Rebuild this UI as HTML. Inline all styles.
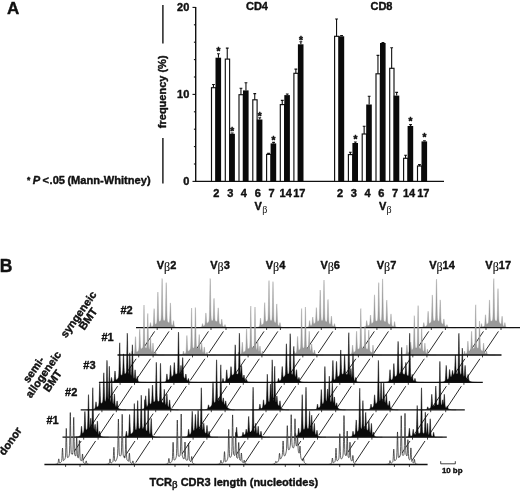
<!DOCTYPE html>
<html lang="en"><head><meta charset="utf-8"><title>Figure</title>
<style>html,body{margin:0;padding:0;background:#fff}body{width:520px;height:492px;overflow:hidden}svg{display:block}text{stroke:#111;stroke-width:0.4px;stroke-linejoin:round}</style>
</head><body>
<svg width="520" height="492" viewBox="0 0 520 492" font-family='"Liberation Sans", sans-serif' fill="#111"><text x="7" y="14.2" font-size="17" font-weight="bold" text-anchor="start" >A</text>
<line x1="162.9" y1="5" x2="162.9" y2="43.5" stroke="#111" stroke-width="1.4"/>
<line x1="162.9" y1="138" x2="162.9" y2="183.5" stroke="#111" stroke-width="1.4"/>
<text transform="translate(166.2,91.8) rotate(-90)" font-size="11" font-weight="bold" text-anchor="middle">frequency (%)</text>
<text y="184.2" font-size="11.1" font-weight="bold" text-anchor="start"><tspan x="27" font-size="8.5" dy="-1.2">*</tspan><tspan font-style="italic" x="32.8" dy="1.2">P</tspan><tspan x="42.6">&lt;</tspan><tspan x="49.6">.05 </tspan><tspan x="67.4">(Mann-Whitney)</tspan></text>
<line x1="195.7" y1="6.9" x2="195.7" y2="182.0" stroke="#111" stroke-width="1.4"/>
<line x1="192.5" y1="181.40" x2="195.7" y2="181.40" stroke="#111" stroke-width="1.1"/>
<line x1="193.89999999999998" y1="164.00" x2="195.7" y2="164.00" stroke="#111" stroke-width="1.1"/>
<line x1="193.89999999999998" y1="146.60" x2="195.7" y2="146.60" stroke="#111" stroke-width="1.1"/>
<line x1="193.89999999999998" y1="129.20" x2="195.7" y2="129.20" stroke="#111" stroke-width="1.1"/>
<line x1="193.89999999999998" y1="111.80" x2="195.7" y2="111.80" stroke="#111" stroke-width="1.1"/>
<line x1="192.5" y1="94.40" x2="195.7" y2="94.40" stroke="#111" stroke-width="1.1"/>
<line x1="193.89999999999998" y1="77.00" x2="195.7" y2="77.00" stroke="#111" stroke-width="1.1"/>
<line x1="193.89999999999998" y1="59.60" x2="195.7" y2="59.60" stroke="#111" stroke-width="1.1"/>
<line x1="193.89999999999998" y1="42.20" x2="195.7" y2="42.20" stroke="#111" stroke-width="1.1"/>
<line x1="193.89999999999998" y1="24.80" x2="195.7" y2="24.80" stroke="#111" stroke-width="1.1"/>
<line x1="192.5" y1="7.40" x2="195.7" y2="7.40" stroke="#111" stroke-width="1.1"/>
<text x="189.3" y="11.3" font-size="11" font-weight="bold" text-anchor="end" >20</text>
<text x="189.3" y="98.3" font-size="11" font-weight="bold" text-anchor="end" >10</text>
<text x="189.3" y="185.2" font-size="11" font-weight="bold" text-anchor="end" >0</text>
<line x1="195.1" y1="181.4" x2="444" y2="181.4" stroke="#111" stroke-width="1.3"/>
<text x="257" y="9.5" font-size="11" font-weight="bold" text-anchor="middle" >CD4</text>
<text x="381.5" y="9.5" font-size="11" font-weight="bold" text-anchor="middle" >CD8</text>
<rect x="211.50" y="87.70" width="4.30" height="93.70" fill="#fff" stroke="#111" stroke-width="1.15"/>
<path d="M213.45 87.70V84.50M212.05 84.50H214.85" stroke="#111" stroke-width="1.1" fill="none"/>
<rect x="215.50" y="57.70" width="5.60" height="123.70" fill="#0a0a0a"/>
<path d="M218.45 57.70V53.80M217.05 53.80H219.85" stroke="#111" stroke-width="1.1" fill="none"/>
<text x="218.45" y="55.30" font-size="10" font-weight="bold" text-anchor="middle" style="stroke-width:0.5px">*</text>
<rect x="225.30" y="59.10" width="4.30" height="122.30" fill="#fff" stroke="#111" stroke-width="1.15"/>
<path d="M227.25 59.10V48.10M225.85 48.10H228.65" stroke="#111" stroke-width="1.1" fill="none"/>
<rect x="229.30" y="133.80" width="5.60" height="47.60" fill="#0a0a0a"/>
<path d="M232.25 133.80V133.00M230.85 133.00H233.65" stroke="#111" stroke-width="1.1" fill="none"/>
<text x="232.25" y="134.70" font-size="10" font-weight="bold" text-anchor="middle" style="stroke-width:0.5px">*</text>
<rect x="239.00" y="94.70" width="4.30" height="86.70" fill="#fff" stroke="#111" stroke-width="1.15"/>
<path d="M240.95 94.70V88.30M239.55 88.30H242.35" stroke="#111" stroke-width="1.1" fill="none"/>
<rect x="243.00" y="90.40" width="5.60" height="91.00" fill="#0a0a0a"/>
<path d="M245.95 90.40V82.80M244.55 82.80H247.35" stroke="#111" stroke-width="1.1" fill="none"/>
<rect x="252.80" y="99.80" width="4.30" height="81.60" fill="#fff" stroke="#111" stroke-width="1.15"/>
<path d="M254.75 99.80V93.60M253.35 93.60H256.15" stroke="#111" stroke-width="1.1" fill="none"/>
<rect x="256.80" y="119.50" width="5.60" height="61.90" fill="#0a0a0a"/>
<path d="M259.75 119.50V117.80M258.35 117.80H261.15" stroke="#111" stroke-width="1.1" fill="none"/>
<text x="259.75" y="119.50" font-size="10" font-weight="bold" text-anchor="middle" style="stroke-width:0.5px">*</text>
<rect x="266.60" y="154.40" width="4.30" height="27.00" fill="#fff" stroke="#111" stroke-width="1.15"/>
<path d="M268.55 154.40V153.40M267.15 153.40H269.95" stroke="#111" stroke-width="1.1" fill="none"/>
<rect x="270.60" y="143.40" width="5.60" height="38.00" fill="#0a0a0a"/>
<path d="M273.55 143.40V142.40M272.15 142.40H274.95" stroke="#111" stroke-width="1.1" fill="none"/>
<text x="273.55" y="144.30" font-size="10" font-weight="bold" text-anchor="middle" style="stroke-width:0.5px">*</text>
<rect x="280.30" y="104.60" width="4.30" height="76.80" fill="#fff" stroke="#111" stroke-width="1.15"/>
<path d="M282.25 104.60V100.40M280.85 100.40H283.65" stroke="#111" stroke-width="1.1" fill="none"/>
<rect x="284.30" y="95.10" width="5.60" height="86.30" fill="#0a0a0a"/>
<path d="M287.25 95.10V94.00M285.85 94.00H288.65" stroke="#111" stroke-width="1.1" fill="none"/>
<rect x="293.90" y="73.30" width="4.30" height="108.10" fill="#fff" stroke="#111" stroke-width="1.15"/>
<path d="M295.85 73.30V69.10M294.45 69.10H297.25" stroke="#111" stroke-width="1.1" fill="none"/>
<rect x="297.90" y="44.30" width="5.60" height="137.10" fill="#0a0a0a"/>
<path d="M300.85 44.30V41.80M299.45 41.80H302.25" stroke="#111" stroke-width="1.1" fill="none"/>
<text x="300.85" y="43.70" font-size="10" font-weight="bold" text-anchor="middle" style="stroke-width:0.5px">*</text>
<rect x="334.60" y="36.30" width="4.30" height="145.10" fill="#fff" stroke="#111" stroke-width="1.15"/>
<path d="M336.55 36.30V19.00M335.15 19.00H337.95" stroke="#111" stroke-width="1.1" fill="none"/>
<rect x="338.60" y="36.30" width="5.60" height="145.10" fill="#0a0a0a"/>
<path d="M341.55 36.30V35.60M340.15 35.60H342.95" stroke="#111" stroke-width="1.1" fill="none"/>
<rect x="348.40" y="154.60" width="4.30" height="26.80" fill="#fff" stroke="#111" stroke-width="1.15"/>
<path d="M350.35 154.60V152.20M348.95 152.20H351.75" stroke="#111" stroke-width="1.1" fill="none"/>
<rect x="352.40" y="143.00" width="5.60" height="38.40" fill="#0a0a0a"/>
<path d="M355.35 143.00V142.00M353.95 142.00H356.75" stroke="#111" stroke-width="1.1" fill="none"/>
<text x="355.35" y="142.90" font-size="10" font-weight="bold" text-anchor="middle" style="stroke-width:0.5px">*</text>
<rect x="362.20" y="134.00" width="4.30" height="47.40" fill="#fff" stroke="#111" stroke-width="1.15"/>
<path d="M364.15 134.00V126.30M362.75 126.30H365.55" stroke="#111" stroke-width="1.1" fill="none"/>
<rect x="366.20" y="104.50" width="5.60" height="76.90" fill="#0a0a0a"/>
<path d="M369.15 104.50V96.20M367.75 96.20H370.55" stroke="#111" stroke-width="1.1" fill="none"/>
<rect x="376.00" y="73.80" width="4.30" height="107.60" fill="#fff" stroke="#111" stroke-width="1.15"/>
<path d="M377.95 73.80V55.40M376.55 55.40H379.35" stroke="#111" stroke-width="1.1" fill="none"/>
<rect x="380.00" y="43.00" width="5.60" height="138.40" fill="#0a0a0a"/>
<path d="M382.95 43.00V42.60M381.55 42.60H384.35" stroke="#111" stroke-width="1.1" fill="none"/>
<rect x="389.70" y="68.30" width="4.30" height="113.10" fill="#fff" stroke="#111" stroke-width="1.15"/>
<path d="M391.65 68.30V47.70M390.25 47.70H393.05" stroke="#111" stroke-width="1.1" fill="none"/>
<rect x="393.70" y="95.60" width="5.60" height="85.80" fill="#0a0a0a"/>
<path d="M396.65 95.60V92.40M395.25 92.40H398.05" stroke="#111" stroke-width="1.1" fill="none"/>
<rect x="403.60" y="158.30" width="4.30" height="23.10" fill="#fff" stroke="#111" stroke-width="1.15"/>
<path d="M405.55 158.30V155.20M404.15 155.20H406.95" stroke="#111" stroke-width="1.1" fill="none"/>
<rect x="407.60" y="126.00" width="5.60" height="55.40" fill="#0a0a0a"/>
<path d="M410.55 126.00V124.60M409.15 124.60H411.95" stroke="#111" stroke-width="1.1" fill="none"/>
<text x="410.55" y="124.90" font-size="10" font-weight="bold" text-anchor="middle" style="stroke-width:0.5px">*</text>
<rect x="417.50" y="166.00" width="4.30" height="15.40" fill="#fff" stroke="#111" stroke-width="1.15"/>
<path d="M419.45 166.00V164.60M418.05 164.60H420.85" stroke="#111" stroke-width="1.1" fill="none"/>
<rect x="421.50" y="141.40" width="5.60" height="40.00" fill="#0a0a0a"/>
<path d="M424.45 141.40V140.80M423.05 140.80H425.85" stroke="#111" stroke-width="1.1" fill="none"/>
<text x="424.45" y="141.30" font-size="10" font-weight="bold" text-anchor="middle" style="stroke-width:0.5px">*</text>
<text x="216.4" y="197.0" font-size="11" font-weight="bold" text-anchor="middle" >2</text>
<text x="230.2" y="197.0" font-size="11" font-weight="bold" text-anchor="middle" >3</text>
<text x="243.9" y="197.0" font-size="11" font-weight="bold" text-anchor="middle" >4</text>
<text x="257.7" y="197.0" font-size="11" font-weight="bold" text-anchor="middle" >6</text>
<text x="271.5" y="197.0" font-size="11" font-weight="bold" text-anchor="middle" >7</text>
<text x="285.7" y="197.0" font-size="11" font-weight="bold" text-anchor="middle" >14</text>
<text x="299.3" y="197.0" font-size="11" font-weight="bold" text-anchor="middle" >17</text>
<text x="340.0" y="197.0" font-size="11" font-weight="bold" text-anchor="middle" >2</text>
<text x="353.8" y="197.0" font-size="11" font-weight="bold" text-anchor="middle" >3</text>
<text x="367.6" y="197.0" font-size="11" font-weight="bold" text-anchor="middle" >4</text>
<text x="381.4" y="197.0" font-size="11" font-weight="bold" text-anchor="middle" >6</text>
<text x="395.1" y="197.0" font-size="11" font-weight="bold" text-anchor="middle" >7</text>
<text x="409.0" y="197.0" font-size="11" font-weight="bold" text-anchor="middle" >14</text>
<text x="423.3" y="197.0" font-size="11" font-weight="bold" text-anchor="middle" >17</text>
<text x="254.6" y="210.2" font-size="11" font-weight="bold" text-anchor="start">V<tspan font-family="'Liberation Serif', 'DejaVu Serif', serif" font-weight="normal" font-size="10" dy="3" dx="0.3" style="stroke-width:0">β</tspan><tspan dy="-3"></tspan></text>
<text x="378.9" y="210.2" font-size="11" font-weight="bold" text-anchor="start">V<tspan font-family="'Liberation Serif', 'DejaVu Serif', serif" font-weight="normal" font-size="10" dy="3" dx="0.3" style="stroke-width:0">β</tspan><tspan dy="-3"></tspan></text>
<text x="-0.3" y="272.3" font-size="17.5" font-weight="bold" text-anchor="start" >B</text>
<path d="M141.50 327.60L141.50 327.60L141.65 327.60L141.80 327.60L141.95 327.60L142.10 327.60L142.25 327.60L142.40 327.60L142.55 327.60L142.70 327.60L142.85 327.60L143.00 327.60L143.15 327.60L143.30 327.60L143.45 327.60L143.60 327.60L143.75 327.60L143.90 327.60L144.05 327.60L144.20 327.60L144.35 327.60L144.50 327.60L144.65 327.60L144.80 327.60L144.95 327.60L145.10 327.60L145.25 327.59L145.40 327.59L145.55 327.59L145.70 327.59L145.85 327.59L146.00 327.59L146.15 327.59L146.30 327.58L146.45 327.58L146.60 327.58L146.75 327.57L146.90 327.57L147.05 327.57L147.20 327.56L147.35 327.55L147.50 327.55L147.65 327.54L147.80 327.53L147.95 327.52L148.10 327.51L148.25 327.50L148.40 327.48L148.55 327.46L148.70 327.44L148.85 327.42L149.00 327.39L149.15 327.35L149.30 327.29L149.45 327.16L149.60 326.91L149.75 326.47L149.90 325.78L150.05 324.85L150.20 323.83L150.35 322.99L150.50 322.60L150.65 322.93L150.80 323.70L150.95 324.65L151.10 325.52L151.25 326.15L151.40 326.52L151.55 326.70L151.70 326.76L151.85 326.75L152.00 326.67L152.15 326.59L152.30 326.49L152.45 326.39L152.60 326.26L152.75 326.10L152.90 325.84L153.05 325.36L153.20 324.45L153.35 322.82L153.50 320.26L153.65 316.83L153.80 313.10L153.95 310.03L154.10 308.60L154.25 309.83L154.40 312.69L154.55 316.22L154.70 319.45L154.85 321.82L155.00 323.25L155.15 323.96L155.30 324.24L155.45 324.31L155.60 324.28L155.75 324.21L155.90 324.06L156.05 323.88L156.20 323.70L156.35 323.49L156.50 323.23L156.65 322.84L156.80 322.16L156.95 320.85L157.10 318.41L157.25 314.37L157.40 308.62L157.55 301.88L157.70 295.73L157.85 292.04L158.00 292.76L158.15 297.24L158.30 303.59L158.45 309.92L158.60 314.93L158.75 318.19L158.90 319.99L159.05 320.84L159.20 321.19L159.35 321.33L159.50 321.37L159.65 321.38L159.80 321.38L159.95 321.31L160.10 321.19L160.25 321.07L160.40 320.92L160.55 320.76L160.70 320.52L160.85 320.12L161.00 319.30L161.15 317.62L161.30 314.37L161.45 308.89L161.60 301.05L161.75 291.84L161.90 283.44L162.05 278.47L162.20 279.60L162.35 285.95L162.50 294.89L162.65 303.81L162.80 310.89L162.95 315.54L163.10 318.15L163.25 319.45L163.40 320.05L163.55 320.34L163.70 320.51L163.85 320.62L164.00 320.71L164.15 320.79L164.30 320.77L164.45 320.71L164.60 320.62L164.75 320.49L164.90 320.25L165.05 319.73L165.20 318.58L165.35 316.22L165.50 312.01L165.65 305.59L165.80 297.49L165.95 289.37L166.10 283.62L166.25 282.63L166.40 287.22L166.55 294.93L166.70 303.39L166.85 310.60L167.00 315.65L167.15 318.67L167.30 320.26L167.45 321.06L167.60 321.48L167.75 321.75L167.90 321.95L168.05 322.14L168.20 322.31L168.35 322.47L168.50 322.62L168.65 322.71L168.80 322.76L168.95 322.79L169.10 322.76L169.25 322.58L169.40 322.04L169.55 320.85L169.70 318.63L169.85 315.19L170.00 310.83L170.15 306.45L170.30 303.38L170.45 302.92L170.60 305.54L170.75 309.87L170.90 314.61L171.05 318.66L171.20 321.51L171.35 323.25L171.50 324.19L171.65 324.69L171.80 324.98L171.95 325.19L172.10 325.35L172.25 325.50L172.40 325.55L172.55 325.42L172.70 325.08L172.85 324.43L173.00 323.46L173.15 322.30L173.30 321.24L173.45 320.65L173.60 320.88L173.75 321.81L173.90 323.09L174.05 324.36L174.20 325.38L174.35 326.07L174.50 326.48L174.65 326.71L174.80 326.84L174.95 326.93L175.10 326.99L175.25 327.05L175.40 327.10L175.55 327.15L175.70 327.19L175.85 327.23L176.00 327.26L176.15 327.29L176.30 327.32L176.45 327.35L176.60 327.37L176.75 327.40L176.90 327.42L177.05 327.44L177.20 327.45L177.35 327.47L177.50 327.48L177.65 327.49L177.80 327.51L177.95 327.52L178.10 327.53L178.25 327.53L178.40 327.54L178.55 327.55L178.70 327.55L178.85 327.56L179.00 327.56L179.15 327.57L179.30 327.57L179.45 327.58L179.60 327.58L179.75 327.58L179.90 327.58L180.05 327.59L180.20 327.59L180.35 327.59L180.50 327.59L180.65 327.59L180.80 327.59L180.95 327.59L181.10 327.60L181.25 327.60L181.40 327.60L181.55 327.60L181.70 327.60L181.85 327.60L182.00 327.60L182.15 327.60L182.30 327.60L182.45 327.60L182.45 327.60" fill="#999" stroke="#999" stroke-width="0.4"/>
<path d="M193.50 327.60L193.50 327.60L193.65 327.60L193.80 327.60L193.95 327.60L194.10 327.60L194.25 327.60L194.40 327.60L194.55 327.60L194.70 327.60L194.85 327.60L195.00 327.60L195.15 327.60L195.30 327.60L195.45 327.60L195.60 327.60L195.75 327.60L195.90 327.60L196.05 327.60L196.20 327.59L196.35 327.59L196.50 327.59L196.65 327.59L196.80 327.59L196.95 327.59L197.10 327.59L197.25 327.58L197.40 327.58L197.55 327.58L197.70 327.57L197.85 327.57L198.00 327.56L198.15 327.56L198.30 327.55L198.45 327.55L198.60 327.54L198.75 327.53L198.90 327.52L199.05 327.51L199.20 327.50L199.35 327.49L199.50 327.47L199.65 327.46L199.80 327.44L199.95 327.42L200.10 327.40L200.25 327.38L200.40 327.35L200.55 327.32L200.70 327.29L200.85 327.25L201.00 327.21L201.15 327.16L201.30 327.09L201.45 326.98L201.60 326.78L201.75 326.45L201.90 325.94L202.05 325.26L202.20 324.52L202.35 323.91L202.50 323.60L202.65 323.79L202.80 324.28L202.95 324.89L203.10 325.45L203.25 325.83L203.40 326.04L203.55 326.12L203.70 326.10L203.85 326.03L204.00 325.91L204.15 325.79L204.30 325.66L204.45 325.52L204.60 325.33L204.75 325.06L204.90 324.59L205.05 323.76L205.20 322.38L205.35 320.33L205.50 317.77L205.65 315.21L205.80 313.35L205.95 312.91L206.10 314.14L206.25 316.30L206.40 318.69L206.55 320.69L206.70 322.05L206.85 322.81L207.00 323.13L207.15 323.22L207.30 323.20L207.45 323.13L207.60 323.01L207.75 322.86L207.90 322.70L208.05 322.53L208.20 322.36L208.35 322.18L208.50 321.98L208.65 321.75L208.80 321.46L208.95 320.99L209.10 320.12L209.25 318.35L209.40 315.02L209.55 309.43L209.70 301.46L209.85 292.10L210.00 283.57L210.15 278.49L210.30 279.58L210.45 285.95L210.60 294.94L210.75 303.91L210.90 311.02L211.05 315.68L211.20 318.28L211.35 319.56L211.50 320.15L211.65 320.41L211.80 320.56L211.95 320.65L212.10 320.73L212.25 320.79L212.40 320.79L212.55 320.70L212.70 320.54L212.85 320.22L213.00 319.52L213.15 318.13L213.30 315.64L213.45 311.85L213.60 307.08L213.75 302.30L213.90 298.91L214.05 298.31L214.20 300.97L214.35 305.46L214.50 310.40L214.65 314.60L214.80 317.54L214.95 319.29L215.10 320.21L215.25 320.66L215.40 320.89L215.55 321.03L215.70 321.15L215.85 321.25L216.00 321.34L216.15 321.43L216.30 321.51L216.45 321.55L216.60 321.58L216.75 321.60L216.90 321.58L217.05 321.45L217.20 321.08L217.35 320.26L217.50 318.72L217.65 316.33L217.80 313.29L217.95 310.25L218.10 308.13L218.25 307.84L218.40 309.70L218.55 312.76L218.70 316.11L218.85 318.98L219.00 321.02L219.15 322.28L219.30 322.98L219.45 323.38L219.60 323.64L219.75 323.83L219.90 324.00L220.05 324.16L220.20 324.31L220.35 324.45L220.50 324.53L220.65 324.56L220.80 324.48L220.95 324.21L221.10 323.61L221.25 322.65L221.40 321.40L221.55 320.15L221.70 319.29L221.85 319.22L222.00 320.08L222.15 321.46L222.30 322.96L222.45 324.24L222.60 325.17L222.75 325.74L222.90 326.08L223.05 326.28L223.20 326.41L223.35 326.51L223.50 326.60L223.65 326.68L223.80 326.72L223.95 326.72L224.10 326.65L224.25 326.47L224.40 326.15L224.55 325.68L224.70 325.17L224.85 324.76L225.00 324.60L225.15 324.84L225.30 325.32L225.45 325.91L225.60 326.44L225.75 326.85L225.90 327.10L226.05 327.25L226.20 327.33L226.35 327.38L226.50 327.41L226.65 327.44L226.80 327.46L226.95 327.47L227.10 327.49L227.25 327.50L227.40 327.51L227.55 327.52L227.70 327.53L227.85 327.54L228.00 327.55L228.15 327.56L228.30 327.56L228.45 327.57L228.60 327.57L228.75 327.58L228.90 327.58L229.05 327.58L229.20 327.58L229.35 327.59L229.50 327.59L229.65 327.59L229.80 327.59L229.95 327.59L230.10 327.59L230.25 327.59L230.40 327.60L230.55 327.60L230.70 327.60L230.85 327.60L231.00 327.60L231.15 327.60L231.30 327.60L231.45 327.60L231.60 327.60L231.75 327.60L231.90 327.60L232.05 327.60L232.20 327.60L232.35 327.60L232.50 327.60L232.65 327.60L232.80 327.60L232.95 327.60L233.10 327.60L233.25 327.60L233.40 327.60L233.55 327.60L233.70 327.60L233.85 327.60L234.00 327.60L234.00 327.60" fill="#999" stroke="#999" stroke-width="0.4"/>
<path d="M251.50 327.60L251.50 327.60L251.65 327.60L251.80 327.60L251.95 327.60L252.10 327.60L252.25 327.60L252.40 327.60L252.55 327.60L252.70 327.59L252.85 327.59L253.00 327.59L253.15 327.59L253.30 327.59L253.45 327.59L253.60 327.59L253.75 327.59L253.90 327.58L254.05 327.58L254.20 327.58L254.35 327.57L254.50 327.57L254.65 327.56L254.80 327.56L254.95 327.55L255.10 327.55L255.25 327.54L255.40 327.53L255.55 327.52L255.70 327.51L255.85 327.50L256.00 327.49L256.15 327.48L256.30 327.46L256.45 327.44L256.60 327.43L256.75 327.41L256.90 327.38L257.05 327.36L257.20 327.33L257.35 327.30L257.50 327.27L257.65 327.24L257.80 327.20L257.95 327.16L258.10 327.11L258.25 327.06L258.40 327.01L258.55 326.95L258.70 326.88L258.85 326.81L259.00 326.73L259.15 326.62L259.30 326.47L259.45 326.22L259.60 325.76L259.75 324.97L259.90 323.73L260.05 322.08L260.20 320.29L260.35 318.82L260.50 318.10L260.65 318.63L260.80 319.92L260.95 321.53L261.10 322.99L261.25 324.05L261.40 324.66L261.55 324.93L261.70 325.01L261.85 324.98L262.00 324.90L262.15 324.81L262.30 324.69L262.45 324.54L262.60 324.39L262.75 324.24L262.90 324.07L263.05 323.90L263.20 323.71L263.35 323.47L263.50 323.13L263.65 322.53L263.80 321.43L263.95 319.48L264.10 316.42L264.25 312.35L264.40 307.92L264.55 304.29L264.70 302.60L264.85 304.07L265.00 307.47L265.15 311.68L265.30 315.53L265.45 318.36L265.60 320.09L265.75 320.98L265.90 321.36L266.05 321.50L266.20 321.53L266.35 321.52L266.50 321.49L266.65 321.42L266.80 321.31L266.95 321.20L267.10 321.08L267.25 320.95L267.40 320.80L267.55 320.61L267.70 320.29L267.85 319.69L268.00 318.42L268.15 315.91L268.30 311.46L268.45 304.71L268.60 296.21L268.75 287.68L268.90 281.63L269.05 280.53L269.20 285.25L269.35 293.21L269.50 301.96L269.65 309.39L269.80 314.58L269.95 317.64L270.10 319.22L270.25 319.96L270.40 320.31L270.55 320.50L270.70 320.63L270.85 320.73L271.00 320.81L271.15 320.76L271.30 320.70L271.45 320.61L271.60 320.45L271.75 320.14L271.90 319.45L272.05 317.93L272.20 314.95L272.35 309.88L272.50 302.59L272.65 294.01L272.80 286.20L272.95 281.61L273.10 282.75L273.25 288.79L273.40 297.26L273.55 305.73L273.70 312.45L273.85 316.91L274.00 319.46L274.15 320.77L274.30 321.44L274.45 321.81L274.60 322.07L274.75 322.28L274.90 322.48L275.05 322.66L275.20 322.80L275.35 322.84L275.50 322.82L275.65 322.65L275.80 322.15L275.95 321.02L276.10 318.91L276.25 315.62L276.40 311.45L276.55 307.27L276.70 304.34L276.85 303.91L277.00 306.43L277.15 310.59L277.30 315.14L277.45 319.03L277.60 321.77L277.75 323.44L277.90 324.35L278.05 324.84L278.20 325.13L278.35 325.33L278.50 325.49L278.65 325.64L278.80 325.78L278.95 325.82L279.10 325.72L279.25 325.44L279.40 324.95L279.55 324.24L279.70 323.46L279.85 322.84L280.00 322.60L280.15 322.98L280.30 323.75L280.45 324.67L280.60 325.51L280.75 326.15L280.90 326.57L281.05 326.81L281.20 326.95L281.35 327.04L281.50 327.10L281.65 327.15L281.80 327.19L281.95 327.23L282.10 327.27L282.25 327.30L282.40 327.33L282.55 327.36L282.70 327.39L282.85 327.41L283.00 327.43L283.15 327.45L283.30 327.46L283.45 327.48L283.60 327.49L283.75 327.51L283.90 327.52L284.05 327.53L284.20 327.53L284.35 327.54L284.50 327.55L284.65 327.56L284.80 327.56L284.95 327.57L285.10 327.57L285.25 327.57L285.40 327.58L285.55 327.58L285.70 327.58L285.85 327.59L286.00 327.59L286.15 327.59L286.30 327.59L286.45 327.59L286.60 327.59L286.75 327.59L286.90 327.60L287.05 327.60L287.20 327.60L287.35 327.60L287.50 327.60L287.65 327.60L287.80 327.60L287.95 327.60L288.10 327.60L288.25 327.60L288.40 327.60L288.55 327.60L288.70 327.60L288.85 327.60L289.00 327.60L289.00 327.60" fill="#999" stroke="#999" stroke-width="0.4"/>
<path d="M300.60 327.60L300.60 327.60L300.75 327.60L300.90 327.60L301.05 327.60L301.20 327.60L301.35 327.60L301.50 327.59L301.65 327.59L301.80 327.59L301.95 327.59L302.10 327.59L302.25 327.59L302.40 327.59L302.55 327.59L302.70 327.59L302.85 327.58L303.00 327.58L303.15 327.58L303.30 327.58L303.45 327.57L303.60 327.57L303.75 327.57L303.90 327.56L304.05 327.56L304.20 327.55L304.35 327.55L304.50 327.54L304.65 327.53L304.80 327.53L304.95 327.52L305.10 327.51L305.25 327.50L305.40 327.49L305.55 327.48L305.70 327.46L305.85 327.45L306.00 327.43L306.15 327.42L306.30 327.40L306.45 327.38L306.60 327.36L306.75 327.33L306.90 327.31L307.05 327.28L307.20 327.25L307.35 327.22L307.50 327.18L307.65 327.14L307.80 327.10L307.95 327.05L308.10 327.00L308.25 326.92L308.40 326.82L308.55 326.64L308.70 326.30L308.85 325.71L309.00 324.79L309.15 323.56L309.30 322.23L309.45 321.13L309.60 320.60L309.75 321.01L309.90 321.99L310.05 323.20L310.20 324.30L310.35 325.10L310.50 325.57L310.65 325.79L310.80 325.85L310.95 325.83L311.10 325.78L311.25 325.66L311.40 325.53L311.55 325.36L311.70 325.08L311.85 324.61L312.00 323.81L312.15 322.58L312.30 320.95L312.45 319.18L312.60 317.72L312.75 317.00L312.90 317.51L313.05 318.76L313.20 320.32L313.35 321.75L313.50 322.77L313.65 323.37L313.80 323.64L313.95 323.72L314.10 323.70L314.25 323.63L314.40 323.52L314.55 323.39L314.70 323.25L314.85 323.10L315.00 322.91L315.15 322.65L315.30 322.21L315.45 321.39L315.60 319.96L315.75 317.72L315.90 314.74L316.05 311.50L316.20 308.84L316.35 307.60L316.50 308.67L316.65 311.16L316.80 314.23L316.95 317.05L317.10 319.12L317.25 320.38L317.40 321.03L317.55 321.31L317.70 321.41L317.85 321.43L318.00 321.41L318.15 321.32L318.30 321.22L318.45 321.11L318.60 320.99L318.75 320.83L318.90 320.58L319.05 320.11L319.20 319.13L319.35 317.20L319.50 313.78L319.65 308.59L319.80 302.05L319.95 295.51L320.10 290.85L320.25 290.01L320.40 293.62L320.55 299.72L320.70 306.43L320.85 312.13L321.00 316.10L321.15 318.45L321.30 319.66L321.45 320.22L321.60 320.49L321.75 320.63L321.90 320.72L322.05 320.74L322.20 320.67L322.35 320.58L322.50 320.45L322.65 320.23L322.80 319.80L322.95 318.84L323.10 316.86L323.25 313.15L323.40 307.17L323.55 299.12L323.70 290.35L323.85 283.20L324.00 280.00L324.15 283.26L324.30 290.46L324.45 299.30L324.60 307.41L324.75 313.44L324.90 317.21L325.05 319.26L325.20 320.27L325.35 320.77L325.50 321.05L325.65 321.25L325.80 321.41L325.95 321.55L326.10 321.68L326.25 321.78L326.40 321.79L326.55 321.78L326.70 321.70L326.85 321.45L327.00 320.82L327.15 319.46L327.30 316.97L327.45 313.13L327.60 308.27L327.75 303.41L327.90 299.98L328.05 299.45L328.20 302.30L328.35 307.05L328.50 312.26L328.65 316.70L328.80 319.83L328.95 321.72L329.10 322.75L329.25 323.29L329.40 323.60L329.55 323.81L329.70 323.99L329.85 324.15L330.00 324.30L330.15 324.34L330.30 324.27L330.45 324.02L330.60 323.42L330.75 322.33L330.90 320.72L331.05 318.81L331.20 317.08L331.35 316.09L331.50 316.44L331.65 317.92L331.80 319.96L331.95 322.00L332.10 323.63L332.25 324.73L332.40 325.39L332.55 325.75L332.70 325.96L332.85 326.09L333.00 326.20L333.15 326.30L333.30 326.36L333.45 326.35L333.60 326.25L333.75 326.01L333.90 325.59L334.05 324.99L334.20 324.34L334.35 323.81L334.50 323.60L334.65 323.90L334.80 324.52L334.95 325.27L335.10 325.96L335.25 326.48L335.40 326.81L335.55 327.01L335.70 327.11L335.85 327.18L336.00 327.22L336.15 327.26L336.30 327.29L336.45 327.32L336.60 327.35L336.75 327.37L336.90 327.39L337.05 327.41L337.20 327.43L337.35 327.44L337.50 327.46L337.65 327.47L337.80 327.48L337.95 327.50L338.10 327.51L338.25 327.52L338.40 327.52L338.55 327.53L338.70 327.54L338.85 327.55L339.00 327.55L339.15 327.56L339.30 327.56L339.45 327.57L339.60 327.57L339.75 327.57L339.90 327.58L340.05 327.58L340.20 327.58L340.35 327.58L340.50 327.59L340.65 327.59L340.80 327.59L340.95 327.59L341.10 327.59L341.25 327.59L341.40 327.59L341.55 327.59L341.70 327.59L341.85 327.60L342.00 327.60L342.15 327.60L342.30 327.60L342.45 327.60L342.60 327.60L342.75 327.60L342.90 327.60L343.05 327.60L343.20 327.60L343.35 327.60L343.35 327.60" fill="#999" stroke="#999" stroke-width="0.4"/>
<path d="M357.70 327.60L357.70 327.59L357.85 327.59L358.00 327.59L358.15 327.59L358.30 327.59L358.45 327.59L358.60 327.59L358.75 327.59L358.90 327.58L359.05 327.58L359.20 327.58L359.35 327.58L359.50 327.58L359.65 327.57L359.80 327.57L359.95 327.57L360.10 327.56L360.25 327.56L360.40 327.55L360.55 327.55L360.70 327.54L360.85 327.54L361.00 327.53L361.15 327.53L361.30 327.52L361.45 327.51L361.60 327.50L361.75 327.49L361.90 327.48L362.05 327.47L362.20 327.46L362.35 327.45L362.50 327.43L362.65 327.42L362.80 327.40L362.95 327.39L363.10 327.37L363.25 327.35L363.40 327.33L363.55 327.30L363.70 327.28L363.85 327.25L364.00 327.23L364.15 327.20L364.30 327.16L364.45 327.13L364.60 327.09L364.75 327.05L364.90 327.00L365.05 326.96L365.20 326.90L365.35 326.83L365.50 326.72L365.65 326.54L365.80 326.21L365.95 325.63L366.10 324.72L366.25 323.52L366.40 322.20L366.55 321.12L366.70 320.60L366.85 321.00L367.00 321.97L367.15 323.17L367.30 324.26L367.45 325.05L367.60 325.52L367.75 325.74L367.90 325.80L368.05 325.79L368.20 325.75L368.35 325.69L368.50 325.61L368.65 325.51L368.80 325.41L368.95 325.29L369.10 325.17L369.25 325.00L369.40 324.74L369.55 324.28L369.70 323.47L369.85 322.17L370.00 320.34L370.15 318.21L370.30 316.25L370.45 315.06L370.60 315.21L370.75 316.53L370.90 318.42L371.05 320.30L371.20 321.78L371.35 322.71L371.50 323.20L371.65 323.39L371.80 323.43L371.95 323.40L372.10 323.33L372.25 323.21L372.40 323.08L372.55 322.95L372.70 322.81L372.85 322.66L373.00 322.48L373.15 322.25L373.30 321.87L373.45 321.15L373.60 319.74L373.75 317.19L373.90 313.15L374.05 307.73L374.20 301.83L374.35 297.01L374.50 294.80L374.65 296.87L374.80 301.55L374.95 307.31L375.10 312.60L375.25 316.51L375.40 318.92L375.55 320.19L375.70 320.77L375.85 321.02L376.00 321.12L376.15 321.16L376.30 321.19L376.45 321.20L376.60 321.14L376.75 321.05L376.90 320.95L377.05 320.84L377.20 320.70L377.35 320.50L377.50 320.15L377.65 319.42L377.80 317.91L377.95 314.99L378.10 310.05L378.25 302.98L378.40 294.67L378.55 287.10L378.70 282.61L378.85 283.63L379.00 289.37L379.15 297.44L379.30 305.50L379.45 311.88L379.60 316.08L379.75 318.44L379.90 319.61L380.05 320.15L380.20 320.41L380.35 320.56L380.50 320.66L380.65 320.74L380.80 320.66L380.95 320.57L381.10 320.44L381.25 320.22L381.40 319.77L381.55 318.80L381.70 316.76L381.85 312.95L382.00 306.81L382.15 298.54L382.30 289.53L382.45 282.19L382.60 278.90L382.75 282.24L382.90 289.64L383.05 298.71L383.20 307.03L383.35 313.22L383.50 317.09L383.65 319.19L383.80 320.22L383.95 320.73L384.10 321.00L384.25 321.19L384.40 321.35L384.55 321.48L384.70 321.61L384.85 321.72L385.00 321.80L385.15 321.81L385.30 321.81L385.45 321.76L385.60 321.58L385.75 321.13L385.90 320.09L386.05 318.11L386.20 314.87L386.35 310.48L386.50 305.69L386.65 301.80L386.80 300.10L386.95 301.98L387.10 306.04L387.25 311.01L387.40 315.58L387.55 318.99L387.70 321.15L387.85 322.35L388.00 322.98L388.15 323.32L388.30 323.54L388.45 323.71L388.60 323.86L388.75 324.00L388.90 324.13L389.05 324.26L389.20 324.37L389.35 324.44L389.50 324.49L389.65 324.52L389.80 324.49L389.95 324.31L390.10 323.84L390.25 322.87L390.40 321.27L390.55 319.07L390.70 316.67L390.85 314.73L391.00 313.90L391.15 314.89L391.30 317.00L391.45 319.57L391.60 321.93L391.75 323.70L391.90 324.82L392.05 325.46L392.20 325.80L392.35 326.00L392.50 326.12L392.65 326.23L392.80 326.31L392.95 326.39L393.10 326.47L393.25 326.49L393.40 326.49L393.55 326.41L393.70 326.20L393.85 325.76L394.00 325.02L394.15 324.00L394.30 322.89L394.45 321.99L394.60 321.60L394.75 322.06L394.90 323.04L395.05 324.22L395.20 325.31L395.35 326.13L395.50 326.65L395.65 326.94L395.80 327.09L395.95 327.17L396.10 327.22L396.25 327.26L396.40 327.29L396.55 327.32L396.70 327.35L396.85 327.37L397.00 327.39L397.15 327.41L397.30 327.43L397.45 327.44L397.60 327.46L397.75 327.47L397.90 327.48L398.05 327.49L398.20 327.50L398.35 327.51L398.50 327.52L398.65 327.53L398.80 327.53L398.95 327.54L399.10 327.55L399.25 327.55L399.40 327.56L399.55 327.56L399.70 327.56L399.85 327.57L400.00 327.57L400.15 327.57L400.30 327.58L400.45 327.58L400.60 327.58L400.75 327.58L400.90 327.59L401.05 327.59L401.20 327.59L401.35 327.59L401.50 327.59L401.65 327.59L401.80 327.59L401.95 327.59L402.10 327.59L402.25 327.59L402.40 327.60L402.55 327.60L402.70 327.60L402.85 327.60L403.00 327.60L403.15 327.60L403.30 327.60L403.45 327.60L403.60 327.60L403.60 327.60" fill="#999" stroke="#999" stroke-width="0.4"/>
<path d="M414.80 327.60L414.80 327.60L414.95 327.60L415.10 327.60L415.25 327.60L415.40 327.60L415.55 327.60L415.70 327.60L415.85 327.60L416.00 327.60L416.15 327.60L416.30 327.60L416.45 327.60L416.60 327.60L416.75 327.60L416.90 327.60L417.05 327.60L417.20 327.60L417.35 327.60L417.50 327.60L417.65 327.60L417.80 327.60L417.95 327.60L418.10 327.60L418.25 327.60L418.40 327.60L418.55 327.59L418.70 327.59L418.85 327.59L419.00 327.59L419.15 327.59L419.30 327.59L419.45 327.59L419.60 327.58L419.75 327.58L419.90 327.58L420.05 327.57L420.20 327.57L420.35 327.57L420.50 327.56L420.65 327.55L420.80 327.55L420.95 327.54L421.10 327.53L421.25 327.52L421.40 327.51L421.55 327.49L421.70 327.48L421.85 327.46L422.00 327.44L422.15 327.41L422.30 327.38L422.45 327.34L422.60 327.28L422.75 327.15L422.90 326.90L423.05 326.46L423.20 325.77L423.35 324.84L423.50 323.83L423.65 323.00L423.80 322.60L423.95 322.92L424.10 323.68L424.25 324.62L424.40 325.48L424.55 326.10L424.70 326.46L424.85 326.63L425.00 326.68L425.15 326.67L425.30 326.63L425.45 326.58L425.60 326.50L425.75 326.42L425.90 326.32L426.05 326.22L426.20 326.11L426.35 326.00L426.50 325.87L426.65 325.72L426.80 325.53L426.95 325.24L427.10 324.72L427.25 323.78L427.40 322.18L427.55 319.81L427.70 316.85L427.85 313.87L428.00 311.72L428.15 311.24L428.30 312.70L428.45 315.25L428.60 318.06L428.75 320.43L428.90 322.04L429.05 322.94L429.20 323.35L429.35 323.47L429.50 323.46L429.65 323.39L429.80 323.31L429.95 323.21L430.10 323.06L430.25 322.90L430.40 322.74L430.55 322.57L430.70 322.39L430.85 322.18L431.00 321.89L431.15 321.41L431.30 320.49L431.45 318.75L431.60 315.73L431.75 311.20L431.90 305.50L432.05 299.79L432.20 295.72L432.35 294.93L432.50 297.98L432.65 303.18L432.80 308.90L432.95 313.76L433.10 317.13L433.25 319.11L433.40 320.11L433.55 320.56L433.70 320.75L433.85 320.84L434.00 320.89L434.15 320.92L434.30 320.90L434.45 320.82L434.60 320.74L434.75 320.65L434.90 320.53L435.05 320.36L435.20 320.07L435.35 319.48L435.50 318.20L435.65 315.63L435.80 311.05L435.95 304.09L436.10 295.32L436.25 286.52L436.40 280.27L436.55 279.16L436.70 284.05L436.85 292.30L437.00 301.36L437.15 309.07L437.30 314.45L437.45 317.65L437.60 319.30L437.75 320.10L437.90 320.50L438.05 320.73L438.20 320.89L438.35 321.03L438.50 321.16L438.65 321.23L438.80 321.19L438.95 321.06L439.10 320.72L439.25 319.92L439.40 318.30L439.55 315.51L439.70 311.47L439.85 306.71L440.00 302.38L440.15 299.86L440.30 300.57L440.45 304.02L440.60 308.85L440.75 313.67L440.90 317.52L441.05 320.09L441.20 321.58L441.35 322.39L441.50 322.83L441.65 323.10L441.80 323.31L441.95 323.50L442.10 323.67L442.25 323.83L442.40 323.99L442.55 324.12L442.70 324.18L442.85 324.15L443.00 323.97L443.15 323.51L443.30 322.69L443.45 321.55L443.60 320.29L443.75 319.29L443.90 318.90L444.05 319.52L444.20 320.75L444.35 322.23L444.50 323.60L444.65 324.64L444.80 325.32L444.95 325.72L445.10 325.97L445.25 326.12L445.40 326.24L445.55 326.35L445.70 326.44L445.85 326.49L446.00 326.49L446.15 326.41L446.30 326.21L446.45 325.87L446.60 325.42L446.75 324.97L446.90 324.66L447.05 324.65L447.20 324.97L447.35 325.49L447.50 326.05L447.65 326.52L447.80 326.87L447.95 327.08L448.10 327.20L448.25 327.27L448.40 327.32L448.55 327.35L448.70 327.38L448.85 327.40L449.00 327.43L449.15 327.45L449.30 327.46L449.45 327.48L449.60 327.49L449.75 327.51L449.90 327.52L450.05 327.53L450.20 327.54L450.35 327.54L450.50 327.55L450.65 327.56L450.80 327.56L450.95 327.57L451.10 327.57L451.25 327.58L451.40 327.58L451.55 327.58L451.70 327.58L451.85 327.59L452.00 327.59L452.15 327.59L452.30 327.59L452.45 327.59L452.60 327.59L452.75 327.59L452.90 327.60L453.05 327.60L453.20 327.60L453.35 327.60L453.50 327.60L453.65 327.60L453.80 327.60L453.95 327.60L454.10 327.60L454.25 327.60L454.40 327.60L454.55 327.60L454.70 327.60L454.85 327.60L455.00 327.60L455.15 327.60L455.30 327.60L455.45 327.60L455.60 327.60L455.75 327.60L455.90 327.60L455.90 327.60" fill="#999" stroke="#999" stroke-width="0.4"/>
<path d="M472.50 327.60L472.50 327.60L472.65 327.60L472.80 327.60L472.95 327.60L473.10 327.60L473.25 327.60L473.40 327.60L473.55 327.60L473.70 327.60L473.85 327.60L474.00 327.60L474.15 327.60L474.30 327.60L474.45 327.60L474.60 327.60L474.75 327.60L474.90 327.60L475.05 327.60L475.20 327.60L475.35 327.60L475.50 327.60L475.65 327.60L475.80 327.60L475.95 327.60L476.10 327.60L476.25 327.60L476.40 327.60L476.55 327.60L476.70 327.59L476.85 327.59L477.00 327.59L477.15 327.59L477.30 327.59L477.45 327.59L477.60 327.59L477.75 327.58L477.90 327.58L478.05 327.58L478.20 327.57L478.35 327.57L478.50 327.57L478.65 327.56L478.80 327.55L478.95 327.55L479.10 327.54L479.25 327.53L479.40 327.52L479.55 327.50L479.70 327.49L479.85 327.47L480.00 327.45L480.15 327.41L480.30 327.36L480.45 327.26L480.60 327.07L480.75 326.71L480.90 326.15L481.05 325.40L481.20 324.59L481.35 323.92L481.50 323.60L481.65 323.86L481.80 324.48L481.95 325.24L482.10 325.93L482.25 326.43L482.40 326.73L482.55 326.87L482.70 326.91L482.85 326.90L483.00 326.86L483.15 326.81L483.30 326.74L483.45 326.66L483.60 326.58L483.75 326.49L483.90 326.38L484.05 326.27L484.20 326.11L484.35 325.88L484.50 325.46L484.65 324.71L484.80 323.44L484.95 321.55L485.10 319.19L485.25 316.82L485.40 315.10L485.55 314.71L485.70 315.85L485.85 317.86L486.00 320.07L486.15 321.93L486.30 323.19L486.45 323.89L486.60 324.18L486.75 324.26L486.90 324.22L487.05 324.15L487.20 324.05L487.35 323.90L487.50 323.74L487.65 323.58L487.80 323.40L487.95 323.21L488.10 322.99L488.25 322.67L488.40 322.14L488.55 321.15L488.70 319.34L488.85 316.35L489.00 312.12L489.15 307.17L489.30 302.65L489.45 299.93L489.60 300.43L489.75 303.69L489.90 308.31L490.05 312.92L490.20 316.56L490.35 318.94L490.50 320.24L490.65 320.85L490.80 321.10L490.95 321.19L491.10 321.21L491.25 321.22L491.40 321.21L491.55 321.12L491.70 321.03L491.85 320.93L492.00 320.81L492.15 320.68L492.30 320.52L492.45 320.27L492.60 319.79L492.75 318.78L492.90 316.71L493.05 312.86L493.20 306.69L493.35 298.37L493.50 289.31L493.65 281.92L493.80 278.60L493.95 281.92L494.10 289.31L494.25 298.37L494.40 306.68L494.55 312.85L494.70 316.69L494.85 318.76L495.00 319.76L495.15 320.23L495.30 320.48L495.45 320.64L495.60 320.76L495.75 320.86L495.90 320.96L496.05 321.00L496.20 320.98L496.35 320.95L496.50 320.88L496.65 320.75L496.80 320.45L496.95 319.72L497.10 318.16L497.25 315.20L497.40 310.41L497.55 303.94L497.70 296.87L497.85 291.13L498.00 288.60L498.15 291.31L498.30 297.23L498.45 304.47L498.60 311.13L498.75 316.10L498.90 319.23L499.05 320.97L499.20 321.87L499.35 322.34L499.50 322.64L499.65 322.87L499.80 323.07L499.95 323.26L500.10 323.43L500.25 323.60L500.40 323.76L500.55 323.92L500.70 324.00L500.85 324.05L501.00 324.01L501.15 323.79L501.30 323.22L501.45 322.18L501.60 320.64L501.75 318.79L501.90 317.13L502.05 316.18L502.20 316.54L502.35 318.01L502.50 320.03L502.65 322.04L502.80 323.65L502.95 324.74L503.10 325.40L503.25 325.77L503.40 325.99L503.55 326.13L503.70 326.24L503.85 326.22L504.00 326.09L504.15 325.77L504.30 325.21L504.45 324.43L504.60 323.57L504.75 322.88L504.90 322.60L505.05 322.99L505.20 323.79L505.35 324.76L505.50 325.65L505.65 326.32L505.80 326.75L505.95 326.99L506.10 327.12L506.25 327.20L506.40 327.25L506.55 327.29L506.70 327.33L506.85 327.36L507.00 327.39L507.15 327.41L507.30 327.43L507.45 327.45L507.60 327.47L507.75 327.48L507.90 327.50L508.05 327.51L508.20 327.52L508.35 327.53L508.50 327.54L508.65 327.55L508.80 327.55L508.95 327.56L509.10 327.56L509.25 327.57L509.40 327.57L509.55 327.58L509.70 327.58L509.85 327.58L510.00 327.58L510.15 327.59L510.30 327.59L510.45 327.59L510.60 327.59L510.75 327.59L510.90 327.59L511.05 327.59L511.20 327.60L511.35 327.60L511.50 327.60L511.65 327.60L511.80 327.60L511.95 327.60L512.10 327.60L512.25 327.60L512.40 327.60L512.55 327.60L512.70 327.60L512.85 327.60L513.00 327.60L513.15 327.60L513.30 327.60L513.45 327.60L513.60 327.60L513.75 327.60L513.75 327.60" fill="#999" stroke="#999" stroke-width="0.4"/>
<line x1="136.0" y1="327.6" x2="520.0" y2="327.6" stroke="#111" stroke-width="1.3"/>
<path d="M157.20 327.60v2.4M171.60 327.60v2.4M211.00 327.60v2.4M226.00 327.60v2.4M266.60 327.60v2.4M280.40 327.60v2.4M321.30 327.60v2.4M335.40 327.60v2.4M376.90 327.60v2.4M391.00 327.60v2.4M431.30 327.60v2.4M445.40 327.60v2.4M486.00 327.60v2.4M501.00 327.60v2.4" stroke="#111" stroke-width="0.8" fill="none"/>
<path d="M140.05 353.00L154.63 331.40M154.45 353.00L169.03 331.40M193.85 353.00L208.43 331.40M208.85 353.00L223.43 331.40M249.45 353.00L264.03 331.40M263.25 353.00L277.83 331.40M304.15 353.00L318.73 331.40M318.25 353.00L332.83 331.40M359.75 353.00L374.33 331.40M373.85 353.00L388.43 331.40M414.15 353.00L428.73 331.40M428.25 353.00L442.83 331.40M468.85 353.00L483.43 331.40M483.85 353.00L498.43 331.40" stroke="#111" stroke-width="0.9" fill="none"/>
<path d="M123.00 355.00L123.00 355.00L123.15 355.00L123.30 355.00L123.45 355.00L123.60 355.00L123.75 355.00L123.90 355.00L124.05 355.00L124.20 355.00L124.35 355.00L124.50 355.00L124.65 355.00L124.80 355.00L124.95 355.00L125.10 355.00L125.25 355.00L125.40 355.00L125.55 355.00L125.70 355.00L125.85 355.00L126.00 355.00L126.15 355.00L126.30 355.00L126.45 355.00L126.60 355.00L126.75 355.00L126.90 355.00L127.05 355.00L127.20 355.00L127.35 354.99L127.50 354.99L127.65 354.99L127.80 354.99L127.95 354.99L128.10 354.99L128.25 354.98L128.40 354.98L128.55 354.98L128.70 354.98L128.85 354.97L129.00 354.97L129.15 354.96L129.30 354.95L129.45 354.95L129.60 354.94L129.75 354.93L129.90 354.92L130.05 354.90L130.20 354.89L130.35 354.87L130.50 354.85L130.65 354.82L130.80 354.77L130.95 354.66L131.10 354.47L131.25 354.12L131.40 353.56L131.55 352.81L131.70 351.99L131.85 351.32L132.00 351.00L132.15 351.26L132.30 351.88L132.45 352.64L132.60 353.34L132.75 353.84L132.90 354.14L133.05 354.28L133.20 354.32L133.35 354.27L133.50 354.20L133.65 354.11L133.80 354.02L133.95 353.91L134.10 353.77L134.25 353.56L134.40 353.18L134.55 352.46L134.70 351.12L134.85 348.90L135.00 345.75L135.15 342.07L135.30 338.69L135.45 336.65L135.60 337.00L135.75 339.39L135.90 342.79L136.05 346.17L136.20 348.83L136.35 350.54L136.50 351.45L136.65 351.84L136.80 351.95L136.95 351.95L137.10 351.89L137.25 351.81L137.40 351.71L137.55 351.61L137.70 351.46L137.85 351.30L138.00 351.13L138.15 350.95L138.30 350.74L138.45 350.48L138.60 350.06L138.75 349.31L138.90 347.92L139.05 345.54L139.20 341.99L139.35 337.55L139.50 333.09L139.65 329.90L139.80 329.24L139.95 331.54L140.10 335.51L140.25 339.87L140.40 343.57L140.55 346.13L140.70 347.60L140.85 348.33L141.00 348.63L141.15 348.73L141.30 348.76L141.45 348.75L141.60 348.73L141.75 348.63L141.90 348.52L142.05 348.41L142.20 348.29L142.35 348.15L142.50 347.97L142.65 347.70L142.80 347.21L142.95 346.17L143.10 344.04L143.25 340.10L143.40 333.77L143.55 325.25L143.70 315.97L143.85 308.41L144.00 305.00L144.15 308.40L144.30 315.96L144.45 325.23L144.60 333.73L144.75 340.05L144.90 343.98L145.05 346.09L145.20 347.11L145.35 347.58L145.50 347.83L145.65 347.98L145.80 348.10L145.95 348.20L146.10 348.16L146.25 348.09L146.40 347.96L146.55 347.68L146.70 347.07L146.85 345.73L147.00 343.08L147.15 338.58L147.30 332.10L147.45 324.47L147.60 317.53L147.75 313.45L147.90 314.47L148.05 319.86L148.20 327.41L148.35 334.96L148.50 340.96L148.65 344.94L148.80 347.22L148.95 348.40L149.10 349.00L149.25 349.35L149.40 349.45L149.55 349.03L149.70 348.10L149.85 346.46L150.00 344.05L150.15 341.20L150.30 338.62L150.45 337.14L150.60 337.63L150.75 339.81L150.90 342.83L151.05 345.84L151.20 348.25L151.35 349.88L151.50 350.85L151.65 351.39L151.80 351.71L151.95 351.62L152.10 351.26L152.25 350.48L152.40 349.15L152.55 347.31L152.70 345.30L152.85 343.67L153.00 343.00L153.15 343.89L153.30 345.73L153.45 347.96L153.60 350.01L153.75 351.55L153.90 352.54L154.05 353.12L154.20 353.43L154.35 353.62L154.50 353.69L154.65 353.56L154.80 353.27L154.95 352.79L155.10 352.16L155.25 351.53L155.40 351.10L155.55 351.06L155.70 351.50L155.85 352.19L156.00 352.95L156.15 353.59L156.30 354.05L156.45 354.34L156.60 354.50L156.75 354.59L156.90 354.65L157.05 354.69L157.20 354.73L157.35 354.76L157.50 354.78L157.65 354.81L157.80 354.83L157.95 354.85L158.10 354.87L158.25 354.88L158.40 354.89L158.55 354.91L158.70 354.92L158.85 354.93L159.00 354.94L159.15 354.94L159.30 354.95L159.45 354.96L159.60 354.96L159.75 354.97L159.90 354.97L160.05 354.98L160.20 354.98L160.35 354.98L160.50 354.98L160.65 354.99L160.80 354.99L160.95 354.99L161.10 354.99L161.25 354.99L161.40 354.99L161.55 354.99L161.70 355.00L161.85 355.00L162.00 355.00L162.15 355.00L162.30 355.00L162.45 355.00L162.60 355.00L162.75 355.00L162.90 355.00L163.05 355.00L163.20 355.00L163.35 355.00L163.50 355.00L163.65 355.00L163.80 355.00L163.95 355.00L164.10 355.00L164.25 355.00L164.40 355.00L164.40 355.00" fill="#999" stroke="#999" stroke-width="0.4"/>
<path d="M174.50 355.00L174.50 355.00L174.65 355.00L174.80 355.00L174.95 355.00L175.10 355.00L175.25 355.00L175.40 355.00L175.55 355.00L175.70 355.00L175.85 355.00L176.00 355.00L176.15 355.00L176.30 355.00L176.45 355.00L176.60 355.00L176.75 355.00L176.90 355.00L177.05 355.00L177.20 355.00L177.35 355.00L177.50 355.00L177.65 355.00L177.80 355.00L177.95 354.99L178.10 354.99L178.25 354.99L178.40 354.99L178.55 354.99L178.70 354.99L178.85 354.99L179.00 354.98L179.15 354.98L179.30 354.98L179.45 354.97L179.60 354.97L179.75 354.97L179.90 354.96L180.05 354.95L180.20 354.95L180.35 354.94L180.50 354.93L180.65 354.92L180.80 354.91L180.95 354.90L181.10 354.88L181.25 354.87L181.40 354.85L181.55 354.83L181.70 354.81L181.85 354.78L182.00 354.75L182.15 354.71L182.30 354.65L182.45 354.54L182.60 354.35L182.75 354.00L182.90 353.46L183.05 352.75L183.20 351.96L183.35 351.32L183.50 351.00L183.65 351.23L183.80 351.79L183.95 352.48L184.10 353.11L184.25 353.56L184.40 353.82L184.55 353.92L184.70 353.94L184.85 353.84L185.00 353.74L185.15 353.63L185.30 353.50L185.45 353.35L185.60 353.15L185.75 352.82L185.90 352.20L186.05 351.05L186.20 349.08L186.35 346.13L186.50 342.44L186.65 338.73L186.80 336.06L186.95 335.49L187.10 337.37L187.25 340.61L187.40 344.19L187.55 347.21L187.70 349.28L187.85 350.45L188.00 350.99L188.15 351.17L188.30 351.19L188.45 351.14L188.60 351.07L188.75 350.98L188.90 350.88L189.05 350.73L189.20 350.57L189.35 350.41L189.50 350.24L189.65 350.06L189.80 349.86L189.95 349.66L190.10 349.41L190.25 349.08L190.40 348.53L190.55 347.47L190.70 345.38L190.85 341.57L191.00 335.51L191.15 327.38L191.30 318.52L191.45 311.29L191.60 308.00L191.75 311.15L191.90 318.23L192.05 326.94L192.20 334.94L192.35 340.85L192.50 344.52L192.65 346.47L192.80 347.39L192.95 347.80L193.10 347.99L193.25 348.09L193.40 348.16L193.55 348.16L193.70 348.06L193.85 347.92L194.00 347.73L194.15 347.37L194.30 346.61L194.45 345.01L194.60 341.92L194.75 336.68L194.90 329.18L195.05 320.35L195.20 312.30L195.35 307.54L195.50 308.64L195.65 314.75L195.80 323.34L195.95 331.93L196.10 338.73L196.25 343.21L196.40 345.74L196.55 347.01L196.70 347.61L196.85 347.92L197.00 348.10L197.15 348.24L197.30 348.37L197.45 348.48L197.60 348.58L197.75 348.63L197.90 348.58L198.05 348.43L198.20 348.03L198.35 347.18L198.50 345.60L198.65 343.17L198.80 340.09L198.95 337.01L199.10 334.84L199.25 334.53L199.40 336.39L199.55 339.46L199.70 342.82L199.85 345.70L200.00 347.74L200.15 348.99L200.30 349.69L200.45 350.09L200.60 350.24L200.75 350.04L200.90 349.52L201.05 348.57L201.20 347.15L201.35 345.45L201.50 343.92L201.65 343.07L201.80 343.42L201.95 344.81L202.10 346.70L202.25 348.59L202.40 350.12L202.55 351.16L202.70 351.80L202.85 352.17L203.00 352.41L203.15 352.48L203.30 352.40L203.45 352.12L203.60 351.52L203.75 350.56L203.90 349.31L204.05 348.06L204.20 347.20L204.35 347.12L204.50 347.95L204.65 349.30L204.80 350.77L204.95 352.03L205.10 352.93L205.25 353.49L205.40 353.81L205.55 353.99L205.70 354.11L205.85 354.19L206.00 354.17L206.15 354.06L206.30 353.82L206.45 353.44L206.60 352.94L206.75 352.43L206.90 352.08L207.05 352.05L207.20 352.38L207.35 352.92L207.50 353.51L207.65 354.01L207.80 354.37L207.95 354.58L208.10 354.70L208.25 354.77L208.40 354.81L208.55 354.83L208.70 354.86L208.85 354.87L209.00 354.89L209.15 354.90L209.30 354.92L209.45 354.93L209.60 354.94L209.75 354.94L209.90 354.95L210.05 354.96L210.20 354.96L210.35 354.97L210.50 354.97L210.65 354.98L210.80 354.98L210.95 354.98L211.10 354.98L211.25 354.99L211.40 354.99L211.55 354.99L211.70 354.99L211.85 354.99L212.00 354.99L212.15 355.00L212.30 355.00L212.45 355.00L212.60 355.00L212.75 355.00L212.90 355.00L213.05 355.00L213.20 355.00L213.35 355.00L213.50 355.00L213.65 355.00L213.80 355.00L213.95 355.00L214.10 355.00L214.25 355.00L214.40 355.00L214.55 355.00L214.70 355.00L214.85 355.00L215.00 355.00L215.15 355.00L215.30 355.00L215.45 355.00L215.60 355.00L215.75 355.00L215.90 355.00L215.90 355.00" fill="#999" stroke="#999" stroke-width="0.4"/>
<path d="M229.50 355.00L229.50 355.00L229.65 355.00L229.80 355.00L229.95 355.00L230.10 355.00L230.25 355.00L230.40 355.00L230.55 355.00L230.70 355.00L230.85 355.00L231.00 355.00L231.15 355.00L231.30 355.00L231.45 355.00L231.60 355.00L231.75 355.00L231.90 355.00L232.05 355.00L232.20 355.00L232.35 355.00L232.50 355.00L232.65 355.00L232.80 355.00L232.95 355.00L233.10 355.00L233.25 355.00L233.40 355.00L233.55 355.00L233.70 355.00L233.85 355.00L234.00 355.00L234.15 355.00L234.30 354.99L234.45 354.99L234.60 354.99L234.75 354.99L234.90 354.99L235.05 354.99L235.20 354.98L235.35 354.98L235.50 354.98L235.65 354.98L235.80 354.97L235.95 354.97L236.10 354.96L236.25 354.95L236.40 354.95L236.55 354.94L236.70 354.93L236.85 354.91L237.00 354.90L237.15 354.88L237.30 354.84L237.45 354.76L237.60 354.61L237.75 354.35L237.90 353.93L238.05 353.36L238.20 352.75L238.35 352.24L238.50 352.00L238.65 352.20L238.80 352.67L238.95 353.24L239.10 353.77L239.25 354.15L239.40 354.37L239.55 354.48L239.70 354.51L239.85 354.50L240.00 354.46L240.15 354.40L240.30 354.34L240.45 354.27L240.60 354.19L240.75 354.10L240.90 353.99L241.05 353.83L241.20 353.56L241.35 353.05L241.50 352.12L241.65 350.59L241.80 348.43L241.95 345.91L242.10 343.59L242.25 342.18L242.40 342.39L242.55 343.99L242.70 346.27L242.85 348.54L243.00 350.31L243.15 351.44L243.30 352.03L243.45 352.26L243.60 352.30L243.75 352.26L243.90 352.18L244.05 352.09L244.20 351.99L244.35 351.85L244.50 351.69L244.65 351.54L244.80 351.37L244.95 351.19L245.10 351.00L245.25 350.76L245.40 350.40L245.55 349.79L245.70 348.64L245.85 346.61L246.00 343.42L246.15 339.17L246.30 334.55L246.45 330.76L246.60 329.00L246.75 330.54L246.90 334.11L247.05 338.51L247.20 342.54L247.35 345.51L247.50 347.33L247.65 348.26L247.80 348.67L247.95 348.82L248.10 348.86L248.25 348.85L248.40 348.83L248.55 348.74L248.70 348.63L248.85 348.51L249.00 348.38L249.15 348.23L249.30 348.05L249.45 347.79L249.60 347.29L249.75 346.27L249.90 344.18L250.05 340.32L250.20 334.13L250.35 325.80L250.50 316.73L250.65 309.33L250.80 306.00L250.95 309.32L251.10 316.70L251.25 325.76L251.40 334.07L251.55 340.24L251.70 344.08L251.85 346.14L252.00 347.13L252.15 347.59L252.30 347.83L252.45 347.97L252.60 348.08L252.75 348.17L252.90 348.25L253.05 348.21L253.20 348.16L253.35 348.09L253.50 347.98L253.65 347.79L253.80 347.37L253.95 346.43L254.10 344.43L254.25 340.67L254.40 334.61L254.55 326.42L254.70 317.49L254.85 310.23L255.00 307.00L255.15 310.37L255.30 317.78L255.45 326.86L255.60 335.19L255.75 341.40L255.90 345.31L256.05 347.45L256.20 348.53L256.35 349.10L256.50 349.43L256.65 349.68L256.80 349.65L256.95 349.15L257.10 348.17L257.25 346.63L257.40 344.66L257.55 342.68L257.70 341.32L257.85 341.17L258.00 342.47L258.15 344.56L258.30 346.85L258.45 348.81L258.60 350.21L258.75 351.10L258.90 351.61L259.05 351.61L259.20 351.22L259.35 350.47L259.50 349.33L259.65 347.97L259.80 346.74L259.95 346.05L260.10 346.35L260.25 347.47L260.40 349.01L260.55 350.54L260.70 351.78L260.85 352.62L261.00 353.13L261.15 353.42L261.30 353.60L261.45 353.67L261.60 353.58L261.75 353.36L261.90 352.95L262.05 352.36L262.20 351.72L262.35 351.20L262.50 351.00L262.65 351.31L262.80 351.94L262.95 352.69L263.10 353.39L263.25 353.91L263.40 354.25L263.55 354.44L263.70 354.55L263.85 354.62L264.00 354.67L264.15 354.70L264.30 354.74L264.45 354.77L264.60 354.79L264.75 354.81L264.90 354.83L265.05 354.85L265.20 354.87L265.35 354.88L265.50 354.90L265.65 354.91L265.80 354.92L265.95 354.93L266.10 354.94L266.25 354.95L266.40 354.95L266.55 354.96L266.70 354.96L266.85 354.97L267.00 354.97L267.15 354.98L267.30 354.98L267.45 354.98L267.60 354.98L267.75 354.99L267.90 354.99L268.05 354.99L268.20 354.99L268.35 354.99L268.50 354.99L268.65 354.99L268.80 355.00L268.95 355.00L269.10 355.00L269.25 355.00L269.40 355.00L269.55 355.00L269.70 355.00L269.85 355.00L270.00 355.00L270.15 355.00L270.30 355.00L270.45 355.00L270.60 355.00L270.75 355.00L270.90 355.00L271.05 355.00L271.20 355.00L271.35 355.00L271.50 355.00L271.50 355.00" fill="#999" stroke="#999" stroke-width="0.4"/>
<path d="M285.00 355.00L285.00 355.00L285.15 355.00L285.30 355.00L285.45 355.00L285.60 355.00L285.75 355.00L285.90 355.00L286.05 355.00L286.20 355.00L286.35 355.00L286.50 355.00L286.65 355.00L286.80 355.00L286.95 355.00L287.10 355.00L287.25 355.00L287.40 354.99L287.55 354.99L287.70 354.99L287.85 354.99L288.00 354.99L288.15 354.99L288.30 354.99L288.45 354.98L288.60 354.98L288.75 354.98L288.90 354.98L289.05 354.97L289.20 354.97L289.35 354.96L289.50 354.96L289.65 354.95L289.80 354.95L289.95 354.94L290.10 354.93L290.25 354.92L290.40 354.91L290.55 354.90L290.70 354.89L290.85 354.87L291.00 354.86L291.15 354.84L291.30 354.82L291.45 354.80L291.60 354.78L291.75 354.75L291.90 354.72L292.05 354.69L292.20 354.66L292.35 354.62L292.50 354.58L292.65 354.52L292.80 354.45L292.95 354.34L293.10 354.14L293.25 353.81L293.40 353.30L293.55 352.64L293.70 351.91L293.85 351.31L294.00 351.00L294.15 351.18L294.30 351.65L294.45 352.25L294.60 352.78L294.75 353.16L294.90 353.36L295.05 353.42L295.20 353.40L295.35 353.32L295.50 353.20L295.65 353.08L295.80 352.95L295.95 352.81L296.10 352.65L296.25 352.45L296.40 352.18L296.55 351.70L296.70 350.84L296.85 349.34L297.00 347.00L297.15 343.89L297.30 340.50L297.45 337.72L297.60 336.40L297.75 337.47L297.90 340.00L298.05 343.13L298.20 345.99L298.35 348.09L298.50 349.34L298.65 349.96L298.80 350.19L298.95 350.24L299.10 350.20L299.25 350.11L299.40 349.96L299.55 349.79L299.70 349.62L299.85 349.43L300.00 349.22L300.15 348.97L300.30 348.60L300.45 347.94L300.60 346.63L300.75 344.07L300.90 339.58L301.05 332.80L301.20 324.28L301.35 315.74L301.50 309.65L301.65 308.52L301.80 313.16L301.95 321.05L302.10 329.71L302.25 337.07L302.40 342.20L302.55 345.21L302.70 346.75L302.85 347.47L303.00 347.79L303.15 347.95L303.30 348.05L303.45 348.13L303.60 348.08L303.75 347.98L303.90 347.84L304.05 347.61L304.20 347.16L304.35 346.19L304.50 344.18L304.65 340.43L304.80 334.41L304.95 326.29L305.10 317.45L305.25 310.24L305.40 307.00L305.55 310.26L305.70 317.49L305.85 326.35L306.00 334.49L306.15 340.54L306.30 344.32L306.45 346.36L306.60 347.36L306.75 347.85L306.90 348.11L307.05 348.30L307.20 348.44L307.35 348.57L307.50 348.70L307.65 348.78L307.80 348.76L307.95 348.67L308.10 348.41L308.25 347.76L308.40 346.44L308.55 344.13L308.70 340.80L308.85 336.86L309.00 333.29L309.15 331.21L309.30 331.82L309.45 334.72L309.60 338.75L309.75 342.78L309.90 346.00L310.05 348.16L310.20 349.43L310.35 350.12L310.50 350.51L310.65 350.65L310.80 350.39L310.95 349.80L311.10 348.77L311.25 347.33L311.40 345.76L311.55 344.50L311.70 344.00L311.85 344.75L312.00 346.26L312.15 348.08L312.30 349.76L312.45 351.04L312.60 351.87L312.75 352.37L312.90 352.67L313.05 352.86L313.20 353.01L313.35 353.09L313.50 353.08L313.65 352.93L313.80 352.61L313.95 352.05L314.10 351.33L314.25 350.60L314.40 350.10L314.55 350.08L314.70 350.60L314.85 351.43L315.00 352.33L315.15 353.10L315.30 353.65L315.45 354.00L315.60 354.20L315.75 354.32L315.90 354.40L316.05 354.46L316.20 354.52L316.35 354.56L316.50 354.60L316.65 354.64L316.80 354.68L316.95 354.71L317.10 354.74L317.25 354.76L317.40 354.79L317.55 354.81L317.70 354.83L317.85 354.85L318.00 354.87L318.15 354.88L318.30 354.89L318.45 354.91L318.60 354.92L318.75 354.93L318.90 354.93L319.05 354.94L319.20 354.95L319.35 354.96L319.50 354.96L319.65 354.97L319.80 354.97L319.95 354.97L320.10 354.98L320.25 354.98L320.40 354.98L320.55 354.99L320.70 354.99L320.85 354.99L321.00 354.99L321.15 354.99L321.30 354.99L321.45 354.99L321.60 355.00L321.75 355.00L321.90 355.00L322.05 355.00L322.20 355.00L322.35 355.00L322.50 355.00L322.65 355.00L322.80 355.00L322.95 355.00L323.10 355.00L323.25 355.00L323.40 355.00L323.40 355.00" fill="#999" stroke="#999" stroke-width="0.4"/>
<path d="M343.60 355.00L343.60 355.00L343.75 355.00L343.90 354.99L344.05 354.99L344.20 354.99L344.35 354.99L344.50 354.99L344.65 354.99L344.80 354.99L344.95 354.99L345.10 354.98L345.25 354.98L345.40 354.98L345.55 354.98L345.70 354.97L345.85 354.97L346.00 354.97L346.15 354.96L346.30 354.96L346.45 354.95L346.60 354.94L346.75 354.94L346.90 354.93L347.05 354.92L347.20 354.91L347.35 354.90L347.50 354.89L347.65 354.88L347.80 354.87L347.95 354.85L348.10 354.84L348.25 354.82L348.40 354.80L348.55 354.78L348.70 354.76L348.85 354.73L349.00 354.71L349.15 354.68L349.30 354.65L349.45 354.61L349.60 354.58L349.75 354.54L349.90 354.50L350.05 354.45L350.20 354.41L350.35 354.35L350.50 354.30L350.65 354.23L350.80 354.17L350.95 354.09L351.10 354.01L351.25 353.90L351.40 353.75L351.55 353.49L351.70 353.01L351.85 352.18L352.00 350.89L352.15 349.16L352.30 347.29L352.45 345.74L352.60 345.00L352.75 345.57L352.90 346.94L353.05 348.64L353.20 350.20L353.35 351.32L353.50 351.98L353.65 352.29L353.80 352.38L353.95 352.36L354.10 352.30L354.25 352.22L354.40 352.09L354.55 351.95L354.70 351.81L354.85 351.66L355.00 351.49L355.15 351.31L355.30 351.06L355.45 350.67L355.60 349.97L355.75 348.67L355.90 346.45L356.05 343.14L356.20 338.99L356.35 334.83L356.50 331.84L356.65 331.22L356.80 333.36L356.95 337.04L357.10 341.10L357.25 344.54L357.40 346.90L357.55 348.26L357.70 348.92L357.85 349.18L358.00 349.26L358.15 349.26L358.30 349.24L358.45 349.18L358.60 349.06L358.75 348.93L358.90 348.80L359.05 348.66L359.20 348.49L359.35 348.28L359.50 347.96L359.65 347.34L359.80 346.07L359.95 343.57L360.10 339.16L360.25 332.48L360.40 324.06L360.55 315.62L360.70 309.62L360.85 308.52L361.00 313.16L361.15 321.02L361.30 329.64L361.45 336.97L361.60 342.09L361.75 345.10L361.90 346.65L362.05 347.38L362.20 347.72L362.35 347.90L362.50 348.01L362.65 348.10L362.80 348.17L362.95 348.22L363.10 348.27L363.25 348.25L363.40 348.20L363.55 348.12L363.70 347.97L363.85 347.67L364.00 347.00L364.15 345.64L364.30 343.21L364.45 339.52L364.60 334.85L364.75 330.18L364.90 326.87L365.05 326.31L365.20 328.95L365.35 333.39L365.50 338.26L365.65 342.41L365.80 345.32L365.95 347.06L366.10 347.99L366.25 348.46L366.40 348.71L366.55 348.88L366.70 349.02L366.85 349.14L367.00 349.22L367.15 349.25L367.30 349.27L367.45 349.25L367.60 349.11L367.75 348.73L367.90 347.82L368.05 346.06L368.20 343.18L368.35 339.25L368.50 334.97L368.65 331.50L368.80 330.00L368.95 331.72L369.10 335.41L369.25 339.90L369.40 344.04L369.55 347.14L369.70 349.12L369.85 350.23L370.00 350.82L370.15 351.16L370.30 351.39L370.45 351.57L370.60 351.73L370.75 351.88L370.90 352.02L371.05 352.16L371.20 352.29L371.35 352.39L371.50 352.47L371.65 352.53L371.80 352.54L371.95 352.44L372.10 352.12L372.25 351.45L372.40 350.30L372.55 348.72L372.70 346.99L372.85 345.59L373.00 345.00L373.15 345.75L373.30 347.31L373.45 349.21L373.60 350.96L373.75 352.27L373.90 353.11L374.05 353.58L374.20 353.85L374.35 354.00L374.50 354.10L374.65 354.18L374.80 354.25L374.95 354.31L375.10 354.37L375.25 354.42L375.40 354.47L375.55 354.51L375.70 354.56L375.85 354.59L376.00 354.63L376.15 354.66L376.30 354.69L376.45 354.72L376.60 354.74L376.75 354.77L376.90 354.79L377.05 354.81L377.20 354.83L377.35 354.84L377.50 354.86L377.65 354.87L377.80 354.89L377.95 354.90L378.10 354.91L378.25 354.92L378.40 354.93L378.55 354.93L378.70 354.94L378.85 354.95L379.00 354.95L379.15 354.96L379.30 354.96L379.45 354.97L379.60 354.97L379.75 354.97L379.90 354.98L380.05 354.98L380.20 354.98L380.35 354.99L380.50 354.99L380.65 354.99L380.80 354.99L380.95 354.99L381.10 354.99L381.25 354.99L381.40 354.99L381.55 355.00L381.70 355.00L381.85 355.00L381.85 355.00" fill="#999" stroke="#999" stroke-width="0.4"/>
<path d="M397.90 355.00L397.90 355.00L398.05 355.00L398.20 355.00L398.35 355.00L398.50 355.00L398.65 355.00L398.80 355.00L398.95 355.00L399.10 355.00L399.25 355.00L399.40 355.00L399.55 355.00L399.70 354.99L399.85 354.99L400.00 354.99L400.15 354.99L400.30 354.99L400.45 354.99L400.60 354.99L400.75 354.98L400.90 354.98L401.05 354.98L401.20 354.98L401.35 354.97L401.50 354.97L401.65 354.96L401.80 354.96L401.95 354.95L402.10 354.95L402.25 354.94L402.40 354.93L402.55 354.92L402.70 354.91L402.85 354.90L403.00 354.88L403.15 354.87L403.30 354.85L403.45 354.83L403.60 354.81L403.75 354.79L403.90 354.77L404.05 354.74L404.20 354.71L404.35 354.68L404.50 354.64L404.65 354.60L404.80 354.55L404.95 354.50L405.10 354.45L405.25 354.39L405.40 354.31L405.55 354.22L405.70 354.07L405.85 353.81L406.00 353.33L406.15 352.47L406.30 351.12L406.45 349.33L406.60 347.38L406.75 345.77L406.90 345.00L407.05 345.61L407.20 347.06L407.35 348.85L407.50 350.49L407.65 351.67L407.80 352.37L407.95 352.70L408.10 352.80L408.25 352.79L408.40 352.73L408.55 352.64L408.70 352.55L408.85 352.44L409.00 352.30L409.15 352.15L409.30 351.99L409.45 351.79L409.60 351.50L409.75 351.03L409.90 350.24L410.05 348.98L410.20 347.22L410.35 345.19L410.50 343.32L410.65 342.16L410.80 342.27L410.95 343.47L411.10 345.21L411.25 346.94L411.40 348.30L411.55 349.15L411.70 349.58L411.85 349.74L412.00 349.76L412.15 349.64L412.30 349.49L412.45 349.34L412.60 349.17L412.75 348.99L412.90 348.75L413.05 348.38L413.20 347.70L413.35 346.34L413.50 343.77L413.65 339.46L413.80 333.33L413.95 326.12L414.10 319.56L414.25 315.65L414.40 316.50L414.55 321.40L414.70 328.31L414.85 335.22L415.00 340.68L415.15 344.27L415.30 346.28L415.45 347.27L415.60 347.73L415.75 347.94L415.90 348.05L416.05 348.13L416.20 348.10L416.35 348.01L416.50 347.90L416.65 347.73L416.80 347.44L416.95 346.84L417.10 345.53L417.25 342.90L417.40 338.21L417.55 331.09L417.70 322.10L417.85 313.10L418.00 306.71L418.15 305.58L418.30 310.60L418.45 319.07L418.60 328.36L418.75 336.27L418.90 341.80L419.05 345.09L419.20 346.80L419.35 347.63L419.50 348.05L419.65 348.30L419.80 348.49L419.95 348.64L420.10 348.79L420.25 348.83L420.40 348.76L420.55 348.53L420.70 347.95L420.85 346.70L421.00 344.42L421.15 340.89L421.30 336.42L421.45 331.95L421.60 328.80L421.75 328.33L421.90 330.98L422.05 335.38L422.20 340.21L422.35 344.33L422.50 347.24L422.65 349.01L422.80 349.98L422.95 350.51L423.10 350.82L423.25 351.05L423.40 351.24L423.55 351.41L423.70 351.44L423.85 351.34L424.00 350.99L424.15 350.24L424.30 348.95L424.45 347.17L424.60 345.22L424.75 343.65L424.90 343.00L425.05 343.87L425.20 345.67L425.35 347.85L425.50 349.86L425.65 351.38L425.80 352.35L425.95 352.92L426.10 353.24L426.25 353.43L426.40 353.37L426.55 353.14L426.70 352.66L426.85 351.88L427.00 350.88L427.15 349.87L427.30 349.16L427.45 349.09L427.60 349.74L427.75 350.81L427.90 351.97L428.05 352.96L428.20 353.66L428.35 354.09L428.50 354.33L428.65 354.46L428.80 354.54L428.95 354.60L429.10 354.64L429.25 354.68L429.40 354.72L429.55 354.75L429.70 354.77L429.85 354.80L430.00 354.82L430.15 354.84L430.30 354.86L430.45 354.88L430.60 354.89L430.75 354.90L430.90 354.91L431.05 354.92L431.20 354.93L431.35 354.94L431.50 354.95L431.65 354.96L431.80 354.96L431.95 354.97L432.10 354.97L432.25 354.97L432.40 354.98L432.55 354.98L432.70 354.98L432.85 354.99L433.00 354.99L433.15 354.99L433.30 354.99L433.45 354.99L433.60 354.99L433.75 354.99L433.90 355.00L434.05 355.00L434.20 355.00L434.35 355.00L434.50 355.00L434.65 355.00L434.80 355.00L434.95 355.00L435.10 355.00L435.25 355.00L435.40 355.00L435.55 355.00L435.70 355.00L435.85 355.00L436.00 355.00L436.15 355.00L436.30 355.00L436.30 355.00" fill="#999" stroke="#999" stroke-width="0.4"/>
<path d="M455.50 355.00L455.50 355.00L455.65 355.00L455.80 355.00L455.95 355.00L456.10 355.00L456.25 355.00L456.40 355.00L456.55 355.00L456.70 355.00L456.85 355.00L457.00 355.00L457.15 355.00L457.30 355.00L457.45 355.00L457.60 355.00L457.75 355.00L457.90 355.00L458.05 355.00L458.20 355.00L458.35 355.00L458.50 355.00L458.65 355.00L458.80 354.99L458.95 354.99L459.10 354.99L459.25 354.99L459.40 354.99L459.55 354.99L459.70 354.99L459.85 354.98L460.00 354.98L460.15 354.98L460.30 354.97L460.45 354.97L460.60 354.96L460.75 354.96L460.90 354.95L461.05 354.95L461.20 354.94L461.35 354.93L461.50 354.92L461.65 354.91L461.80 354.90L461.95 354.88L462.10 354.87L462.25 354.85L462.40 354.83L462.55 354.81L462.70 354.78L462.85 354.76L463.00 354.72L463.15 354.68L463.30 354.62L463.45 354.51L463.60 354.31L463.75 353.97L463.90 353.44L464.05 352.73L464.20 351.95L464.35 351.31L464.50 351.00L464.65 351.22L464.80 351.76L464.95 352.44L465.10 353.05L465.25 353.49L465.40 353.74L465.55 353.83L465.70 353.84L465.85 353.79L466.00 353.69L466.15 353.58L466.30 353.47L466.45 353.34L466.60 353.17L466.75 352.91L466.90 352.47L467.05 351.67L467.20 350.32L467.35 348.33L467.50 345.84L467.65 343.34L467.80 341.53L467.95 341.11L468.10 342.31L468.25 344.42L468.40 346.75L468.55 348.71L468.70 350.04L468.85 350.77L469.00 351.08L469.15 351.16L469.30 351.13L469.45 351.06L469.60 350.95L469.75 350.79L469.90 350.63L470.05 350.45L470.20 350.25L470.35 349.97L470.50 349.52L470.65 348.69L470.80 347.20L470.95 344.74L471.10 341.27L471.25 337.21L471.40 333.51L471.55 331.27L471.70 331.67L471.85 334.32L472.00 338.08L472.15 341.84L472.30 344.81L472.45 346.74L472.60 347.80L472.75 348.29L472.90 348.49L473.05 348.56L473.20 348.58L473.35 348.55L473.50 348.46L473.65 348.36L473.80 348.26L473.95 348.14L474.10 348.00L474.25 347.81L474.40 347.49L474.55 346.86L474.70 345.51L474.85 342.82L475.00 338.05L475.15 330.79L475.30 321.64L475.45 312.46L475.60 305.95L475.75 304.78L475.90 309.86L476.05 318.45L476.20 327.88L476.35 335.89L476.50 341.49L476.65 344.79L476.80 346.50L476.95 347.31L477.10 347.70L477.25 347.92L477.40 348.07L477.55 348.19L477.70 348.29L477.85 348.32L478.00 348.27L478.15 348.16L478.30 347.90L478.45 347.29L478.60 345.97L478.75 343.47L478.90 339.42L479.05 333.95L479.20 327.98L479.35 323.14L479.50 321.00L479.65 323.30L479.80 328.31L479.95 334.44L480.10 340.07L480.25 344.28L480.40 346.94L480.55 348.41L480.70 349.18L480.85 349.60L481.00 349.87L481.15 350.07L481.30 350.26L481.45 350.43L481.60 350.60L481.75 350.75L481.90 350.91L482.05 351.03L482.20 351.12L482.35 351.17L482.50 351.12L482.65 350.89L482.80 350.31L482.95 349.24L483.10 347.65L483.25 345.76L483.40 344.05L483.55 343.08L483.70 343.45L483.85 344.96L484.00 347.03L484.15 349.10L484.30 350.76L484.45 351.89L484.60 352.56L484.75 352.95L484.90 353.18L485.05 353.33L485.20 353.46L485.35 353.55L485.50 353.54L485.65 353.43L485.80 353.16L485.95 352.70L486.10 352.10L486.25 351.50L486.40 351.09L486.55 351.06L486.70 351.49L486.85 352.17L487.00 352.91L487.15 353.54L487.30 353.99L487.45 354.28L487.60 354.44L487.75 354.53L487.90 354.60L488.05 354.64L488.20 354.68L488.35 354.71L488.50 354.74L488.65 354.77L488.80 354.79L488.95 354.82L489.10 354.84L489.25 354.85L489.40 354.87L489.55 354.89L489.70 354.90L489.85 354.91L490.00 354.92L490.15 354.93L490.30 354.94L490.45 354.95L490.60 354.95L490.75 354.96L490.90 354.96L491.05 354.97L491.20 354.97L491.35 354.98L491.50 354.98L491.65 354.98L491.80 354.98L491.95 354.99L492.10 354.99L492.25 354.99L492.40 354.99L492.55 354.99L492.70 354.99L492.85 354.99L493.00 355.00L493.15 355.00L493.30 355.00L493.45 355.00L493.60 355.00L493.75 355.00L493.90 355.00L494.05 355.00L494.20 355.00L494.35 355.00L494.50 355.00L494.65 355.00L494.80 355.00L494.95 355.00L495.10 355.00L495.25 355.00L495.40 355.00L495.40 355.00" fill="#999" stroke="#999" stroke-width="0.4"/>
<line x1="117.5" y1="355.0" x2="501.5" y2="355.0" stroke="#111" stroke-width="1.3"/>
<path d="M138.70 355.00v2.4M153.10 355.00v2.4M192.50 355.00v2.4M207.50 355.00v2.4M248.10 355.00v2.4M261.90 355.00v2.4M302.80 355.00v2.4M316.90 355.00v2.4M358.40 355.00v2.4M372.50 355.00v2.4M412.80 355.00v2.4M426.90 355.00v2.4M467.50 355.00v2.4M482.50 355.00v2.4" stroke="#111" stroke-width="0.8" fill="none"/>
<path d="M121.46 380.40L136.12 358.80M135.86 380.40L150.52 358.80M175.26 380.40L189.92 358.80M190.26 380.40L204.92 358.80M230.86 380.40L245.52 358.80M244.66 380.40L259.32 358.80M285.56 380.40L300.22 358.80M299.66 380.40L314.32 358.80M341.16 380.40L355.82 358.80M355.26 380.40L369.92 358.80M395.56 380.40L410.22 358.80M409.66 380.40L424.32 358.80M450.26 380.40L464.92 358.80M465.26 380.40L479.92 358.80" stroke="#111" stroke-width="0.9" fill="none"/>
<path d="M102.50 382.40L102.50 382.40L102.65 382.40L102.80 382.40L102.95 382.40L103.10 382.40L103.25 382.40L103.40 382.40L103.55 382.40L103.70 382.40L103.85 382.40L104.00 382.40L104.15 382.40L104.30 382.40L104.45 382.40L104.60 382.40L104.75 382.40L104.90 382.40L105.05 382.40L105.20 382.40L105.35 382.40L105.50 382.40L105.65 382.40L105.80 382.40L105.95 382.40L106.10 382.40L106.25 382.40L106.40 382.40L106.55 382.40L106.70 382.40L106.85 382.39L107.00 382.39L107.15 382.39L107.30 382.39L107.45 382.39L107.60 382.39L107.75 382.39L107.90 382.38L108.05 382.38L108.20 382.38L108.35 382.37L108.50 382.37L108.65 382.36L108.80 382.36L108.95 382.35L109.10 382.34L109.25 382.33L109.40 382.32L109.55 382.31L109.70 382.30L109.85 382.28L110.00 382.25L110.15 382.22L110.30 382.16L110.45 382.04L110.60 381.79L110.75 381.35L110.90 380.64L111.05 379.68L111.20 378.65L111.35 377.79L111.50 377.40L111.65 377.75L111.80 378.56L111.95 379.56L112.10 380.47L112.25 381.14L112.40 381.54L112.55 381.74L112.70 381.82L112.85 381.83L113.00 381.81L113.15 381.75L113.30 381.68L113.45 381.60L113.60 381.50L113.75 381.36L113.90 381.11L114.05 380.66L114.20 379.83L114.35 378.47L114.50 376.54L114.65 374.29L114.80 372.22L114.95 370.96L115.10 371.15L115.25 372.56L115.40 374.59L115.55 376.60L115.70 378.18L115.85 379.18L116.00 379.69L116.15 379.88L116.30 379.91L116.45 379.86L116.60 379.78L116.75 379.68L116.90 379.57L117.05 379.41L117.20 379.26L117.35 379.09L117.50 378.92L117.65 378.73L117.80 378.54L117.95 378.33L118.10 378.10L118.25 377.83L118.40 377.45L118.55 376.83L118.70 375.64L118.85 373.40L119.00 369.53L119.15 363.71L119.30 356.41L119.45 349.10L119.60 343.86L119.75 342.81L119.90 346.65L120.05 353.24L120.20 360.48L120.35 366.62L120.50 370.87L120.65 373.32L120.80 374.53L120.95 375.04L121.10 375.22L121.25 375.27L121.40 375.26L121.55 375.23L121.70 375.20L121.85 375.12L122.00 374.97L122.15 374.77L122.30 374.47L122.45 373.91L122.60 372.83L122.75 370.89L122.90 367.82L123.05 363.70L123.20 359.22L123.35 355.57L123.50 353.90L123.65 355.48L123.80 359.05L123.95 363.44L124.10 367.47L124.25 370.46L124.40 372.31L124.55 373.30L124.70 373.77L124.85 373.98L125.00 374.08L125.15 374.13L125.30 374.06L125.45 373.99L125.60 373.90L125.75 373.78L125.90 373.59L126.05 373.24L126.20 372.49L126.35 370.89L126.50 367.78L126.65 362.52L126.80 354.98L126.95 346.10L127.10 338.02L127.25 333.24L127.40 334.36L127.55 340.53L127.70 349.21L127.85 357.87L128.00 364.74L128.15 369.28L128.30 371.85L128.45 373.15L128.60 373.78L128.75 373.60L128.90 372.56L129.05 370.59L129.20 367.39L129.35 363.05L129.50 358.32L129.65 354.48L129.80 352.80L129.95 354.66L130.10 358.67L130.25 363.59L130.40 368.10L130.55 371.49L130.70 373.64L130.85 374.84L131.00 375.49L131.15 375.42L131.30 374.95L131.45 373.81L131.60 371.48L131.75 367.45L131.90 361.60L132.05 354.71L132.20 348.44L132.35 344.78L132.50 345.80L132.65 350.80L132.80 357.79L132.95 364.76L133.10 370.31L133.25 374.02L133.40 376.16L133.55 377.29L133.70 377.90L133.85 378.26L134.00 378.51L134.15 378.25L134.30 377.63L134.45 376.47L134.60 374.75L134.75 372.70L134.90 370.84L135.05 369.79L135.20 370.18L135.35 371.81L135.50 374.04L135.65 376.27L135.80 378.06L135.95 379.26L136.10 379.99L136.25 380.39L136.40 380.36L136.55 380.00L136.70 379.37L136.85 378.48L137.00 377.50L137.15 376.72L137.30 376.40L137.45 376.86L137.60 377.79L137.75 378.91L137.90 379.94L138.05 380.72L138.20 381.23L138.35 381.52L138.50 381.68L138.65 381.78L138.80 381.85L138.95 381.90L139.10 381.95L139.25 381.99L139.40 382.03L139.55 382.07L139.70 382.10L139.85 382.13L140.00 382.16L140.15 382.18L140.30 382.20L140.45 382.22L140.60 382.24L140.75 382.26L140.90 382.27L141.05 382.29L141.20 382.30L141.35 382.31L141.50 382.32L141.65 382.33L141.80 382.34L141.95 382.34L142.10 382.35L142.25 382.36L142.40 382.36L142.55 382.37L142.70 382.37L142.85 382.37L143.00 382.38L143.15 382.38L143.30 382.38L143.45 382.38L143.60 382.39L143.75 382.39L143.90 382.39L144.05 382.39L144.20 382.39L144.35 382.39L144.50 382.39L144.65 382.40L144.80 382.40L144.95 382.40L145.10 382.40L145.25 382.40L145.40 382.40L145.55 382.40L145.70 382.40L145.85 382.40L146.00 382.40L146.15 382.40L146.30 382.40L146.30 382.40" fill="#0a0a0a" stroke="#0a0a0a" stroke-width="0.5"/>
<path d="M157.90 382.40L157.90 382.40L158.05 382.40L158.20 382.40L158.35 382.40L158.50 382.40L158.65 382.40L158.80 382.40L158.95 382.40L159.10 382.40L159.25 382.40L159.40 382.40L159.55 382.40L159.70 382.39L159.85 382.39L160.00 382.39L160.15 382.39L160.30 382.39L160.45 382.39L160.60 382.39L160.75 382.38L160.90 382.38L161.05 382.38L161.20 382.38L161.35 382.37L161.50 382.37L161.65 382.36L161.80 382.36L161.95 382.35L162.10 382.35L162.25 382.34L162.40 382.33L162.55 382.32L162.70 382.31L162.85 382.30L163.00 382.28L163.15 382.27L163.30 382.25L163.45 382.24L163.60 382.22L163.75 382.19L163.90 382.17L164.05 382.14L164.20 382.11L164.35 382.08L164.50 382.05L164.65 382.01L164.80 381.96L164.95 381.91L165.10 381.86L165.25 381.80L165.40 381.73L165.55 381.64L165.70 381.51L165.85 381.28L166.00 380.87L166.15 380.15L166.30 379.02L166.45 377.53L166.60 375.90L166.75 374.55L166.90 373.90L167.05 374.38L167.20 375.56L167.35 377.02L167.50 378.34L167.65 379.29L167.80 379.85L167.95 380.09L168.10 380.14L168.25 380.10L168.40 380.02L168.55 379.90L168.70 379.75L168.85 379.59L169.00 379.41L169.15 379.20L169.30 378.92L169.45 378.48L169.60 377.72L169.75 376.42L169.90 374.43L170.05 371.78L170.20 368.92L170.35 366.55L170.50 365.40L170.65 366.24L170.80 368.31L170.95 370.87L171.10 373.21L171.25 374.91L171.40 375.92L171.55 376.39L171.70 376.54L171.85 376.54L172.00 376.46L172.15 376.37L172.30 376.26L172.45 376.14L172.60 375.99L172.75 375.83L172.90 375.66L173.05 375.43L173.20 375.10L173.35 374.51L173.50 373.47L173.65 371.78L173.80 369.41L173.95 366.64L174.10 364.11L174.25 362.59L174.40 362.85L174.55 364.64L174.70 367.18L174.85 369.73L175.00 371.74L175.15 373.05L175.30 373.76L175.45 374.10L175.60 374.24L175.75 374.30L175.90 374.32L176.05 374.27L176.20 374.21L176.35 374.15L176.50 374.07L176.65 373.99L176.80 373.89L176.95 373.77L177.10 373.57L177.25 373.21L177.40 372.44L177.55 370.80L177.70 367.61L177.85 362.21L178.00 354.46L178.15 345.35L178.30 337.06L178.45 332.15L178.60 333.30L178.75 339.62L178.90 348.51L179.05 357.39L179.20 364.43L179.35 369.08L179.50 371.71L179.65 373.04L179.80 373.68L179.95 374.02L180.10 373.81L180.25 372.98L180.40 371.61L180.55 369.75L180.70 367.72L180.85 366.09L181.00 365.40L181.15 366.27L181.30 368.08L181.45 370.29L181.60 372.33L181.75 373.88L181.90 372.87L182.05 370.57L182.20 367.22L182.35 363.27L182.50 359.68L182.65 357.61L182.80 358.25L182.95 361.21L183.10 365.33L183.25 369.44L183.40 372.73L183.55 374.95L183.70 376.26L183.85 376.98L184.00 377.40L184.15 377.68L184.30 377.91L184.45 378.11L184.60 378.30L184.75 378.41L184.90 378.38L185.05 378.18L185.20 377.70L185.35 376.89L185.50 375.83L185.65 374.76L185.80 374.04L185.95 374.02L186.10 374.82L186.25 376.08L186.40 377.44L186.55 378.62L186.70 379.47L186.85 380.02L187.00 380.36L187.15 380.57L187.30 380.69L187.45 380.67L187.60 380.54L187.75 380.24L187.90 379.78L188.05 379.21L188.20 378.69L188.35 378.42L188.50 378.57L188.65 379.08L188.80 379.78L188.95 380.47L189.10 381.03L189.25 381.41L189.40 381.65L189.55 381.78L189.70 381.87L189.85 381.93L190.00 381.98L190.15 382.02L190.30 382.06L190.45 382.09L190.60 382.12L190.75 382.15L190.90 382.18L191.05 382.20L191.20 382.22L191.35 382.24L191.50 382.26L191.65 382.27L191.80 382.29L191.95 382.30L192.10 382.31L192.25 382.32L192.40 382.33L192.55 382.34L192.70 382.35L192.85 382.35L193.00 382.36L193.15 382.36L193.30 382.37L193.45 382.37L193.60 382.38L193.75 382.38L193.90 382.38L194.05 382.38L194.20 382.39L194.35 382.39L194.50 382.39L194.65 382.39L194.80 382.39L194.95 382.39L195.10 382.39L195.25 382.40L195.40 382.40L195.55 382.40L195.70 382.40L195.85 382.40L196.00 382.40L196.15 382.40L196.30 382.40L196.45 382.40L196.60 382.40L196.75 382.40L196.90 382.40L197.05 382.40L197.20 382.40L197.35 382.40L197.35 382.40" fill="#0a0a0a" stroke="#0a0a0a" stroke-width="0.5"/>
<path d="M214.00 382.40L214.00 382.40L214.15 382.40L214.30 382.40L214.45 382.40L214.60 382.40L214.75 382.40L214.90 382.40L215.05 382.40L215.20 382.40L215.35 382.40L215.50 382.40L215.65 382.40L215.80 382.40L215.95 382.40L216.10 382.40L216.25 382.40L216.40 382.40L216.55 382.40L216.70 382.40L216.85 382.40L217.00 382.40L217.15 382.40L217.30 382.40L217.45 382.40L217.60 382.40L217.75 382.40L217.90 382.40L218.05 382.40L218.20 382.40L218.35 382.40L218.50 382.39L218.65 382.39L218.80 382.39L218.95 382.39L219.10 382.39L219.25 382.39L219.40 382.39L219.55 382.38L219.70 382.38L219.85 382.38L220.00 382.37L220.15 382.37L220.30 382.36L220.45 382.36L220.60 382.35L220.75 382.34L220.90 382.33L221.05 382.32L221.20 382.31L221.35 382.29L221.50 382.27L221.65 382.24L221.80 382.19L221.95 382.09L222.10 381.89L222.25 381.54L222.40 380.97L222.55 380.22L222.70 379.39L222.85 378.72L223.00 378.40L223.15 378.67L223.30 379.30L223.45 380.07L223.60 380.78L223.75 381.29L223.90 381.59L224.05 381.73L224.20 381.78L224.35 381.77L224.50 381.73L224.65 381.66L224.80 381.59L224.95 381.50L225.10 381.41L225.25 381.30L225.40 381.15L225.55 380.92L225.70 380.51L225.85 379.77L226.00 378.50L226.15 376.63L226.30 374.27L226.45 371.91L226.60 370.20L226.75 369.80L226.90 370.94L227.05 372.94L227.20 375.13L227.35 376.98L227.50 378.22L227.65 378.90L227.80 379.18L227.95 379.23L228.10 379.18L228.25 379.09L228.40 378.97L228.55 378.84L228.70 378.71L228.85 378.57L229.00 378.41L229.15 378.23L229.30 378.06L229.45 377.87L229.60 377.67L229.75 377.43L229.90 377.09L230.05 376.55L230.20 375.65L230.35 374.23L230.50 372.26L230.65 369.97L230.80 367.87L230.95 366.58L231.10 366.71L231.25 368.05L231.40 370.01L231.55 371.96L231.70 373.49L231.85 374.46L232.00 374.96L232.15 375.15L232.30 375.19L232.45 375.16L232.60 375.10L232.75 375.01L232.90 374.90L233.05 374.79L233.20 374.67L233.35 374.56L233.50 374.43L233.65 374.29L233.80 374.10L233.95 373.80L234.10 373.22L234.25 372.03L234.40 369.77L234.55 365.95L234.70 360.50L234.85 354.09L235.00 348.26L235.15 344.80L235.30 345.58L235.45 349.99L235.60 356.19L235.75 362.39L235.90 367.31L236.05 370.54L236.20 372.35L236.35 373.26L236.50 373.68L236.65 373.88L236.80 374.00L236.95 374.09L237.10 374.16L237.25 374.17L237.40 374.13L237.55 374.08L237.70 374.02L237.85 373.93L238.00 373.78L238.15 373.47L238.30 372.75L238.45 371.17L238.60 368.07L238.75 362.77L238.90 355.15L239.05 346.18L239.20 338.02L239.35 333.23L239.50 334.44L239.65 340.78L239.80 349.67L239.95 358.56L240.10 365.62L240.25 370.31L240.40 373.00L240.55 374.40L240.70 374.32L240.85 373.01L241.00 371.06L241.15 368.76L241.30 366.68L241.45 365.50L241.60 365.95L241.75 367.79L241.90 370.32L242.05 372.84L242.20 374.87L242.35 376.26L242.50 377.11L242.65 377.61L242.80 377.93L242.95 378.12L243.10 378.06L243.25 377.82L243.40 377.33L243.55 376.61L243.70 375.82L243.85 375.20L244.00 375.00L244.15 375.49L244.30 376.40L244.45 377.48L244.60 378.47L244.75 379.25L244.90 379.77L245.05 380.11L245.20 380.33L245.35 380.49L245.50 380.57L245.65 380.56L245.80 380.45L245.95 380.23L246.10 379.93L246.25 379.62L246.40 379.42L246.55 379.45L246.70 379.75L246.85 380.20L247.00 380.68L247.15 381.09L247.30 381.39L247.45 381.59L247.60 381.72L247.75 381.81L247.90 381.87L248.05 381.92L248.20 381.97L248.35 382.01L248.50 382.05L248.65 382.08L248.80 382.11L248.95 382.14L249.10 382.17L249.25 382.19L249.40 382.22L249.55 382.24L249.70 382.25L249.85 382.27L250.00 382.28L250.15 382.30L250.30 382.31L250.45 382.32L250.60 382.33L250.75 382.34L250.90 382.35L251.05 382.35L251.20 382.36L251.35 382.36L251.50 382.37L251.65 382.37L251.80 382.38L251.95 382.38L252.10 382.38L252.25 382.38L252.40 382.39L252.55 382.39L252.70 382.39L252.85 382.39L253.00 382.39L253.15 382.39L253.30 382.40L253.45 382.40L253.60 382.40L253.75 382.40L253.90 382.40L254.05 382.40L254.20 382.40L254.35 382.40L254.50 382.40L254.65 382.40L254.80 382.40L254.95 382.40L255.10 382.40L255.25 382.40L255.40 382.40L255.40 382.40" fill="#0a0a0a" stroke="#0a0a0a" stroke-width="0.5"/>
<path d="M269.50 382.40L269.50 382.40L269.65 382.40L269.80 382.40L269.95 382.40L270.10 382.40L270.25 382.40L270.40 382.40L270.55 382.40L270.70 382.40L270.85 382.40L271.00 382.40L271.15 382.40L271.30 382.40L271.45 382.40L271.60 382.40L271.75 382.40L271.90 382.40L272.05 382.40L272.20 382.40L272.35 382.39L272.50 382.39L272.65 382.39L272.80 382.39L272.95 382.39L273.10 382.39L273.25 382.39L273.40 382.38L273.55 382.38L273.70 382.38L273.85 382.38L274.00 382.37L274.15 382.37L274.30 382.36L274.45 382.36L274.60 382.35L274.75 382.34L274.90 382.33L275.05 382.33L275.20 382.32L275.35 382.30L275.50 382.29L275.65 382.28L275.80 382.26L275.95 382.24L276.10 382.22L276.25 382.20L276.40 382.17L276.55 382.15L276.70 382.12L276.85 382.08L277.00 382.04L277.15 381.99L277.30 381.92L277.45 381.81L277.60 381.61L277.75 381.27L277.90 380.76L278.05 380.08L278.20 379.33L278.35 378.71L278.50 378.40L278.65 378.59L278.80 379.08L278.95 379.70L279.10 380.25L279.25 380.64L279.40 380.84L279.55 380.91L279.70 380.89L279.85 380.83L280.00 380.72L280.15 380.59L280.30 380.46L280.45 380.32L280.60 380.17L280.75 380.00L280.90 379.79L281.05 379.49L281.20 378.98L281.35 378.09L281.50 376.61L281.65 374.42L281.80 371.70L281.95 368.98L282.10 366.99L282.25 366.51L282.40 367.79L282.55 370.05L282.70 372.55L282.85 374.65L283.00 376.06L283.15 376.83L283.30 377.16L283.45 377.23L283.60 377.18L283.75 377.08L283.90 376.97L284.05 376.80L284.20 376.62L284.35 376.43L284.50 376.24L284.65 376.04L284.80 375.83L284.95 375.58L285.10 375.24L285.25 374.67L285.40 373.61L285.55 371.57L285.70 368.05L285.85 362.76L286.00 356.11L286.15 349.46L286.30 344.71L286.45 343.79L286.60 347.35L286.75 353.42L286.90 360.10L287.05 365.77L287.20 369.71L287.35 372.02L287.50 373.19L287.65 373.72L287.80 373.95L287.95 374.06L288.10 374.12L288.25 374.12L288.40 374.03L288.55 373.92L288.70 373.77L288.85 373.54L289.00 373.09L289.15 372.14L289.30 370.17L289.45 366.49L289.60 360.58L289.75 352.62L289.90 343.95L290.05 336.88L290.20 333.70L290.35 336.89L290.50 343.97L290.65 352.66L290.80 360.64L290.95 366.57L291.10 370.27L291.25 372.27L291.40 373.25L291.55 373.72L291.70 373.99L291.85 374.16L292.00 374.31L292.15 374.42L292.30 374.39L292.45 374.30L292.60 374.05L292.75 373.44L292.90 372.10L293.05 369.54L293.20 365.37L293.35 359.73L293.50 353.58L293.65 348.58L293.80 346.40L293.95 348.81L294.10 354.04L294.25 360.42L294.40 366.29L294.55 370.69L294.70 373.48L294.85 375.04L295.00 375.87L295.15 376.33L295.30 376.64L295.45 376.78L295.60 376.51L295.75 375.89L295.90 374.79L296.05 373.25L296.20 371.57L296.35 370.22L296.50 369.70L296.65 370.53L296.80 372.19L296.95 374.19L297.10 376.03L297.25 377.43L297.40 378.36L297.55 378.93L297.70 379.27L297.85 379.50L298.00 379.61L298.15 379.54L298.30 379.32L298.45 378.92L298.60 378.37L298.75 377.82L298.90 377.45L299.05 377.48L299.20 377.96L299.35 378.69L299.50 379.48L299.65 380.16L299.80 380.66L299.95 380.99L300.10 381.20L300.25 381.33L300.40 381.43L300.55 381.52L300.70 381.59L300.85 381.66L301.00 381.72L301.15 381.78L301.30 381.84L301.45 381.89L301.60 381.93L301.75 381.98L301.90 382.02L302.05 382.05L302.20 382.09L302.35 382.12L302.50 382.14L302.65 382.17L302.80 382.19L302.95 382.22L303.10 382.24L303.25 382.25L303.40 382.27L303.55 382.28L303.70 382.30L303.85 382.31L304.00 382.32L304.15 382.33L304.30 382.34L304.45 382.35L304.60 382.35L304.75 382.36L304.90 382.36L305.05 382.37L305.20 382.37L305.35 382.38L305.50 382.38L305.65 382.38L305.80 382.38L305.95 382.39L306.10 382.39L306.25 382.39L306.40 382.39L306.55 382.39L306.70 382.39L306.85 382.39L307.00 382.40L307.15 382.40L307.30 382.40L307.45 382.40L307.60 382.40L307.75 382.40L307.90 382.40L307.90 382.40" fill="#0a0a0a" stroke="#0a0a0a" stroke-width="0.5"/>
<path d="M323.90 382.40L323.90 382.40L324.05 382.40L324.20 382.40L324.35 382.40L324.50 382.40L324.65 382.40L324.80 382.40L324.95 382.40L325.10 382.40L325.25 382.40L325.40 382.39L325.55 382.39L325.70 382.39L325.85 382.39L326.00 382.39L326.15 382.39L326.30 382.39L326.45 382.38L326.60 382.38L326.75 382.38L326.90 382.38L327.05 382.37L327.20 382.37L327.35 382.36L327.50 382.36L327.65 382.35L327.80 382.35L327.95 382.34L328.10 382.33L328.25 382.32L328.40 382.31L328.55 382.30L328.70 382.29L328.85 382.28L329.00 382.26L329.15 382.24L329.30 382.22L329.45 382.20L329.60 382.18L329.75 382.15L329.90 382.12L330.05 382.09L330.20 382.05L330.35 382.01L330.50 381.96L330.65 381.91L330.80 381.85L330.95 381.78L331.10 381.70L331.25 381.61L331.40 381.50L331.55 381.34L331.70 381.07L331.85 380.53L332.00 379.46L332.15 377.52L332.30 374.44L332.45 370.30L332.60 365.80L332.75 362.11L332.90 360.40L333.05 361.95L333.20 365.48L333.35 369.83L333.50 373.81L333.65 376.73L333.80 378.51L333.95 379.42L334.10 379.80L334.25 379.92L334.40 379.91L334.55 379.87L334.70 379.80L334.85 379.68L335.00 379.50L335.15 379.28L335.30 378.96L335.45 378.43L335.60 377.48L335.75 375.80L335.90 373.20L336.05 369.73L336.20 365.97L336.35 362.87L336.50 361.40L336.65 362.59L336.80 365.40L336.95 368.88L337.10 372.06L337.25 374.38L337.40 375.78L337.55 376.46L337.70 376.71L337.85 376.76L338.00 376.71L338.15 376.63L338.30 376.54L338.45 376.44L338.60 376.29L338.75 376.13L338.90 375.96L339.05 375.79L339.20 375.60L339.35 375.38L339.50 375.05L339.65 374.49L339.80 373.42L339.95 371.43L340.10 368.13L340.25 363.45L340.40 357.95L340.55 352.95L340.70 349.96L340.85 350.56L341.00 354.23L341.15 359.43L341.30 364.63L341.45 368.73L341.60 371.42L341.75 372.92L341.90 373.64L342.05 373.96L342.20 374.10L342.35 374.16L342.50 374.20L342.65 374.23L342.80 374.25L342.95 374.19L343.10 374.11L343.25 374.00L343.40 373.78L343.55 373.32L343.70 372.37L343.85 370.61L344.00 367.78L344.15 363.97L344.30 359.81L344.45 356.42L344.60 354.90L344.75 356.43L344.90 359.83L345.05 363.99L345.20 367.82L345.35 370.67L345.50 372.44L345.65 373.41L345.80 373.89L345.95 374.13L346.10 374.27L346.25 374.37L346.40 374.45L346.55 374.45L346.70 374.44L346.85 374.43L347.00 374.41L347.15 374.37L347.30 374.30L347.45 374.14L347.60 373.74L347.75 372.82L347.90 370.81L348.05 367.00L348.20 360.82L348.35 352.47L348.50 343.37L348.65 335.97L348.80 332.70L348.95 336.19L349.10 343.81L349.25 353.14L349.40 361.71L349.55 368.10L349.70 372.13L349.85 374.35L350.00 375.49L350.15 375.21L350.30 374.00L350.45 372.31L350.60 370.46L350.75 368.99L350.90 368.40L351.05 369.27L351.20 371.04L351.35 373.17L351.50 375.13L351.65 376.63L351.80 377.62L351.95 377.29L352.10 376.19L352.25 374.00L352.40 370.40L352.55 365.49L352.70 360.13L352.85 355.79L353.00 353.90L353.15 356.04L353.30 360.64L353.45 366.26L353.60 371.42L353.75 375.27L353.90 377.71L354.05 379.07L354.20 379.77L354.35 380.15L354.50 380.39L354.65 380.57L354.80 380.71L354.95 380.55L355.10 380.19L355.25 379.60L355.40 378.83L355.55 378.05L355.70 377.52L355.85 377.48L356.00 378.01L356.15 378.86L356.30 379.79L356.45 380.59L356.60 381.15L356.75 381.50L356.90 381.71L357.05 381.82L357.20 381.89L357.35 381.95L357.50 381.99L357.65 382.03L357.80 382.07L357.95 382.10L358.10 382.13L358.25 382.16L358.40 382.18L358.55 382.20L358.70 382.22L358.85 382.24L359.00 382.26L359.15 382.27L359.30 382.29L359.45 382.30L359.60 382.31L359.75 382.32L359.90 382.33L360.05 382.34L360.20 382.34L360.35 382.35L360.50 382.36L360.65 382.36L360.80 382.37L360.95 382.37L361.10 382.37L361.25 382.38L361.40 382.38L361.55 382.38L361.70 382.39L361.85 382.39L362.00 382.39L362.15 382.39L362.30 382.39L362.45 382.39L362.60 382.39L362.75 382.39L362.90 382.40L363.05 382.40L363.20 382.40L363.35 382.40L363.50 382.40L363.65 382.40L363.80 382.40L363.95 382.40L364.10 382.40L364.25 382.40L364.40 382.40L364.55 382.40L364.70 382.40L364.70 382.40" fill="#0a0a0a" stroke="#0a0a0a" stroke-width="0.5"/>
<path d="M381.00 382.40L381.00 382.40L381.15 382.40L381.30 382.39L381.45 382.39L381.60 382.39L381.75 382.39L381.90 382.39L382.05 382.39L382.20 382.39L382.35 382.39L382.50 382.39L382.65 382.38L382.80 382.38L382.95 382.38L383.10 382.38L383.25 382.37L383.40 382.37L383.55 382.37L383.70 382.36L383.85 382.36L384.00 382.35L384.15 382.35L384.30 382.34L384.45 382.33L384.60 382.32L384.75 382.32L384.90 382.31L385.05 382.30L385.20 382.29L385.35 382.27L385.50 382.26L385.65 382.25L385.80 382.23L385.95 382.21L386.10 382.19L386.25 382.17L386.40 382.15L386.55 382.13L386.70 382.10L386.85 382.07L387.00 382.04L387.15 382.01L387.30 381.97L387.45 381.93L387.60 381.89L387.75 381.84L387.90 381.79L388.05 381.73L388.20 381.66L388.35 381.59L388.50 381.51L388.65 381.39L388.80 381.22L388.95 380.90L389.10 380.29L389.25 379.20L389.40 377.49L389.55 375.20L389.70 372.71L389.85 370.66L390.00 369.70L390.15 370.51L390.30 372.40L390.45 374.73L390.60 376.87L390.75 378.42L390.90 379.35L391.05 379.81L391.20 379.97L391.35 379.99L391.50 379.95L391.65 379.88L391.80 379.80L391.95 379.67L392.10 379.52L392.25 379.37L392.40 379.20L392.55 378.98L392.70 378.65L392.85 378.08L393.00 377.06L393.15 375.33L393.30 372.78L393.45 369.58L393.60 366.38L393.75 364.07L393.90 363.55L394.05 365.12L394.20 367.87L394.35 370.90L394.50 373.45L394.65 375.20L394.80 376.17L394.95 376.61L395.10 376.76L395.25 376.76L395.40 376.70L395.55 376.62L395.70 376.51L395.85 376.36L396.00 376.20L396.15 376.04L396.30 375.87L396.45 375.68L396.60 375.47L396.75 375.18L396.90 374.72L397.05 373.84L397.20 372.11L397.35 368.98L397.50 364.00L397.65 357.32L397.80 350.05L397.95 344.11L398.10 341.40L398.25 343.97L398.40 349.77L398.55 356.90L398.70 363.44L398.85 368.28L399.00 371.27L399.15 372.86L399.30 373.60L399.45 373.93L399.60 374.07L399.75 374.15L399.90 374.20L400.05 374.18L400.20 374.07L400.35 373.90L400.50 373.59L400.65 372.95L400.80 371.63L400.95 369.18L401.10 365.25L401.25 359.97L401.40 354.21L401.55 349.51L401.70 347.40L401.85 349.51L402.00 354.20L402.15 359.96L402.30 365.24L402.45 369.16L402.60 371.60L402.75 372.91L402.90 373.54L403.05 373.84L403.20 374.00L403.35 374.10L403.50 374.18L403.65 374.24L403.80 374.30L403.95 374.36L404.10 374.41L404.25 374.41L404.40 374.40L404.55 374.37L404.70 374.27L404.85 374.02L405.00 373.45L405.15 372.35L405.30 370.56L405.45 368.12L405.60 365.47L405.75 363.33L405.90 362.40L406.05 363.47L406.20 365.75L406.35 368.54L406.50 371.11L406.65 373.04L406.80 374.27L406.95 374.98L407.10 375.37L407.25 375.61L407.40 375.73L407.55 375.78L407.70 375.82L407.85 375.86L408.00 375.87L408.15 375.86L408.30 375.77L408.45 375.51L408.60 374.82L408.75 373.21L408.90 369.98L409.05 364.41L409.20 356.38L409.35 346.91L409.50 338.30L409.65 333.25L409.80 334.57L409.95 341.33L410.10 350.80L410.25 360.25L410.40 367.76L410.55 372.74L410.70 375.60L410.85 377.08L411.00 377.84L411.15 378.26L411.30 378.56L411.45 378.43L411.60 377.85L411.75 376.97L411.90 375.91L412.05 374.96L412.20 374.44L412.35 374.69L412.50 375.61L412.65 376.86L412.80 378.10L412.95 379.11L413.10 379.80L413.25 380.23L413.40 380.49L413.55 380.65L413.70 380.77L413.85 380.84L414.00 380.82L414.15 380.71L414.30 380.45L414.45 380.02L414.60 379.45L414.75 378.87L414.90 378.48L415.05 378.46L415.20 378.87L415.35 379.53L415.50 380.24L415.65 380.84L415.80 381.28L415.95 381.56L416.10 381.72L416.25 381.81L416.40 381.87L416.55 381.92L416.70 381.96L416.85 382.00L417.00 382.04L417.15 382.07L417.30 382.10L417.45 382.12L417.60 382.15L417.75 382.17L417.90 382.19L418.05 382.21L418.20 382.23L418.35 382.24L418.50 382.26L418.65 382.27L418.80 382.28L418.95 382.29L419.10 382.30L419.25 382.31L419.40 382.32L419.55 382.33L419.70 382.34L419.85 382.34L420.00 382.35L420.15 382.36L420.30 382.36L420.45 382.36L420.60 382.37L420.75 382.37L420.90 382.37L421.05 382.38L421.20 382.38L421.35 382.38L421.50 382.38L421.65 382.39L421.80 382.39L421.95 382.39L422.10 382.39L422.25 382.39L422.40 382.39L422.55 382.39L422.70 382.39L422.85 382.40L423.00 382.40L423.15 382.40L423.30 382.40L423.45 382.40L423.60 382.40L423.75 382.40L423.90 382.40L423.90 382.40" fill="#0a0a0a" stroke="#0a0a0a" stroke-width="0.5"/>
<path d="M437.20 382.40L437.20 382.39L437.35 382.39L437.50 382.39L437.65 382.39L437.80 382.39L437.95 382.39L438.10 382.39L438.25 382.39L438.40 382.38L438.55 382.38L438.70 382.38L438.85 382.38L439.00 382.37L439.15 382.37L439.30 382.37L439.45 382.36L439.60 382.36L439.75 382.35L439.90 382.35L440.05 382.34L440.20 382.33L440.35 382.32L440.50 382.32L440.65 382.31L440.80 382.30L440.95 382.28L441.10 382.27L441.25 382.26L441.40 382.24L441.55 382.23L441.70 382.21L441.85 382.19L442.00 382.17L442.15 382.15L442.30 382.12L442.45 382.10L442.60 382.07L442.75 382.04L442.90 382.00L443.05 381.97L443.20 381.93L443.35 381.89L443.50 381.84L443.65 381.79L443.80 381.73L443.95 381.67L444.10 381.60L444.25 381.53L444.40 381.45L444.55 381.36L444.70 381.25L444.85 381.10L445.00 380.87L445.15 380.45L445.30 379.64L445.45 378.18L445.60 375.87L445.75 372.79L445.90 369.44L446.05 366.69L446.20 365.40L446.35 366.51L446.50 369.08L446.65 372.25L446.80 375.15L446.95 377.28L447.10 378.56L447.25 379.19L447.40 379.44L447.55 379.49L447.70 379.46L447.85 379.39L448.00 379.30L448.15 379.19L448.30 379.01L448.45 378.76L448.60 378.38L448.75 377.72L448.90 376.66L449.05 375.10L449.20 373.17L449.35 371.24L449.50 369.83L449.65 369.47L449.80 370.34L449.95 371.89L450.10 373.61L450.25 375.05L450.40 376.02L450.55 376.54L450.70 376.74L450.85 376.77L451.00 376.72L451.15 376.64L451.30 376.47L451.45 376.23L451.60 375.85L451.75 375.26L451.90 374.36L452.05 373.21L452.20 371.96L452.35 370.92L452.50 370.40L452.65 370.72L452.80 371.56L452.95 372.62L453.10 373.59L453.25 374.28L453.40 374.69L453.55 374.88L453.70 374.86L453.85 374.74L454.00 374.59L454.15 374.36L454.30 373.95L454.45 373.13L454.60 371.61L454.75 369.06L454.90 365.42L455.05 361.16L455.20 357.28L455.35 354.97L455.50 355.46L455.65 358.36L455.80 362.45L455.95 366.53L456.10 369.76L456.25 371.88L456.40 373.07L456.55 373.66L456.70 373.93L456.85 374.06L457.00 374.02L457.15 373.93L457.30 373.82L457.45 373.67L457.60 373.39L457.75 372.81L457.90 371.56L458.05 369.04L458.20 364.57L458.35 357.75L458.50 349.16L458.65 340.55L458.80 334.43L458.95 333.35L459.10 338.15L459.25 346.24L459.40 355.13L459.55 362.69L459.70 367.98L459.85 371.11L460.00 372.74L460.15 373.53L460.30 373.93L460.45 374.16L460.60 374.33L460.75 374.47L460.90 374.41L461.05 374.23L461.20 373.80L461.35 372.80L461.50 370.80L461.65 367.36L461.80 362.40L461.95 356.55L462.10 351.24L462.25 348.13L462.40 348.96L462.55 353.16L462.70 359.03L462.85 364.89L463.00 369.56L463.15 372.67L463.30 374.46L463.45 375.41L463.60 375.92L463.75 376.23L463.90 376.44L464.05 376.27L464.20 375.79L464.35 374.79L464.50 373.11L464.65 370.80L464.80 368.28L464.95 366.24L465.10 365.40L465.25 366.51L465.40 368.80L465.55 371.59L465.70 374.16L465.85 376.10L466.00 377.36L466.15 378.09L466.30 378.51L466.45 378.77L466.60 378.97L466.75 379.13L466.90 379.22L467.05 379.21L467.20 379.04L467.35 378.62L467.50 377.88L467.65 376.83L467.80 375.68L467.95 374.76L468.10 374.40L468.25 374.96L468.40 376.09L468.55 377.45L468.70 378.70L468.85 379.65L469.00 380.27L469.15 380.64L469.30 380.86L469.45 381.00L469.60 381.11L469.75 381.20L469.90 381.28L470.05 381.36L470.20 381.43L470.35 381.49L470.50 381.56L470.65 381.62L470.80 381.67L470.95 381.73L471.10 381.77L471.25 381.82L471.40 381.86L471.55 381.90L471.70 381.94L471.85 381.98L472.00 382.01L472.15 382.04L472.30 382.07L472.45 382.10L472.60 382.12L472.75 382.15L472.90 382.17L473.05 382.19L473.20 382.21L473.35 382.22L473.50 382.24L473.65 382.26L473.80 382.27L473.95 382.28L474.10 382.29L474.25 382.30L474.40 382.31L474.55 382.32L474.70 382.33L474.85 382.34L475.00 382.34L475.15 382.35L475.30 382.35L475.45 382.36L475.60 382.36L475.75 382.37L475.90 382.37L476.05 382.37L476.20 382.38L476.35 382.38L476.50 382.38L476.65 382.38L476.80 382.39L476.95 382.39L477.10 382.39L477.10 382.40" fill="#0a0a0a" stroke="#0a0a0a" stroke-width="0.5"/>
<line x1="98.9" y1="382.4" x2="482.8" y2="382.4" stroke="#111" stroke-width="1.3"/>
<path d="M120.10 382.40v2.4M134.50 382.40v2.4M173.90 382.40v2.4M188.90 382.40v2.4M229.50 382.40v2.4M243.30 382.40v2.4M284.20 382.40v2.4M298.30 382.40v2.4M339.80 382.40v2.4M353.90 382.40v2.4M394.20 382.40v2.4M408.30 382.40v2.4M448.90 382.40v2.4M463.90 382.40v2.4" stroke="#111" stroke-width="0.8" fill="none"/>
<path d="M103.23 407.80L117.58 386.20M117.63 407.80L131.98 386.20M157.03 407.80L171.38 386.20M172.03 407.80L186.38 386.20M212.63 407.80L226.98 386.20M226.43 407.80L240.78 386.20M267.33 407.80L281.68 386.20M281.43 407.80L295.78 386.20M322.93 407.80L337.28 386.20M337.03 407.80L351.38 386.20M377.33 407.80L391.68 386.20M391.43 407.80L405.78 386.20M432.03 407.80L446.38 386.20M447.03 407.80L461.38 386.20" stroke="#111" stroke-width="0.9" fill="none"/>
<path d="M87.00 409.80L87.00 409.80L87.15 409.80L87.30 409.79L87.45 409.79L87.60 409.79L87.75 409.79L87.90 409.79L88.05 409.79L88.20 409.79L88.35 409.79L88.50 409.78L88.65 409.78L88.80 409.78L88.95 409.78L89.10 409.77L89.25 409.77L89.40 409.77L89.55 409.76L89.70 409.76L89.85 409.75L90.00 409.75L90.15 409.74L90.30 409.73L90.45 409.72L90.60 409.71L90.75 409.70L90.90 409.69L91.05 409.68L91.20 409.67L91.35 409.65L91.50 409.64L91.65 409.62L91.80 409.60L91.95 409.58L92.10 409.56L92.25 409.54L92.40 409.51L92.55 409.49L92.70 409.46L92.85 409.42L93.00 409.39L93.15 409.35L93.30 409.31L93.45 409.27L93.60 409.22L93.75 409.17L93.90 409.11L94.05 409.05L94.20 408.99L94.35 408.92L94.50 408.84L94.65 408.74L94.80 408.61L94.95 408.39L95.10 408.01L95.25 407.36L95.40 406.36L95.55 405.03L95.70 403.59L95.85 402.39L96.00 401.80L96.15 402.21L96.30 403.22L96.45 404.48L96.60 405.62L96.75 406.44L96.90 406.91L97.05 407.10L97.20 407.14L97.35 407.09L97.50 406.98L97.65 406.83L97.80 406.68L97.95 406.51L98.10 406.34L98.25 406.14L98.40 405.91L98.55 405.59L98.70 405.05L98.85 404.07L99.00 402.27L99.15 399.32L99.30 395.16L99.45 390.28L99.60 385.83L99.75 383.14L99.90 383.59L100.05 386.73L100.20 391.20L100.35 395.67L100.50 399.19L100.65 401.45L100.80 402.67L100.95 403.22L101.10 403.40L101.25 403.43L101.40 403.40L101.55 403.34L101.70 403.26L101.85 403.11L102.00 402.95L102.15 402.78L102.30 402.58L102.45 402.33L102.60 401.92L102.75 401.14L102.90 399.63L103.05 396.89L103.20 392.54L103.35 386.70L103.50 380.35L103.65 375.17L103.80 372.80L103.95 375.05L104.10 380.12L104.25 386.35L104.40 392.07L104.55 396.31L104.70 398.93L104.85 400.33L105.00 400.99L105.15 401.28L105.30 401.38L105.45 401.24L105.60 401.04L105.75 400.67L105.90 399.90L106.05 398.28L106.20 395.15L106.35 389.85L106.50 382.25L106.65 373.31L106.80 365.17L106.95 360.35L107.10 361.46L107.25 367.64L107.40 376.33L107.55 385.01L107.70 391.89L107.85 396.42L108.00 398.97L108.15 400.24L108.30 399.39L108.45 397.21L108.60 393.33L108.75 387.43L108.90 379.97L109.05 372.50L109.20 367.20L109.35 366.29L109.50 370.49L109.65 377.56L109.80 385.32L109.95 391.92L110.10 396.55L110.25 399.31L110.40 400.76L110.55 401.49L110.70 401.63L110.85 400.92L111.00 399.49L111.15 396.99L111.30 393.39L111.45 389.14L111.60 385.28L111.75 383.03L111.90 383.67L112.05 386.79L112.20 391.12L112.35 395.45L112.50 398.91L112.65 401.23L112.80 402.59L112.95 403.32L113.10 403.73L113.25 403.91L113.40 403.70L113.55 403.13L113.70 402.01L113.85 400.25L114.00 397.99L114.15 395.73L114.30 394.17L114.45 394.00L114.60 395.46L114.75 397.85L114.90 400.45L115.05 402.68L115.20 404.28L115.35 405.27L115.50 405.85L115.65 406.19L115.80 406.42L115.95 406.51L116.10 406.43L116.25 406.14L116.40 405.52L116.55 404.51L116.70 403.21L116.85 401.90L117.00 401.00L117.15 400.93L117.30 401.82L117.45 403.26L117.60 404.82L117.75 406.16L117.90 407.12L118.05 407.72L118.20 408.07L118.35 408.28L118.50 408.42L118.65 408.52L118.80 408.62L118.95 408.70L119.10 408.78L119.25 408.85L119.40 408.92L119.55 408.99L119.70 409.05L119.85 409.10L120.00 409.15L120.15 409.20L120.30 409.25L120.45 409.29L120.60 409.33L120.75 409.37L120.90 409.41L121.05 409.44L121.20 409.47L121.35 409.50L121.50 409.52L121.65 409.55L121.80 409.57L121.95 409.59L122.10 409.61L122.25 409.63L122.40 409.64L122.55 409.66L122.70 409.67L122.85 409.69L123.00 409.70L123.15 409.71L123.30 409.72L123.45 409.73L123.60 409.73L123.75 409.74L123.90 409.75L124.05 409.75L124.20 409.76L124.35 409.76L124.50 409.77L124.65 409.77L124.80 409.77L124.95 409.78L125.10 409.78L125.25 409.78L125.40 409.78L125.55 409.79L125.70 409.79L125.85 409.79L126.00 409.79L126.00 409.80" fill="#0a0a0a" stroke="#0a0a0a" stroke-width="0.5"/>
<path d="M136.70 409.80L136.70 409.78L136.85 409.78L137.00 409.78L137.15 409.78L137.30 409.78L137.45 409.77L137.60 409.77L137.75 409.77L137.90 409.76L138.05 409.76L138.20 409.75L138.35 409.75L138.50 409.74L138.65 409.74L138.80 409.73L138.95 409.72L139.10 409.72L139.25 409.71L139.40 409.70L139.55 409.69L139.70 409.68L139.85 409.67L140.00 409.65L140.15 409.64L140.30 409.62L140.45 409.61L140.60 409.59L140.75 409.57L140.90 409.55L141.05 409.53L141.20 409.51L141.35 409.48L141.50 409.46L141.65 409.43L141.80 409.40L141.95 409.37L142.10 409.34L142.25 409.30L142.40 409.26L142.55 409.22L142.70 409.17L142.85 409.13L143.00 409.08L143.15 409.02L143.30 408.96L143.45 408.90L143.60 408.83L143.75 408.76L143.90 408.68L144.05 408.59L144.20 408.49L144.35 408.36L144.50 408.16L144.65 407.81L144.80 407.15L144.95 405.98L145.10 404.14L145.25 401.69L145.40 399.03L145.55 396.84L145.70 395.80L145.85 396.66L146.00 398.67L146.15 401.16L146.30 403.43L146.45 405.09L146.60 406.08L146.75 406.56L146.90 406.74L147.05 406.76L147.20 406.71L147.35 406.55L147.50 406.36L147.65 406.09L147.80 405.67L147.95 404.88L148.10 403.47L148.25 401.16L148.40 397.89L148.55 394.08L148.70 390.58L148.85 388.47L149.00 388.81L149.15 391.24L149.30 394.72L149.45 398.19L149.60 400.92L149.75 402.67L149.90 403.60L150.05 404.01L150.20 404.13L150.35 404.13L150.50 404.08L150.65 404.01L150.80 403.88L150.95 403.72L151.10 403.53L151.25 403.27L151.40 402.84L151.55 402.04L151.70 400.59L151.85 398.20L152.00 394.81L152.15 390.85L152.30 387.24L152.45 385.07L152.60 385.46L152.75 388.06L152.90 391.74L153.05 395.43L153.20 398.33L153.35 400.22L153.50 401.26L153.65 401.74L153.80 401.94L153.95 402.00L154.10 402.01L154.25 401.91L154.40 401.80L154.55 401.68L154.70 401.54L154.85 401.35L155.00 401.05L155.15 400.46L155.30 399.23L155.45 396.78L155.60 392.45L155.75 385.88L155.90 377.59L156.05 369.29L156.20 363.39L156.35 362.32L156.50 366.91L156.65 374.66L156.80 383.17L156.95 390.41L157.10 395.45L157.25 398.43L157.40 399.97L157.55 400.69L157.70 401.03L157.85 401.20L158.00 401.32L158.15 401.41L158.30 401.48L158.45 401.51L158.60 401.45L158.75 401.38L158.90 401.29L159.05 401.16L159.20 400.91L159.35 400.38L159.50 399.22L159.65 396.86L159.80 392.66L159.95 386.25L160.10 378.17L160.25 370.07L160.40 364.32L160.55 363.33L160.70 367.88L160.85 375.53L161.00 383.94L161.15 391.09L161.30 396.10L161.45 399.08L161.60 400.65L161.75 401.42L161.90 401.81L162.05 402.05L162.20 402.24L162.35 402.40L162.50 402.54L162.65 402.68L162.80 402.79L162.95 402.80L163.10 402.73L163.25 402.48L163.40 401.86L163.55 400.63L163.70 398.59L163.85 395.82L164.00 392.79L164.15 390.34L164.30 389.30L164.45 390.56L164.60 393.23L164.75 396.47L164.90 399.46L165.05 401.71L165.20 403.16L165.35 403.99L165.50 404.45L165.65 404.70L165.80 404.60L165.95 404.25L166.10 403.46L166.25 402.04L166.40 399.94L166.55 397.46L166.70 395.21L166.85 393.92L167.00 394.36L167.15 396.28L167.30 398.93L167.45 401.58L167.60 403.70L167.75 405.13L167.90 405.99L168.05 406.46L168.20 406.74L168.35 406.92L168.50 406.88L168.65 406.67L168.80 406.16L168.95 405.23L169.10 403.85L169.25 402.21L169.40 400.72L169.55 399.88L169.70 400.18L169.85 401.47L170.00 403.24L170.15 405.00L170.30 406.42L170.45 407.37L170.60 407.93L170.75 408.25L170.90 408.43L171.05 408.55L171.20 408.64L171.35 408.72L171.50 408.80L171.65 408.86L171.80 408.93L171.95 408.99L172.10 409.04L172.25 409.09L172.40 409.14L172.55 409.19L172.70 409.23L172.85 409.27L173.00 409.31L173.15 409.34L173.30 409.38L173.45 409.41L173.60 409.44L173.75 409.46L173.90 409.49L174.05 409.51L174.20 409.54L174.35 409.56L174.50 409.58L174.65 409.59L174.80 409.61L174.95 409.63L175.10 409.64L175.25 409.65L175.40 409.67L175.55 409.68L175.70 409.69L175.85 409.70L176.00 409.71L176.15 409.72L176.30 409.72L176.45 409.73L176.60 409.74L176.75 409.74L176.90 409.75L177.05 409.75L177.20 409.76L177.35 409.76L177.50 409.77L177.65 409.77L177.80 409.77L177.95 409.78L178.10 409.78L178.25 409.78L178.40 409.78L178.55 409.78L178.55 409.80" fill="#0a0a0a" stroke="#0a0a0a" stroke-width="0.5"/>
<path d="M199.50 409.80L199.50 409.80L199.65 409.80L199.80 409.80L199.95 409.80L200.10 409.80L200.25 409.80L200.40 409.80L200.55 409.80L200.70 409.80L200.85 409.80L201.00 409.80L201.15 409.80L201.30 409.80L201.45 409.79L201.60 409.79L201.75 409.79L201.90 409.79L202.05 409.79L202.20 409.79L202.35 409.79L202.50 409.78L202.65 409.78L202.80 409.78L202.95 409.77L203.10 409.77L203.25 409.76L203.40 409.76L203.55 409.75L203.70 409.75L203.85 409.74L204.00 409.73L204.15 409.72L204.30 409.71L204.45 409.70L204.60 409.69L204.75 409.67L204.90 409.66L205.05 409.64L205.20 409.62L205.35 409.60L205.50 409.57L205.65 409.55L205.80 409.52L205.95 409.49L206.10 409.45L206.25 409.41L206.40 409.37L206.55 409.32L206.70 409.28L206.85 409.22L207.00 409.16L207.15 409.09L207.30 408.99L207.45 408.84L207.60 408.60L207.75 408.19L207.90 407.58L208.05 406.78L208.20 405.91L208.35 405.18L208.50 404.80L208.65 405.00L208.80 405.55L208.95 406.24L209.10 406.86L209.25 407.29L209.40 407.51L209.55 407.57L209.70 407.53L209.85 407.45L210.00 407.34L210.15 407.20L210.30 407.05L210.45 406.90L210.60 406.73L210.75 406.57L210.90 406.39L211.05 406.21L211.20 406.02L211.35 405.81L211.50 405.58L211.65 405.30L211.80 404.91L211.95 404.22L212.10 402.97L212.25 400.77L212.40 397.34L212.55 392.77L212.70 387.79L212.85 383.72L213.00 381.80L213.15 383.42L213.30 387.20L213.45 391.88L213.60 396.16L213.75 399.30L213.90 401.21L214.05 402.18L214.20 402.59L214.35 402.71L214.50 402.72L214.65 402.60L214.80 402.42L214.95 402.22L215.10 401.99L215.25 401.68L215.40 401.14L215.55 400.07L215.70 397.95L215.85 394.08L216.00 387.89L216.15 379.57L216.30 370.53L216.45 363.14L216.60 359.80L216.75 363.06L216.90 370.36L217.05 379.33L217.20 387.56L217.35 393.66L217.50 397.45L217.65 399.48L217.80 400.46L217.95 400.90L218.10 401.12L218.25 401.02L218.40 400.44L218.55 399.66L218.70 398.81L218.85 398.11L219.00 397.80L219.15 398.12L219.30 398.82L219.45 399.68L219.60 400.48L219.75 399.78L219.90 397.99L220.05 394.65L220.20 389.27L220.35 382.01L220.50 374.10L220.65 367.67L220.80 364.80L220.95 367.77L221.10 374.30L221.25 382.30L221.40 389.66L221.55 395.14L221.70 398.58L221.85 400.47L222.00 401.42L222.15 401.92L222.30 402.21L222.45 402.17L222.60 401.66L222.75 400.82L222.90 399.74L223.05 398.67L223.20 397.94L223.35 397.92L223.50 398.72L223.65 399.97L223.80 401.34L223.95 402.53L224.10 403.41L224.25 403.99L224.40 404.36L224.55 404.58L224.70 404.58L224.85 404.42L225.00 404.02L225.15 403.33L225.30 402.42L225.45 401.50L225.60 400.90L225.75 400.92L225.90 401.67L226.05 402.82L226.20 404.07L226.35 405.15L226.50 405.95L226.65 406.48L226.80 406.82L226.95 407.05L227.10 407.23L227.25 407.38L227.40 407.52L227.55 407.66L227.70 407.79L227.85 407.91L228.00 408.03L228.15 408.14L228.30 408.25L228.45 408.35L228.60 408.45L228.75 408.55L228.90 408.63L229.05 408.72L229.20 408.80L229.35 408.87L229.50 408.94L229.65 409.01L229.80 409.07L229.95 409.13L230.10 409.19L230.25 409.24L230.40 409.29L230.55 409.33L230.70 409.38L230.85 409.41L231.00 409.45L231.15 409.48L231.30 409.51L231.45 409.54L231.60 409.57L231.75 409.59L231.90 409.61L232.05 409.63L232.20 409.65L232.35 409.67L232.50 409.68L232.65 409.69L232.80 409.71L232.95 409.72L233.10 409.73L233.25 409.74L233.40 409.74L233.55 409.75L233.70 409.76L233.85 409.76L234.00 409.77L234.15 409.77L234.30 409.78L234.45 409.78L234.60 409.78L234.60 409.80" fill="#0a0a0a" stroke="#0a0a0a" stroke-width="0.5"/>
<path d="M250.90 409.80L250.90 409.80L251.05 409.80L251.20 409.80L251.35 409.80L251.50 409.80L251.65 409.80L251.80 409.80L251.95 409.80L252.10 409.80L252.25 409.80L252.40 409.80L252.55 409.80L252.70 409.80L252.85 409.80L253.00 409.80L253.15 409.80L253.30 409.80L253.45 409.80L253.60 409.80L253.75 409.80L253.90 409.80L254.05 409.80L254.20 409.80L254.35 409.79L254.50 409.79L254.65 409.79L254.80 409.79L254.95 409.79L255.10 409.79L255.25 409.79L255.40 409.78L255.55 409.78L255.70 409.78L255.85 409.77L256.00 409.77L256.15 409.76L256.30 409.76L256.45 409.75L256.60 409.74L256.75 409.74L256.90 409.73L257.05 409.72L257.20 409.70L257.35 409.69L257.50 409.67L257.65 409.66L257.80 409.63L257.95 409.61L258.10 409.58L258.25 409.55L258.40 409.52L258.55 409.47L258.70 409.39L258.85 409.24L259.00 408.96L259.15 408.46L259.30 407.68L259.45 406.63L259.60 405.49L259.75 404.55L259.90 404.10L260.05 404.45L260.20 405.30L260.35 406.34L260.50 407.29L260.65 407.97L260.80 408.37L260.95 408.54L261.10 408.59L261.25 408.56L261.40 408.51L261.55 408.43L261.70 408.33L261.85 408.21L262.00 408.09L262.15 407.94L262.30 407.76L262.45 407.47L262.60 407.01L262.75 406.24L262.90 405.07L263.05 403.54L263.20 401.88L263.35 400.50L263.50 399.80L263.65 400.22L263.80 401.32L263.95 402.70L264.10 403.95L264.25 404.84L264.40 405.33L264.55 405.52L264.70 405.53L264.85 405.45L265.00 405.29L265.15 405.10L265.30 404.90L265.45 404.69L265.60 404.48L265.75 404.24L265.90 403.96L266.05 403.56L266.20 402.88L266.35 401.61L266.50 399.28L266.65 395.42L266.80 389.96L266.95 383.56L267.10 377.73L267.25 374.22L267.40 374.88L267.55 379.10L267.70 385.09L267.85 391.07L268.00 395.79L268.15 398.87L268.30 400.56L268.45 401.36L268.60 401.69L268.75 401.82L268.90 401.86L269.05 401.87L269.20 401.71L269.35 401.41L269.50 400.82L269.65 399.68L269.80 397.70L269.95 394.72L270.10 390.96L270.25 387.20L270.40 384.52L270.55 384.03L270.70 386.09L270.85 389.58L271.00 393.41L271.15 396.67L271.30 397.43L271.45 393.64L271.60 387.54L271.75 379.33L271.90 370.38L272.05 363.08L272.20 359.80L272.35 363.09L272.50 370.40L272.65 379.37L272.80 387.60L272.95 393.71L273.10 397.53L273.25 399.59L273.40 400.60L273.55 400.60L273.70 399.54L273.85 397.37L274.00 393.48L274.15 387.54L274.30 380.03L274.45 372.51L274.60 367.19L274.75 366.30L274.90 370.59L275.05 377.78L275.20 385.67L275.35 392.40L275.50 397.12L275.65 399.96L275.80 401.48L275.95 402.25L276.10 402.08L276.25 401.15L276.40 399.78L276.55 398.15L276.70 396.67L276.85 395.86L277.00 396.22L277.15 397.59L277.30 399.46L277.45 401.33L277.60 402.84L277.75 403.89L277.90 404.54L278.05 404.95L278.20 405.22L278.35 405.43L278.50 405.62L278.65 405.75L278.80 405.84L278.95 405.84L279.10 405.68L279.25 405.25L279.40 404.47L279.55 403.36L279.70 402.14L279.85 401.16L280.00 400.80L280.15 401.44L280.30 402.68L280.45 404.18L280.60 405.55L280.75 406.60L280.90 407.30L281.05 407.72L281.20 407.98L281.35 408.15L281.50 408.28L281.65 408.40L281.80 408.50L281.95 408.60L282.10 408.69L282.25 408.78L282.40 408.86L282.55 408.93L282.70 409.00L282.85 409.07L283.00 409.13L283.15 409.19L283.30 409.24L283.45 409.29L283.60 409.34L283.75 409.38L283.90 409.42L284.05 409.45L284.20 409.49L284.35 409.52L284.50 409.54L284.65 409.57L284.80 409.59L284.95 409.62L285.10 409.63L285.25 409.65L285.40 409.67L285.55 409.68L285.70 409.70L285.85 409.71L286.00 409.72L286.15 409.73L286.30 409.74L286.45 409.74L286.60 409.75L286.75 409.76L286.90 409.76L287.05 409.77L287.20 409.77L287.35 409.78L287.50 409.78L287.65 409.78L287.80 409.78L287.95 409.79L288.10 409.79L288.25 409.79L288.40 409.79L288.55 409.79L288.70 409.79L288.85 409.79L289.00 409.80L289.00 409.80" fill="#0a0a0a" stroke="#0a0a0a" stroke-width="0.5"/>
<path d="M308.50 409.80L308.50 409.80L308.65 409.80L308.80 409.80L308.95 409.80L309.10 409.80L309.25 409.80L309.40 409.80L309.55 409.80L309.70 409.80L309.85 409.80L310.00 409.80L310.15 409.80L310.30 409.80L310.45 409.80L310.60 409.80L310.75 409.80L310.90 409.80L311.05 409.79L311.20 409.79L311.35 409.79L311.50 409.79L311.65 409.79L311.80 409.79L311.95 409.79L312.10 409.78L312.25 409.78L312.40 409.78L312.55 409.77L312.70 409.77L312.85 409.77L313.00 409.76L313.15 409.76L313.30 409.75L313.45 409.74L313.60 409.73L313.75 409.72L313.90 409.71L314.05 409.70L314.20 409.69L314.35 409.67L314.50 409.66L314.65 409.64L314.80 409.62L314.95 409.59L315.10 409.57L315.25 409.54L315.40 409.51L315.55 409.47L315.70 409.44L315.85 409.39L316.00 409.34L316.15 409.28L316.30 409.18L316.45 409.03L316.60 408.75L316.75 408.26L316.90 407.52L317.05 406.52L317.20 405.44L317.35 404.54L317.50 404.10L317.65 404.40L317.80 405.15L317.95 406.09L318.10 406.94L318.25 407.54L318.40 407.88L318.55 408.01L318.70 408.02L318.85 407.96L319.00 407.86L319.15 407.73L319.30 407.58L319.45 407.43L319.60 407.27L319.75 407.09L319.90 406.88L320.05 406.61L320.20 406.17L320.35 405.39L320.50 404.01L320.65 401.78L320.80 398.64L320.95 394.98L321.10 391.62L321.25 389.57L321.40 389.85L321.55 392.12L321.70 395.39L321.85 398.64L322.00 401.19L322.15 402.81L322.30 403.66L322.45 404.00L322.60 404.08L322.75 404.05L322.90 403.89L323.05 403.68L323.20 403.47L323.35 403.22L323.50 402.93L323.65 402.49L323.80 401.71L323.95 400.18L324.10 397.34L324.25 392.61L324.40 385.88L324.55 377.99L324.70 370.80L324.85 366.51L325.00 367.39L325.15 372.69L325.30 380.19L325.45 387.67L325.60 393.60L325.75 397.48L325.90 399.64L326.05 400.68L326.20 401.15L326.35 401.35L326.50 401.36L326.65 400.83L326.80 399.83L326.95 398.17L327.10 395.80L327.25 393.01L327.40 390.48L327.55 388.97L327.70 389.31L327.85 391.22L328.00 393.91L328.15 396.60L328.30 398.72L328.45 398.45L328.60 395.65L328.75 391.39L328.90 386.02L329.05 380.64L329.20 376.82L329.35 376.15L329.50 379.15L329.65 384.22L329.80 389.78L329.95 394.52L330.10 397.84L330.25 399.82L330.40 400.86L330.55 401.38L330.70 401.65L330.85 401.82L331.00 401.78L331.15 401.57L331.30 401.04L331.45 399.89L331.60 397.80L331.75 394.57L331.90 390.49L332.05 386.40L332.20 383.53L332.35 383.10L332.50 385.54L332.65 389.58L332.80 394.01L332.95 397.79L333.10 400.48L333.25 402.12L333.40 403.03L333.55 403.05L333.70 402.32L333.85 401.13L334.00 399.60L334.15 398.06L334.30 397.02L334.45 396.96L334.60 398.05L334.75 399.78L334.90 401.67L335.05 403.30L335.20 404.49L335.35 405.25L335.50 405.72L335.65 406.00L335.80 405.93L335.95 405.68L336.10 405.18L336.25 404.45L336.40 403.65L336.55 403.01L336.70 402.80L336.85 403.28L337.00 404.19L337.15 405.26L337.30 406.25L337.45 407.02L337.60 407.54L337.75 407.86L337.90 408.07L338.05 408.22L338.20 408.34L338.35 408.45L338.50 408.55L338.65 408.64L338.80 408.73L338.95 408.81L339.10 408.89L339.25 408.96L339.40 409.03L339.55 409.09L339.70 409.15L339.85 409.21L340.00 409.26L340.15 409.31L340.30 409.35L340.45 409.39L340.60 409.43L340.75 409.46L340.90 409.50L341.05 409.53L341.20 409.55L341.35 409.58L341.50 409.60L341.65 409.62L341.80 409.64L341.95 409.66L342.10 409.67L342.25 409.69L342.40 409.70L342.55 409.71L342.70 409.72L342.85 409.73L343.00 409.74L343.15 409.75L343.30 409.75L343.45 409.76L343.60 409.76L343.75 409.77L343.90 409.77L344.05 409.78L344.20 409.78L344.35 409.78L344.50 409.79L344.65 409.79L344.80 409.79L344.95 409.79L345.10 409.79L345.25 409.79L345.40 409.79L345.55 409.80L345.55 409.80" fill="#0a0a0a" stroke="#0a0a0a" stroke-width="0.5"/>
<path d="M362.00 409.80L362.00 409.80L362.15 409.80L362.30 409.80L362.45 409.80L362.60 409.80L362.75 409.80L362.90 409.80L363.05 409.80L363.20 409.80L363.35 409.80L363.50 409.80L363.65 409.80L363.80 409.80L363.95 409.80L364.10 409.79L364.25 409.79L364.40 409.79L364.55 409.79L364.70 409.79L364.85 409.79L365.00 409.78L365.15 409.78L365.30 409.78L365.45 409.78L365.60 409.77L365.75 409.77L365.90 409.76L366.05 409.76L366.20 409.75L366.35 409.75L366.50 409.74L366.65 409.73L366.80 409.72L366.95 409.71L367.10 409.70L367.25 409.68L367.40 409.67L367.55 409.65L367.70 409.63L367.85 409.61L368.00 409.59L368.15 409.56L368.30 409.54L368.45 409.51L368.60 409.47L368.75 409.44L368.90 409.40L369.05 409.35L369.20 409.30L369.35 409.25L369.50 409.19L369.65 409.11L369.80 409.01L369.95 408.85L370.10 408.57L370.25 408.10L370.40 407.38L370.55 406.43L370.70 405.40L370.85 404.54L371.00 404.10L371.15 404.36L371.30 405.05L371.45 405.91L371.60 406.68L371.75 407.23L371.90 407.52L372.05 407.63L372.20 407.61L372.35 407.54L372.50 407.43L372.65 407.29L372.80 407.13L372.95 406.97L373.10 406.80L373.25 406.60L373.40 406.34L373.55 405.94L373.70 405.28L373.85 404.16L374.00 402.46L374.15 400.22L374.30 397.80L374.45 395.79L374.60 394.80L374.75 395.48L374.90 397.17L375.05 399.29L375.20 401.22L375.35 402.61L375.50 403.42L375.65 403.79L375.80 403.89L375.95 403.86L376.10 403.71L376.25 403.52L376.40 403.33L376.55 403.13L376.70 402.91L376.85 402.67L377.00 402.36L377.15 401.89L377.30 401.01L377.45 399.28L377.60 396.01L377.75 390.56L377.90 382.78L378.05 373.65L378.20 365.33L378.35 360.38L378.50 361.43L378.65 367.62L378.80 376.36L378.95 385.09L379.10 392.00L379.25 396.54L379.40 399.07L379.55 400.31L379.70 400.87L379.85 401.13L380.00 400.94L380.15 400.16L380.30 398.66L380.45 396.12L380.60 392.50L380.75 388.24L380.90 384.36L381.05 382.06L381.20 382.59L381.35 385.53L381.50 389.67L381.65 393.80L381.80 397.08L381.95 399.24L382.10 400.46L382.25 401.07L382.40 401.37L382.55 401.14L382.70 400.58L382.85 399.43L383.00 397.38L383.15 394.25L383.30 390.29L383.45 386.33L383.60 383.53L383.75 383.07L383.90 385.36L384.05 389.18L384.20 393.37L384.35 396.95L384.50 399.48L384.65 401.01L384.80 401.84L384.95 402.29L385.10 402.56L385.25 402.65L385.40 402.45L385.55 401.95L385.70 400.98L385.85 399.43L386.00 397.45L386.15 395.47L386.30 394.11L386.45 393.98L386.60 395.30L386.75 397.42L386.90 399.74L387.05 401.74L387.20 403.18L387.35 404.09L387.50 404.64L387.65 404.98L387.80 405.22L387.95 405.42L388.10 405.58L388.25 405.65L388.40 405.62L388.55 405.39L388.70 404.87L388.85 404.00L389.00 402.87L389.15 401.72L389.30 400.95L389.45 400.93L389.60 401.78L389.75 403.12L389.90 404.58L390.05 405.83L390.20 406.74L390.35 407.32L390.50 407.68L390.65 407.90L390.80 408.06L390.95 408.19L391.10 408.31L391.25 408.42L391.40 408.52L391.55 408.61L391.70 408.70L391.85 408.79L392.00 408.86L392.15 408.94L392.30 409.01L392.45 409.07L392.60 409.13L392.75 409.19L392.90 409.24L393.05 409.29L393.20 409.34L393.35 409.38L393.50 409.42L393.65 409.45L393.80 409.49L393.95 409.52L394.10 409.54L394.25 409.57L394.40 409.59L394.55 409.61L394.70 409.63L394.85 409.65L395.00 409.67L395.15 409.68L395.30 409.70L395.45 409.71L395.60 409.72L395.75 409.73L395.90 409.74L396.05 409.74L396.20 409.75L396.35 409.76L396.50 409.76L396.65 409.77L396.80 409.77L396.95 409.78L397.10 409.78L397.25 409.78L397.40 409.78L397.55 409.79L397.70 409.79L397.85 409.79L398.00 409.79L398.15 409.79L398.30 409.79L398.30 409.80" fill="#0a0a0a" stroke="#0a0a0a" stroke-width="0.5"/>
<path d="M418.70 409.80L418.70 409.80L418.85 409.80L419.00 409.80L419.15 409.80L419.30 409.80L419.45 409.80L419.60 409.80L419.75 409.80L419.90 409.80L420.05 409.80L420.20 409.80L420.35 409.80L420.50 409.80L420.65 409.80L420.80 409.80L420.95 409.80L421.10 409.80L421.25 409.80L421.40 409.80L421.55 409.80L421.70 409.80L421.85 409.79L422.00 409.79L422.15 409.79L422.30 409.79L422.45 409.79L422.60 409.79L422.75 409.79L422.90 409.78L423.05 409.78L423.20 409.78L423.35 409.78L423.50 409.77L423.65 409.77L423.80 409.76L423.95 409.76L424.10 409.75L424.25 409.75L424.40 409.74L424.55 409.73L424.70 409.72L424.85 409.71L425.00 409.70L425.15 409.69L425.30 409.67L425.45 409.66L425.60 409.64L425.75 409.62L425.90 409.60L426.05 409.58L426.20 409.55L426.35 409.51L426.50 409.46L426.65 409.38L426.80 409.23L426.95 408.98L427.10 408.59L427.25 408.07L427.40 407.50L427.55 407.03L427.70 406.80L427.85 406.95L428.00 407.34L428.15 407.83L428.30 408.27L428.45 408.58L428.60 408.75L428.75 408.81L428.90 408.81L429.05 408.78L429.20 408.72L429.35 408.64L429.50 408.56L429.65 408.48L429.80 408.39L429.95 408.29L430.10 408.19L430.25 408.08L430.40 407.94L430.55 407.74L430.70 407.42L430.85 406.83L431.00 405.75L431.15 403.99L431.30 401.50L431.45 398.58L431.60 395.92L431.75 394.30L431.90 394.57L432.05 396.43L432.20 399.10L432.35 401.76L432.50 403.85L432.65 405.20L432.80 405.92L432.95 406.23L433.10 406.33L433.25 406.34L433.40 406.31L433.55 406.27L433.70 406.20L433.85 406.10L434.00 405.99L434.15 405.88L434.30 405.75L434.45 405.58L434.60 405.31L434.75 404.80L434.90 403.79L435.05 401.97L435.20 399.09L435.35 395.22L435.50 391.01L435.65 387.57L435.80 386.00L435.95 387.49L436.10 390.86L436.25 395.00L436.40 398.80L436.55 401.61L436.70 403.36L436.85 404.29L437.00 404.72L437.15 404.92L437.30 405.02L437.45 405.07L437.60 405.06L437.75 405.01L437.90 404.94L438.05 404.86L438.20 404.76L438.35 404.64L438.50 404.44L438.65 404.06L438.80 403.26L438.95 401.55L439.10 398.24L439.25 392.63L439.40 384.57L439.55 375.11L439.70 366.48L439.85 361.38L440.00 362.57L440.15 369.13L440.30 378.37L440.45 387.60L440.60 394.91L440.75 399.73L440.90 402.46L441.05 403.82L441.20 404.48L441.35 404.82L441.50 405.02L441.65 405.18L441.80 405.08L441.95 404.56L442.10 403.70L442.25 402.53L442.40 401.26L442.55 400.23L442.70 399.80L442.85 400.36L443.00 401.51L443.15 402.92L443.30 404.22L443.45 404.78L443.60 403.48L443.75 401.47L443.90 398.91L444.05 396.34L444.20 394.55L444.35 394.30L444.50 395.85L444.65 398.41L444.80 401.22L444.95 403.62L445.10 405.32L445.25 406.36L445.40 406.94L445.55 407.26L445.70 407.45L445.85 407.60L446.00 407.72L446.15 407.83L446.30 407.85L446.45 407.77L446.60 407.55L446.75 407.18L446.90 406.69L447.05 406.19L447.20 405.86L447.35 405.86L447.50 406.24L447.65 406.85L447.80 407.50L447.95 408.06L448.10 408.46L448.25 408.73L448.40 408.89L448.55 408.99L448.70 409.06L448.85 409.12L449.00 409.18L449.15 409.23L449.30 409.27L449.45 409.31L449.60 409.35L449.75 409.39L449.90 409.43L450.05 409.46L450.20 409.49L450.35 409.52L450.50 409.54L450.65 409.56L450.80 409.59L450.95 409.61L451.10 409.63L451.25 409.64L451.40 409.66L451.55 409.67L451.70 409.69L451.85 409.70L452.00 409.71L452.15 409.72L452.30 409.73L452.45 409.74L452.60 409.74L452.75 409.75L452.90 409.76L453.05 409.76L453.20 409.77L453.35 409.77L453.50 409.77L453.65 409.78L453.80 409.78L453.95 409.78L454.10 409.78L454.25 409.79L454.40 409.79L454.55 409.79L454.70 409.79L454.85 409.79L455.00 409.79L455.15 409.79L455.30 409.80L455.45 409.80L455.60 409.80L455.75 409.80L455.90 409.80L456.05 409.80L456.20 409.80L456.20 409.80" fill="#0a0a0a" stroke="#0a0a0a" stroke-width="0.5"/>
<line x1="80.7" y1="409.8" x2="464.8" y2="409.8" stroke="#111" stroke-width="1.3"/>
<path d="M101.90 409.80v2.4M116.30 409.80v2.4M155.70 409.80v2.4M170.70 409.80v2.4M211.30 409.80v2.4M225.10 409.80v2.4M266.00 409.80v2.4M280.10 409.80v2.4M321.60 409.80v2.4M335.70 409.80v2.4M376.00 409.80v2.4M390.10 409.80v2.4M430.70 409.80v2.4M445.70 409.80v2.4" stroke="#111" stroke-width="0.8" fill="none"/>
<path d="M85.03 435.20L99.38 413.60M99.43 435.20L113.78 413.60M138.83 435.20L153.18 413.60M153.83 435.20L168.18 413.60M194.43 435.20L208.78 413.60M208.23 435.20L222.58 413.60M249.13 435.20L263.48 413.60M263.23 435.20L277.58 413.60M304.73 435.20L319.08 413.60M318.83 435.20L333.18 413.60M359.13 435.20L373.48 413.60M373.23 435.20L387.58 413.60M413.83 435.20L428.18 413.60M428.83 435.20L443.18 413.60" stroke="#111" stroke-width="0.9" fill="none"/>
<path d="M72.50 437.20L72.50 437.20L72.65 437.20L72.80 437.20L72.95 437.19L73.10 437.19L73.25 437.19L73.40 437.19L73.55 437.19L73.70 437.19L73.85 437.19L74.00 437.18L74.15 437.18L74.30 437.18L74.45 437.17L74.60 437.17L74.75 437.17L74.90 437.16L75.05 437.16L75.20 437.15L75.35 437.14L75.50 437.13L75.65 437.13L75.80 437.11L75.95 437.10L76.10 437.09L76.25 437.08L76.40 437.06L76.55 437.05L76.70 437.03L76.85 437.01L77.00 436.98L77.15 436.96L77.30 436.93L77.45 436.90L77.60 436.87L77.75 436.84L77.90 436.80L78.05 436.76L78.20 436.71L78.35 436.66L78.50 436.61L78.65 436.56L78.80 436.50L78.95 436.43L79.10 436.36L79.25 436.28L79.40 436.20L79.55 436.11L79.70 436.02L79.85 435.92L80.00 435.80L80.15 435.66L80.30 435.47L80.45 435.17L80.60 434.65L80.75 433.76L80.90 432.39L81.05 430.59L81.20 428.63L81.35 427.00L81.50 426.20L81.65 426.74L81.80 428.11L81.95 429.81L82.10 431.36L82.25 432.46L82.40 433.10L82.55 433.37L82.70 433.42L82.85 433.36L83.00 433.20L83.15 433.01L83.30 432.80L83.45 432.57L83.60 432.27L83.75 431.84L83.90 431.07L84.05 429.69L84.20 427.36L84.35 423.89L84.50 419.56L84.65 415.22L84.80 412.09L84.95 411.42L85.10 413.60L85.25 417.39L85.40 421.57L85.55 425.11L85.70 427.54L85.85 428.92L86.00 429.59L86.15 429.84L86.30 429.90L86.45 429.89L86.60 429.77L86.75 429.61L86.90 429.44L87.05 429.22L87.20 428.91L87.35 428.36L87.50 427.24L87.65 425.05L87.80 421.22L87.95 415.42L88.10 408.12L88.25 400.81L88.40 395.61L88.55 394.65L88.70 398.66L88.85 405.44L89.00 412.89L89.15 419.23L89.30 423.65L89.45 426.26L89.60 427.60L89.75 428.23L89.90 428.05L90.05 427.06L90.20 425.46L90.35 423.31L90.50 420.96L90.65 419.06L90.80 418.20L90.95 419.07L91.10 420.99L91.25 423.36L91.40 425.53L91.55 427.15L91.70 427.37L91.85 425.77L92.00 422.65L92.15 417.33L92.30 409.70L92.45 400.72L92.60 392.55L92.75 387.73L92.90 388.92L93.05 395.23L93.20 404.09L93.35 412.94L93.50 419.97L93.65 424.63L93.80 427.29L93.95 428.67L94.10 429.36L94.25 429.60L94.40 428.96L94.55 427.93L94.70 426.61L94.85 425.29L95.00 424.39L95.15 424.34L95.30 425.28L95.45 426.78L95.60 428.42L95.75 429.84L95.90 430.87L96.05 431.54L96.20 431.89L96.35 431.76L96.50 431.31L96.65 430.36L96.80 428.72L96.95 426.47L97.10 424.00L97.25 422.01L97.40 421.20L97.55 422.32L97.70 424.61L97.85 427.39L98.00 429.95L98.15 431.88L98.30 433.13L98.45 433.87L98.60 434.29L98.75 434.46L98.90 434.26L99.05 433.83L99.20 433.16L99.35 432.35L99.50 431.61L99.65 431.22L99.80 431.44L99.95 432.19L100.10 433.19L100.25 434.18L100.40 434.99L100.55 435.54L100.70 435.89L100.85 436.09L101.00 436.22L101.15 436.32L101.30 436.40L101.45 436.47L101.60 436.54L101.75 436.59L101.90 436.65L102.05 436.70L102.20 436.75L102.35 436.79L102.50 436.83L102.65 436.86L102.80 436.90L102.95 436.93L103.10 436.96L103.25 436.98L103.40 437.00L103.55 437.02L103.70 437.04L103.85 437.06L104.00 437.08L104.15 437.09L104.30 437.10L104.45 437.11L104.60 437.12L104.75 437.13L104.90 437.14L105.05 437.15L105.20 437.15L105.35 437.16L105.50 437.17L105.65 437.17L105.80 437.17L105.95 437.18L106.10 437.18L106.25 437.18L106.40 437.19L106.55 437.19L106.70 437.19L106.85 437.19L107.00 437.19L107.15 437.19L107.30 437.19L107.45 437.20L107.60 437.20L107.75 437.20L107.90 437.20L108.05 437.20L108.20 437.20L108.35 437.20L108.50 437.20L108.65 437.20L108.65 437.20" fill="#0a0a0a" stroke="#0a0a0a" stroke-width="0.5"/>
<path d="M117.40 437.20L117.40 437.20L117.55 437.20L117.70 437.20L117.85 437.20L118.00 437.20L118.15 437.20L118.30 437.20L118.45 437.20L118.60 437.20L118.75 437.20L118.90 437.20L119.05 437.20L119.20 437.20L119.35 437.20L119.50 437.20L119.65 437.20L119.80 437.20L119.95 437.20L120.10 437.20L120.25 437.19L120.40 437.19L120.55 437.19L120.70 437.19L120.85 437.19L121.00 437.19L121.15 437.19L121.30 437.19L121.45 437.18L121.60 437.18L121.75 437.18L121.90 437.18L122.05 437.17L122.20 437.17L122.35 437.17L122.50 437.16L122.65 437.16L122.80 437.15L122.95 437.14L123.10 437.14L123.25 437.13L123.40 437.12L123.55 437.11L123.70 437.10L123.85 437.08L124.00 437.07L124.15 437.05L124.30 437.03L124.45 437.01L124.60 436.99L124.75 436.96L124.90 436.92L125.05 436.88L125.20 436.80L125.35 436.65L125.50 436.35L125.65 435.83L125.80 435.00L125.95 433.88L126.10 432.67L126.25 431.67L126.40 431.20L126.55 431.60L126.70 432.52L126.85 433.67L127.00 434.71L127.15 435.47L127.30 435.92L127.45 436.14L127.60 436.21L127.75 436.12L127.90 436.02L128.05 435.89L128.20 435.73L128.35 435.48L128.50 435.03L128.65 434.14L128.80 432.49L128.95 429.73L129.10 425.82L129.25 421.23L129.40 417.03L129.55 414.51L129.70 414.97L129.85 417.98L130.00 422.26L130.15 426.53L130.30 429.88L130.45 432.05L130.60 433.22L130.75 433.73L130.90 433.91L131.05 433.93L131.20 433.89L131.35 433.82L131.50 433.73L131.65 433.64L131.80 433.53L131.95 433.39L132.10 433.23L132.25 433.06L132.40 432.88L132.55 432.69L132.70 432.48L132.85 432.24L133.00 431.92L133.15 431.39L133.30 430.41L133.45 428.57L133.60 425.39L133.75 420.63L133.90 414.66L134.05 408.68L134.20 404.40L134.35 403.53L134.50 406.66L134.65 412.02L134.80 417.92L134.95 422.93L135.10 426.39L135.25 428.39L135.40 429.37L135.55 429.78L135.70 429.92L135.85 429.95L136.00 429.93L136.15 429.76L136.30 429.54L136.45 429.22L136.60 428.62L136.75 427.42L136.90 425.17L137.05 421.41L137.20 416.04L137.35 409.75L137.50 404.01L137.65 400.60L137.80 401.33L137.95 405.60L138.10 411.63L138.25 417.65L138.40 422.42L138.55 425.55L138.70 427.30L138.85 428.16L139.00 428.55L139.15 428.73L139.30 428.83L139.45 428.86L139.60 428.78L139.75 428.66L139.90 428.47L140.05 428.10L140.20 427.31L140.35 425.66L140.50 422.59L140.65 417.66L140.80 411.01L140.95 403.76L141.10 397.85L141.25 395.20L141.40 397.87L141.55 403.79L141.70 411.05L141.85 417.71L142.00 422.66L142.15 425.76L142.30 427.43L142.45 428.25L142.60 428.64L142.75 428.86L142.90 429.01L143.05 429.12L143.20 429.10L143.35 429.03L143.50 428.87L143.65 428.50L143.80 427.62L143.95 425.81L144.10 422.53L144.25 417.53L144.40 411.19L144.55 404.85L144.70 400.37L144.85 399.63L145.00 403.29L145.15 409.39L145.30 416.09L145.45 421.80L145.60 425.81L145.75 428.23L145.90 429.53L146.05 430.20L146.20 430.58L146.35 430.83L146.50 431.04L146.65 431.12L146.80 431.12L146.95 431.02L147.10 430.64L147.25 429.71L147.40 427.78L147.55 424.42L147.70 419.55L147.85 413.79L148.00 408.56L148.15 405.52L148.30 406.38L148.45 410.59L148.60 416.45L148.75 422.30L148.90 426.96L149.05 430.07L149.20 431.87L149.35 432.83L149.50 433.35L149.65 433.66L149.80 433.88L149.95 433.91L150.10 433.73L150.25 433.19L150.40 432.03L150.55 429.98L150.70 427.00L150.85 423.46L151.00 420.25L151.15 418.39L151.30 418.94L151.45 421.55L151.60 425.18L151.75 428.81L151.90 431.69L152.05 433.62L152.20 434.73L152.35 435.32L152.50 435.64L152.65 435.82L152.80 435.95L152.95 436.06L153.10 436.16L153.25 436.24L153.40 436.32L153.55 436.39L153.70 436.46L153.85 436.52L154.00 436.57L154.15 436.62L154.30 436.67L154.45 436.72L154.60 436.76L154.75 436.79L154.90 436.83L155.05 436.86L155.20 436.89L155.35 436.92L155.50 436.94L155.65 436.96L155.80 436.98L155.95 437.00L156.10 437.02L156.25 437.04L156.40 437.05L156.55 437.07L156.70 437.08L156.85 437.09L157.00 437.10L157.15 437.11L157.30 437.12L157.45 437.13L157.60 437.14L157.75 437.14L157.90 437.15L158.05 437.16L158.20 437.16L158.35 437.16L158.50 437.17L158.65 437.17L158.80 437.18L158.95 437.18L159.10 437.18L159.25 437.18L159.40 437.19L159.55 437.19L159.70 437.19L159.85 437.19L160.00 437.19L160.15 437.19L160.15 437.20" fill="#0a0a0a" stroke="#0a0a0a" stroke-width="0.5"/>
<path d="M179.60 437.20L179.60 437.20L179.75 437.20L179.90 437.20L180.05 437.20L180.20 437.20L180.35 437.20L180.50 437.20L180.65 437.20L180.80 437.20L180.95 437.20L181.10 437.20L181.25 437.19L181.40 437.19L181.55 437.19L181.70 437.19L181.85 437.19L182.00 437.19L182.15 437.19L182.30 437.18L182.45 437.18L182.60 437.18L182.75 437.17L182.90 437.17L183.05 437.17L183.20 437.16L183.35 437.15L183.50 437.15L183.65 437.14L183.80 437.13L183.95 437.12L184.10 437.11L184.25 437.10L184.40 437.09L184.55 437.07L184.70 437.06L184.85 437.04L185.00 437.02L185.15 437.00L185.30 436.97L185.45 436.95L185.60 436.92L185.75 436.89L185.90 436.85L186.05 436.81L186.20 436.77L186.35 436.73L186.50 436.68L186.65 436.62L186.80 436.56L186.95 436.49L187.10 436.41L187.25 436.32L187.40 436.19L187.55 435.97L187.70 435.58L187.85 434.91L188.00 433.88L188.15 432.52L188.30 431.04L188.45 429.81L188.60 429.20L188.75 429.61L188.90 430.64L189.05 431.93L189.20 433.09L189.35 433.93L189.50 434.40L189.65 434.59L189.80 434.61L189.95 434.55L190.10 434.40L190.25 434.23L190.40 434.05L190.55 433.86L190.70 433.64L190.85 433.38L191.00 433.00L191.15 432.35L191.30 431.16L191.45 429.09L191.60 425.85L191.75 421.55L191.90 416.86L192.05 413.02L192.20 411.20L192.35 412.71L192.50 416.24L192.65 420.62L192.80 424.62L192.95 427.56L193.10 429.33L193.25 430.22L193.40 430.57L193.55 430.67L193.70 430.65L193.85 430.59L194.00 430.44L194.15 430.18L194.30 429.79L194.45 429.08L194.60 427.81L194.75 425.74L194.90 422.82L195.05 419.41L195.20 416.30L195.35 414.43L195.50 414.77L195.65 416.99L195.80 420.16L195.95 423.32L196.10 425.82L196.25 427.46L196.40 428.36L196.55 428.78L196.70 428.97L196.85 428.79L197.00 428.42L197.15 427.67L197.30 426.23L197.45 423.82L197.60 420.37L197.75 416.32L197.90 412.63L198.05 410.45L198.20 410.95L198.35 413.74L198.50 417.67L198.65 421.60L198.80 424.71L198.95 426.76L199.10 427.92L199.25 428.50L199.40 428.77L199.55 428.77L199.70 428.68L199.85 428.54L200.00 428.29L200.15 427.72L200.30 426.48L200.45 423.95L200.60 419.41L200.75 412.50L200.90 403.77L201.05 395.02L201.20 388.83L201.35 387.78L201.50 392.74L201.65 401.07L201.80 410.20L201.95 417.99L202.10 423.45L202.25 426.72L202.40 428.46L202.55 429.33L202.70 429.81L202.85 430.04L203.00 429.54L203.15 428.61L203.30 427.22L203.45 425.57L203.60 424.08L203.75 423.26L203.90 423.63L204.05 425.01L204.20 426.90L204.35 428.79L204.50 430.32L204.65 431.37L204.80 432.04L204.95 432.45L205.10 432.72L205.25 432.93L205.40 433.10L205.55 433.22L205.70 433.31L205.85 433.33L206.00 433.19L206.15 432.76L206.30 431.88L206.45 430.45L206.60 428.61L206.75 426.77L206.90 425.49L207.05 425.37L207.20 426.60L207.35 428.58L207.50 430.74L207.65 432.60L207.80 433.92L207.95 434.74L208.10 435.21L208.25 435.10L208.40 434.66L208.55 433.92L208.70 432.97L208.85 432.01L209.00 431.35L209.15 431.29L209.30 431.94L209.45 432.98L209.60 434.12L209.75 435.09L209.90 435.78L210.05 436.21L210.20 436.45L210.35 436.59L210.50 436.67L210.65 436.73L210.80 436.78L210.95 436.83L211.10 436.87L211.25 436.90L211.40 436.94L211.55 436.96L211.70 436.99L211.85 437.01L212.00 437.03L212.15 437.05L212.30 437.07L212.45 437.08L212.60 437.10L212.75 437.11L212.90 437.12L213.05 437.13L213.20 437.14L213.35 437.15L213.50 437.15L213.65 437.16L213.80 437.16L213.95 437.17L214.10 437.17L214.25 437.18L214.40 437.18L214.55 437.18L214.70 437.19L214.85 437.19L215.00 437.19L215.15 437.19L215.30 437.19L215.45 437.19L215.60 437.19L215.75 437.20L215.90 437.20L216.05 437.20L216.20 437.20L216.35 437.20L216.50 437.20L216.65 437.20L216.80 437.20L216.95 437.20L217.10 437.20L217.25 437.20L217.40 437.20L217.55 437.20L217.70 437.20L217.85 437.20L218.00 437.20L218.00 437.20" fill="#0a0a0a" stroke="#0a0a0a" stroke-width="0.5"/>
<path d="M227.60 437.20L227.60 437.20L227.75 437.20L227.90 437.20L228.05 437.20L228.20 437.20L228.35 437.20L228.50 437.20L228.65 437.20L228.80 437.20L228.95 437.20L229.10 437.20L229.25 437.20L229.40 437.20L229.55 437.20L229.70 437.20L229.85 437.20L230.00 437.20L230.15 437.20L230.30 437.20L230.45 437.20L230.60 437.20L230.75 437.20L230.90 437.20L231.05 437.20L231.20 437.20L231.35 437.20L231.50 437.20L231.65 437.20L231.80 437.20L231.95 437.20L232.10 437.20L232.25 437.20L232.40 437.19L232.55 437.19L232.70 437.19L232.85 437.19L233.00 437.19L233.15 437.19L233.30 437.18L233.45 437.18L233.60 437.18L233.75 437.17L233.90 437.16L234.05 437.16L234.20 437.15L234.35 437.14L234.50 437.12L234.65 437.11L234.80 437.09L234.95 437.07L235.10 437.03L235.25 436.98L235.40 436.87L235.55 436.64L235.70 436.15L235.85 435.25L236.00 433.80L236.15 431.85L236.30 429.72L236.45 427.98L236.60 427.20L236.75 427.98L236.90 429.70L237.05 431.82L237.20 433.77L237.35 435.21L237.50 436.10L237.65 436.58L237.80 436.80L237.95 436.90L238.10 436.94L238.25 436.96L238.40 436.97L238.55 436.98L238.70 436.98L238.85 436.97L239.00 436.97L239.15 436.96L239.30 436.94L239.45 436.92L239.60 436.90L239.75 436.88L239.90 436.86L240.05 436.83L240.20 436.80L240.35 436.76L240.50 436.72L240.65 436.68L240.80 436.63L240.95 436.58L241.10 436.53L241.25 436.47L241.40 436.41L241.55 436.35L241.70 436.26L241.85 436.15L242.00 435.99L242.15 435.71L242.30 435.26L242.45 434.61L242.60 433.80L242.75 432.99L242.90 432.39L243.05 432.22L243.20 432.54L243.35 433.14L243.50 433.81L243.65 434.36L243.80 434.72L243.95 434.89L244.10 434.93L244.25 434.90L244.40 434.84L244.55 434.75L244.70 434.64L244.85 434.52L245.00 434.37L245.15 434.17L245.30 433.85L245.45 433.34L245.60 432.58L245.75 431.60L245.90 430.53L246.05 429.65L246.20 429.20L246.35 429.47L246.50 430.17L246.65 431.05L246.80 431.86L246.95 432.43L247.10 432.77L247.25 432.87L247.40 432.69L247.55 432.39L247.70 431.83L247.85 430.77L248.00 428.95L248.15 426.21L248.30 422.77L248.45 419.33L248.60 416.88L248.75 416.40L248.90 418.23L249.05 421.37L249.20 424.81L249.35 427.74L249.50 429.77L249.65 430.96L249.80 431.56L249.95 431.84L250.10 431.96L250.25 432.01L250.40 432.04L250.55 432.04L250.70 432.00L250.85 431.94L251.00 431.88L251.15 431.81L251.30 431.73L251.45 431.62L251.60 431.47L251.75 431.23L251.90 430.74L252.05 429.70L252.20 427.52L252.35 423.45L252.50 416.92L252.65 408.12L252.80 398.52L252.95 390.71L253.10 387.20L253.25 390.74L253.40 398.59L253.55 408.21L253.70 417.05L253.85 423.61L254.00 427.71L254.15 429.93L254.30 431.01L254.45 431.54L254.60 431.83L254.75 431.78L254.90 431.10L255.05 429.92L255.20 428.21L255.35 426.19L255.50 424.36L255.65 423.30L255.80 423.63L255.95 425.14L256.10 427.24L256.25 429.34L256.40 431.02L256.55 432.15L256.70 432.83L256.85 433.21L257.00 433.40L257.15 433.30L257.30 433.00L257.45 432.35L257.60 431.25L257.75 429.74L257.90 428.08L258.05 426.75L258.20 426.20L258.35 426.94L258.50 428.47L258.65 430.32L258.80 432.03L258.95 433.32L259.10 434.15L259.25 434.65L259.40 434.93L259.55 435.11L259.70 435.25L259.85 435.28L260.00 435.22L260.15 435.01L260.30 434.57L260.45 433.85L260.60 432.92L260.75 431.99L260.90 431.34L261.05 431.29L261.20 431.91L261.35 432.92L261.50 434.02L261.65 434.97L261.80 435.64L261.95 436.06L262.10 436.30L262.25 436.43L262.40 436.52L262.55 436.59L262.70 436.64L262.85 436.69L263.00 436.74L263.15 436.78L263.30 436.82L263.45 436.85L263.60 436.89L263.75 436.91L263.90 436.94L264.05 436.97L264.20 436.99L264.35 437.01L264.50 437.03L264.65 437.05L264.80 437.06L264.95 437.08L265.10 437.09L265.25 437.10L265.40 437.11L265.55 437.12L265.70 437.13L265.85 437.14L266.00 437.15L266.15 437.15L266.30 437.16L266.45 437.16L266.60 437.17L266.75 437.17L266.90 437.18L267.05 437.18L267.20 437.18L267.35 437.18L267.50 437.19L267.65 437.19L267.80 437.19L267.95 437.19L268.10 437.19L268.25 437.19L268.40 437.19L268.55 437.20L268.70 437.20L268.85 437.20L269.00 437.20L269.15 437.20L269.30 437.20L269.45 437.20L269.60 437.20L269.75 437.20L269.90 437.20L269.90 437.20" fill="#0a0a0a" stroke="#0a0a0a" stroke-width="0.5"/>
<path d="M286.50 437.20L286.50 437.20L286.65 437.20L286.80 437.20L286.95 437.20L287.10 437.20L287.25 437.20L287.40 437.20L287.55 437.20L287.70 437.20L287.85 437.20L288.00 437.20L288.15 437.20L288.30 437.20L288.45 437.20L288.60 437.20L288.75 437.20L288.90 437.20L289.05 437.20L289.20 437.20L289.35 437.20L289.50 437.20L289.65 437.20L289.80 437.20L289.95 437.19L290.10 437.19L290.25 437.19L290.40 437.19L290.55 437.19L290.70 437.19L290.85 437.19L291.00 437.18L291.15 437.18L291.30 437.18L291.45 437.17L291.60 437.17L291.75 437.17L291.90 437.16L292.05 437.15L292.20 437.15L292.35 437.14L292.50 437.13L292.65 437.12L292.80 437.11L292.95 437.10L293.10 437.08L293.25 437.06L293.40 437.05L293.55 437.03L293.70 437.00L293.85 436.97L294.00 436.94L294.15 436.90L294.30 436.84L294.45 436.73L294.60 436.53L294.75 436.19L294.90 435.65L295.05 434.94L295.20 434.16L295.35 433.52L295.50 433.20L295.65 433.42L295.80 433.97L295.95 434.64L296.10 435.26L296.25 435.70L296.40 435.94L296.55 436.03L296.70 436.04L296.85 435.99L297.00 435.89L297.15 435.77L297.30 435.64L297.45 435.45L297.60 435.15L297.75 434.64L297.90 433.82L298.05 432.62L298.20 431.14L298.35 429.65L298.50 428.55L298.65 428.24L298.80 428.87L298.95 430.01L299.10 431.28L299.25 432.33L299.40 433.02L299.55 433.36L299.70 433.46L299.85 433.42L300.00 433.22L300.15 433.02L300.30 432.81L300.45 432.58L300.60 432.33L300.75 432.03L300.90 431.63L301.05 430.96L301.20 429.69L301.35 427.30L301.50 423.16L301.65 416.95L301.80 409.15L301.95 401.34L302.10 395.75L302.25 394.64L302.40 398.76L302.55 405.81L302.70 413.56L302.85 420.14L303.00 424.69L303.15 427.34L303.30 428.65L303.45 429.21L303.60 429.43L303.75 429.50L303.90 429.52L304.05 429.51L304.20 429.36L304.35 429.19L304.50 428.98L304.65 428.69L304.80 428.18L304.95 427.15L305.10 425.07L305.25 421.23L305.40 415.09L305.55 406.83L305.70 397.84L305.85 390.51L306.00 387.20L306.15 390.47L306.30 397.76L306.45 406.72L306.60 414.93L306.75 421.03L306.90 424.82L307.05 426.86L307.20 427.84L307.35 428.30L307.50 428.52L307.65 428.66L307.80 428.76L307.95 428.85L308.10 428.92L308.25 428.85L308.40 428.66L308.55 428.26L308.70 427.39L308.85 425.77L309.00 423.14L309.15 419.59L309.30 415.72L309.45 412.58L309.60 411.20L309.75 412.69L309.90 415.94L310.05 419.92L310.20 423.57L310.35 426.31L310.50 428.05L310.65 429.03L310.80 428.52L310.95 427.21L311.10 425.05L311.25 422.10L311.40 418.89L311.55 416.30L311.70 415.20L311.85 416.55L312.00 419.39L312.15 422.85L312.30 426.04L312.45 428.44L312.60 429.99L312.75 430.90L312.90 431.41L313.05 431.73L313.20 431.75L313.35 431.52L313.50 430.91L313.65 429.79L313.80 428.11L313.95 426.10L314.10 424.29L314.25 423.28L314.40 423.70L314.55 425.35L314.70 427.60L314.85 429.85L315.00 431.66L315.15 432.90L315.30 433.66L315.45 434.10L315.60 434.38L315.75 434.58L315.90 434.64L316.05 434.55L316.20 434.27L316.35 433.69L316.50 432.80L316.65 431.74L316.80 430.77L316.95 430.24L317.10 430.48L317.25 431.39L317.40 432.63L317.55 433.85L317.70 434.84L317.85 435.51L318.00 435.92L318.15 436.16L318.30 436.30L318.45 436.40L318.60 436.47L318.75 436.54L318.90 436.60L319.05 436.66L319.20 436.71L319.35 436.76L319.50 436.80L319.65 436.84L319.80 436.88L319.95 436.91L320.10 436.94L320.25 436.96L320.40 436.99L320.55 437.01L320.70 437.03L320.85 437.05L321.00 437.07L321.15 437.08L321.30 437.10L321.45 437.11L321.60 437.12L321.75 437.13L321.90 437.14L322.05 437.14L322.20 437.15L322.35 437.16L322.50 437.16L322.65 437.17L322.80 437.17L322.95 437.18L323.10 437.18L323.25 437.18L323.40 437.18L323.55 437.19L323.70 437.19L323.85 437.19L324.00 437.19L324.15 437.19L324.30 437.19L324.45 437.19L324.60 437.20L324.75 437.20L324.90 437.20L325.05 437.20L325.20 437.20L325.35 437.20L325.50 437.20L325.65 437.20L325.80 437.20L325.95 437.20L325.95 437.20" fill="#0a0a0a" stroke="#0a0a0a" stroke-width="0.5"/>
<path d="M344.00 437.20L344.00 437.20L344.15 437.20L344.30 437.20L344.45 437.20L344.60 437.20L344.75 437.20L344.90 437.20L345.05 437.20L345.20 437.20L345.35 437.20L345.50 437.20L345.65 437.20L345.80 437.20L345.95 437.20L346.10 437.19L346.25 437.19L346.40 437.19L346.55 437.19L346.70 437.19L346.85 437.19L347.00 437.19L347.15 437.18L347.30 437.18L347.45 437.18L347.60 437.17L347.75 437.17L347.90 437.17L348.05 437.16L348.20 437.16L348.35 437.15L348.50 437.14L348.65 437.13L348.80 437.12L348.95 437.11L349.10 437.10L349.25 437.09L349.40 437.07L349.55 437.06L349.70 437.04L349.85 437.02L350.00 437.00L350.15 436.98L350.30 436.95L350.45 436.92L350.60 436.89L350.75 436.85L350.90 436.81L351.05 436.77L351.20 436.72L351.35 436.67L351.50 436.61L351.65 436.53L351.80 436.43L351.95 436.26L352.10 435.97L352.25 435.47L352.40 434.70L352.55 433.68L352.70 432.58L352.85 431.66L353.00 431.20L353.15 431.49L353.30 432.24L353.45 433.17L353.60 434.02L353.75 434.62L353.90 434.95L354.05 435.07L354.20 435.06L354.35 434.96L354.50 434.81L354.65 434.64L354.80 434.45L354.95 434.20L355.10 433.82L355.25 433.15L355.40 431.99L355.55 430.12L355.70 427.50L355.85 424.45L356.00 421.65L356.15 419.93L356.30 420.14L356.45 421.99L356.60 424.66L356.75 427.32L356.90 429.40L357.05 430.71L357.20 431.38L357.35 431.64L357.50 431.68L357.65 431.56L357.80 431.34L357.95 431.12L358.10 430.88L358.25 430.61L358.40 430.24L358.55 429.66L358.70 428.55L358.85 426.40L359.00 422.50L359.15 416.30L359.30 407.99L359.45 398.96L359.60 391.57L359.75 388.20L359.90 391.39L360.05 398.58L360.20 407.43L360.35 415.55L360.50 421.56L360.65 425.28L360.80 427.25L360.95 428.17L361.10 428.57L361.25 428.75L361.40 428.85L361.55 428.74L361.70 428.40L361.85 427.70L362.00 426.29L362.15 423.69L362.30 419.53L362.45 413.92L362.60 407.82L362.75 402.84L362.90 400.60L363.05 402.83L363.20 407.80L363.35 413.90L363.50 419.49L363.65 423.64L363.80 426.23L363.95 427.62L364.10 428.30L364.25 428.62L364.40 428.78L364.55 428.60L364.70 428.10L364.85 427.08L365.00 425.24L365.15 422.44L365.30 418.90L365.45 415.35L365.60 412.85L365.75 412.45L365.90 414.50L366.05 417.92L366.20 421.68L366.35 424.89L366.50 427.16L366.65 428.53L366.80 429.29L366.95 429.70L367.10 429.94L367.25 430.13L367.40 430.28L367.55 430.37L367.70 430.37L367.85 430.23L368.00 429.82L368.15 428.95L368.30 427.47L368.45 425.44L368.60 423.21L368.75 421.42L368.90 420.70L369.05 421.72L369.20 423.80L369.35 426.32L369.50 428.65L369.65 430.42L369.80 431.58L369.95 432.28L370.10 432.69L370.25 432.78L370.40 432.60L370.55 432.08L370.70 431.03L370.85 429.36L371.00 427.20L371.15 425.04L371.30 423.55L371.45 423.39L371.60 424.81L371.75 427.11L371.90 429.62L372.05 431.76L372.20 433.30L372.35 434.25L372.50 434.79L372.65 434.93L372.80 434.63L372.95 434.12L373.10 433.44L373.25 432.75L373.40 432.29L373.55 432.28L373.70 432.80L373.85 433.61L374.00 434.49L374.15 435.25L374.30 435.79L374.45 436.14L374.60 436.34L374.75 436.47L374.90 436.55L375.05 436.62L375.20 436.67L375.35 436.72L375.50 436.77L375.65 436.81L375.80 436.85L375.95 436.89L376.10 436.92L376.25 436.95L376.40 436.97L376.55 437.00L376.70 437.02L376.85 437.04L377.00 437.06L377.15 437.07L377.30 437.09L377.45 437.10L377.60 437.11L377.75 437.12L377.90 437.13L378.05 437.14L378.20 437.15L378.35 437.15L378.50 437.16L378.65 437.16L378.80 437.17L378.95 437.17L379.10 437.18L379.25 437.18L379.40 437.18L379.55 437.19L379.70 437.19L379.85 437.19L380.00 437.19L380.15 437.19L380.30 437.19L380.45 437.19L380.60 437.20L380.75 437.20L380.90 437.20L381.05 437.20L381.20 437.20L381.35 437.20L381.50 437.20L381.65 437.20L381.80 437.20L381.95 437.20L382.10 437.20L382.25 437.20L382.40 437.20L382.40 437.20" fill="#0a0a0a" stroke="#0a0a0a" stroke-width="0.5"/>
<path d="M400.40 437.20L400.40 437.20L400.55 437.20L400.70 437.20L400.85 437.20L401.00 437.20L401.15 437.20L401.30 437.20L401.45 437.20L401.60 437.20L401.75 437.20L401.90 437.20L402.05 437.20L402.20 437.20L402.35 437.20L402.50 437.20L402.65 437.19L402.80 437.19L402.95 437.19L403.10 437.19L403.25 437.19L403.40 437.19L403.55 437.19L403.70 437.19L403.85 437.18L404.00 437.18L404.15 437.18L404.30 437.18L404.45 437.17L404.60 437.17L404.75 437.17L404.90 437.16L405.05 437.16L405.20 437.15L405.35 437.15L405.50 437.14L405.65 437.14L405.80 437.13L405.95 437.12L406.10 437.11L406.25 437.10L406.40 437.09L406.55 437.07L406.70 437.06L406.85 437.04L407.00 437.02L407.15 437.00L407.30 436.98L407.45 436.95L407.60 436.92L407.75 436.88L407.90 436.84L408.05 436.77L408.20 436.66L408.35 436.44L408.50 436.00L408.65 435.21L408.80 433.95L408.95 432.25L409.10 430.41L409.25 428.90L409.40 428.20L409.55 428.83L409.70 430.28L409.85 432.07L410.00 433.70L410.15 434.90L410.30 435.63L410.45 436.00L410.60 436.16L410.75 436.20L410.90 436.21L411.05 436.19L411.20 436.16L411.35 436.12L411.50 436.07L411.65 436.00L411.80 435.92L411.95 435.82L412.10 435.65L412.25 435.35L412.40 434.82L412.55 433.97L412.70 432.77L412.85 431.37L413.00 430.09L413.15 429.30L413.30 429.41L413.45 430.28L413.60 431.52L413.75 432.76L413.90 433.73L414.05 434.35L414.20 434.67L414.35 434.80L414.50 434.83L414.65 434.81L414.80 434.72L414.95 434.64L415.10 434.55L415.25 434.45L415.40 434.34L415.55 434.22L415.70 434.07L415.85 433.87L416.00 433.51L416.15 432.80L416.30 431.36L416.45 428.74L416.60 424.54L416.75 418.91L416.90 412.78L417.05 407.77L417.20 405.50L417.35 407.70L417.50 412.63L417.65 418.69L417.80 424.26L417.95 428.38L418.10 430.93L418.25 432.29L418.40 432.93L418.55 433.22L418.70 433.36L418.85 433.43L419.00 433.48L419.15 433.52L419.30 433.46L419.45 433.39L419.60 433.30L419.75 433.20L419.90 433.08L420.05 432.90L420.20 432.58L420.35 431.93L420.50 430.53L420.65 427.72L420.80 422.71L420.95 415.10L421.10 405.50L421.25 395.87L421.40 389.03L421.55 387.81L421.70 393.15L421.85 402.16L422.00 412.06L422.15 420.47L422.30 426.34L422.45 429.81L422.60 431.60L422.75 432.45L422.90 432.85L423.05 433.07L423.20 433.21L423.35 433.33L423.50 433.42L423.65 433.51L423.80 433.49L423.95 433.39L424.10 433.18L424.25 432.69L424.40 431.66L424.55 429.70L424.70 426.55L424.85 422.29L425.00 417.65L425.15 413.88L425.30 412.20L425.45 413.95L425.60 417.81L425.75 422.52L425.90 426.86L426.05 430.09L426.20 432.11L426.35 433.23L426.50 433.70L426.65 433.05L426.80 431.84L426.95 429.99L427.10 427.64L427.25 425.28L427.40 423.62L427.55 423.37L427.70 424.77L427.85 427.09L428.00 429.63L428.15 431.80L428.30 433.33L428.45 434.26L428.60 434.77L428.75 435.04L428.90 435.00L429.05 434.82L429.20 434.35L429.35 433.36L429.50 431.54L429.65 428.75L429.80 425.21L429.95 421.66L430.10 419.15L430.25 418.75L430.40 420.80L430.55 424.23L430.70 427.99L430.85 431.20L431.00 433.45L431.15 434.79L431.30 435.51L431.45 435.87L431.60 436.06L431.75 436.18L431.90 436.27L432.05 436.35L432.20 436.42L432.35 436.47L432.50 436.42L432.65 436.28L432.80 435.97L432.95 435.41L433.10 434.60L433.25 433.64L433.40 432.76L433.55 432.25L433.70 432.40L433.85 433.11L434.00 434.09L434.15 435.08L434.30 435.86L434.45 436.38L434.60 436.68L434.75 436.83L434.90 436.91L435.05 436.96L435.20 436.99L435.35 437.01L435.50 437.04L435.65 437.05L435.80 437.07L435.95 437.08L436.10 437.10L436.25 437.11L436.40 437.12L436.55 437.13L436.70 437.13L436.85 437.14L437.00 437.15L437.15 437.15L437.30 437.16L437.45 437.16L437.60 437.17L437.75 437.17L437.90 437.17L438.05 437.18L438.20 437.18L438.35 437.18L438.50 437.18L438.65 437.19L438.80 437.19L438.95 437.19L439.10 437.19L439.25 437.19L439.40 437.19L439.55 437.19L439.70 437.19L439.85 437.20L440.00 437.20L440.15 437.20L440.30 437.20L440.45 437.20L440.60 437.20L440.75 437.20L440.90 437.20L441.05 437.20L441.20 437.20L441.35 437.20L441.50 437.20L441.65 437.20L441.80 437.20L441.95 437.20L442.10 437.20L442.25 437.20L442.40 437.20L442.55 437.20L442.55 437.20" fill="#0a0a0a" stroke="#0a0a0a" stroke-width="0.5"/>
<line x1="62.5" y1="437.2" x2="446.8" y2="437.2" stroke="#111" stroke-width="1.3"/>
<path d="M83.70 437.20v2.4M98.10 437.20v2.4M137.50 437.20v2.4M152.50 437.20v2.4M193.10 437.20v2.4M206.90 437.20v2.4M247.80 437.20v2.4M261.90 437.20v2.4M303.40 437.20v2.4M317.50 437.20v2.4M357.80 437.20v2.4M371.90 437.20v2.4M412.50 437.20v2.4M427.50 437.20v2.4" stroke="#111" stroke-width="0.8" fill="none"/>
<path d="M66.92 462.51L81.19 440.99M81.32 462.51L95.59 440.99M120.72 462.51L134.99 440.99M135.72 462.51L149.99 440.99M176.32 462.51L190.59 440.99M190.12 462.51L204.39 440.99M231.02 462.51L245.29 440.99M245.12 462.51L259.39 440.99M286.62 462.51L300.89 440.99M300.72 462.51L314.99 440.99M341.02 462.51L355.29 440.99M355.12 462.51L369.39 440.99M395.72 462.51L409.99 440.99M410.72 462.51L424.99 440.99" stroke="#111" stroke-width="0.9" fill="none"/>
<path d="M49.75 464.50L49.75 464.50L49.90 464.50L50.05 464.50L50.20 464.50L50.35 464.50L50.50 464.50L50.65 464.50L50.80 464.50L50.95 464.50L51.10 464.50L51.25 464.50L51.40 464.50L51.55 464.50L51.70 464.50L51.85 464.50L52.00 464.50L52.15 464.50L52.30 464.50L52.45 464.50L52.60 464.50L52.75 464.50L52.90 464.50L53.05 464.50L53.20 464.50L53.35 464.50L53.50 464.50L53.65 464.50L53.80 464.50L53.95 464.49L54.10 464.49L54.25 464.49L54.40 464.48L54.55 464.48L54.70 464.47L54.85 464.46L55.00 464.45L55.15 464.44L55.30 464.42L55.45 464.40L55.60 464.38L55.75 464.35L55.90 464.32L56.05 464.28L56.20 464.24L56.35 464.19L56.50 464.14L56.65 464.09L56.80 464.03L56.95 463.96L57.10 463.89L57.25 463.83L57.40 463.75L57.55 463.68L57.70 463.58L57.85 463.42L58.00 463.11L58.15 462.51L58.30 461.55L58.45 460.36L58.60 459.30L58.75 458.86L58.90 459.23L59.05 460.21L59.20 461.33L59.35 462.20L59.50 462.71L59.65 462.92L59.80 462.97L59.95 462.94L60.10 462.87L60.25 462.79L60.40 462.70L60.55 462.59L60.70 462.46L60.85 462.33L61.00 462.19L61.15 462.04L61.30 461.86L61.45 461.63L61.60 461.21L61.75 460.33L61.90 458.63L62.05 455.88L62.20 452.44L62.35 449.42L62.50 448.16L62.65 449.29L62.80 452.19L62.95 455.49L63.10 458.09L63.25 459.63L63.40 460.32L63.55 460.54L63.70 460.54L63.85 460.46L64.00 460.33L64.15 460.17L64.30 459.98L64.45 459.75L64.60 459.50L64.75 459.23L64.90 458.93L65.05 458.60L65.20 458.18L65.35 457.46L65.50 455.95L65.65 452.88L65.80 447.52L65.95 440.16L66.10 432.76L66.25 428.41L66.40 429.28L66.55 434.89L66.70 442.50L66.85 449.21L67.00 453.64L67.15 455.95L67.30 456.95L67.45 457.35L67.60 457.50L67.75 457.57L67.90 457.58L68.05 457.53L68.20 457.43L68.35 457.27L68.50 457.06L68.65 456.79L68.80 456.47L68.95 456.11L69.10 455.67L69.25 455.02L69.40 453.75L69.55 451.03L69.70 445.67L69.85 436.98L70.00 426.07L70.15 416.51L70.30 412.59L70.45 416.30L70.60 425.65L70.75 436.34L70.90 444.81L71.05 449.93L71.20 452.42L71.35 453.44L71.50 453.84L71.65 454.04L71.80 454.15L71.95 454.23L72.10 454.27L72.25 454.28L72.40 454.24L72.55 454.10L72.70 453.66L72.85 452.45L73.00 449.56L73.15 443.96L73.30 435.42L73.45 425.72L73.60 418.55L73.75 417.42L73.90 422.94L74.05 432.33L74.20 441.66L74.35 448.40L74.50 452.21L74.65 454.00L74.80 454.79L74.95 455.18L75.10 455.46L75.25 455.70L75.40 455.91L75.55 456.06L75.70 456.04L75.85 455.57L76.00 454.14L76.15 451.15L76.30 446.47L76.45 441.12L76.60 437.16L76.75 436.59L76.90 439.76L77.05 445.08L77.20 450.35L77.35 454.13L77.50 456.24L77.65 457.20L77.80 457.58L77.95 457.73L78.10 457.81L78.25 457.83L78.40 457.72L78.55 457.23L78.70 455.91L78.85 453.24L79.00 449.10L79.15 444.37L79.30 440.92L79.45 440.47L79.60 443.35L79.75 448.16L79.90 452.93L80.05 456.40L80.20 458.39L80.35 459.38L80.50 459.85L80.65 460.13L80.80 460.34L80.95 460.53L81.10 460.71L81.25 460.87L81.40 461.00L81.55 461.02L81.70 460.82L81.85 460.16L82.00 458.85L82.15 456.96L82.30 455.05L82.45 453.97L82.60 454.33L82.75 455.99L82.90 458.20L83.05 460.15L83.20 461.46L83.35 462.19L83.50 462.54L83.65 462.73L83.80 462.86L83.95 462.97L84.10 463.07L84.25 463.16L84.40 463.24L84.55 463.32L84.70 463.38L84.85 463.44L85.00 463.48L85.15 463.51L85.30 463.48L85.45 463.35L85.60 463.03L85.75 462.47L85.90 461.76L86.05 461.14L86.20 460.90L86.35 461.19L86.50 461.86L86.65 462.62L86.80 463.23L86.95 463.61L87.10 463.81L87.25 463.92L87.40 463.98L87.55 464.03L87.70 464.07L87.85 464.11L88.00 464.16L88.15 464.20L88.30 464.24L88.45 464.27L88.60 464.30L88.75 464.33L88.90 464.36L89.05 464.38L89.20 464.41L89.35 464.42L89.50 464.44L89.65 464.45L89.80 464.46L89.95 464.47L90.10 464.48L90.25 464.48L90.40 464.49L90.55 464.49L90.70 464.49L90.85 464.49L91.00 464.50L91.15 464.50L91.30 464.50L91.45 464.50L91.60 464.50L91.75 464.50L91.90 464.50L92.05 464.50L92.20 464.50L92.35 464.50L92.50 464.50L92.65 464.50L92.80 464.50L92.95 464.50L93.10 464.50L93.25 464.50L93.40 464.50L93.55 464.50L93.70 464.50L93.85 464.50L94.00 464.50L94.15 464.50L94.30 464.50L94.45 464.50L94.60 464.50L94.75 464.50L94.90 464.50L95.05 464.50L95.20 464.50L95.20 464.50" fill="#fff" stroke="#1a1a1a" stroke-width="0.7" stroke-linejoin="round"/>
<path d="M101.00 464.50L101.00 464.50L101.15 464.50L101.30 464.50L101.45 464.50L101.60 464.50L101.75 464.50L101.90 464.50L102.05 464.50L102.20 464.50L102.35 464.50L102.50 464.50L102.65 464.50L102.80 464.50L102.95 464.50L103.10 464.50L103.25 464.50L103.40 464.50L103.55 464.50L103.70 464.50L103.85 464.50L104.00 464.50L104.15 464.50L104.30 464.50L104.45 464.50L104.60 464.50L104.75 464.50L104.90 464.50L105.05 464.50L105.20 464.49L105.35 464.49L105.50 464.49L105.65 464.48L105.80 464.48L105.95 464.47L106.10 464.46L106.25 464.45L106.40 464.44L106.55 464.42L106.70 464.40L106.85 464.38L107.00 464.35L107.15 464.32L107.30 464.28L107.45 464.24L107.60 464.19L107.75 464.14L107.90 464.09L108.05 464.03L108.20 463.96L108.35 463.90L108.50 463.83L108.65 463.76L108.80 463.68L108.95 463.59L109.10 463.43L109.25 463.12L109.40 462.52L109.55 461.57L109.70 460.37L109.85 459.32L110.00 458.88L110.15 459.26L110.30 460.25L110.45 461.37L110.60 462.25L110.75 462.77L110.90 462.99L111.05 463.04L111.20 463.02L111.35 462.96L111.50 462.89L111.65 462.80L111.80 462.69L111.95 462.57L112.10 462.43L112.25 462.28L112.40 462.13L112.55 461.96L112.70 461.78L112.85 461.53L113.00 461.09L113.15 460.16L113.30 458.37L113.45 455.47L113.60 451.84L113.75 448.66L113.90 447.36L114.05 448.62L114.20 451.75L114.35 455.33L114.50 458.18L114.65 459.90L114.80 460.74L114.95 461.08L115.10 461.20L115.25 461.23L115.40 461.22L115.55 461.16L115.70 461.06L115.85 460.92L116.00 460.72L116.15 460.47L116.30 460.17L116.45 459.83L116.60 459.44L116.75 459.01L116.90 458.56L117.05 458.08L117.20 457.55L117.35 456.85L117.50 455.63L117.65 453.15L117.80 448.35L117.95 440.63L118.10 430.98L118.25 422.52L118.40 419.06L118.55 422.34L118.70 430.61L118.85 440.06L119.00 447.57L119.15 452.12L119.30 454.35L119.45 455.28L119.60 455.66L119.75 455.85L119.90 455.95L120.05 456.00L120.20 456.00L120.35 455.95L120.50 455.85L120.65 455.70L120.80 455.50L120.95 455.24L121.10 454.83L121.25 453.99L121.40 452.04L121.55 447.89L121.70 440.57L121.85 430.44L122.00 420.25L122.15 414.30L122.30 415.61L122.45 423.49L122.60 434.17L122.75 443.61L122.90 449.90L123.05 453.26L123.20 454.84L123.35 455.60L123.50 456.07L123.65 456.45L123.80 456.80L123.95 457.10L124.10 457.38L124.25 457.61L124.40 457.80L124.55 457.95L124.70 458.03L124.85 457.97L125.00 457.56L125.15 456.35L125.30 453.73L125.45 449.32L125.60 443.72L125.75 438.81L125.90 436.88L126.05 438.98L126.20 444.06L126.35 449.85L126.50 454.46L126.65 457.31L126.80 458.76L126.95 459.44L127.10 459.81L127.25 460.07L127.40 460.29L127.55 460.50L127.70 460.70L127.85 460.88L128.00 461.04L128.15 461.17L128.30 461.26L128.45 461.24L128.60 460.96L128.75 460.18L128.90 458.68L129.05 456.56L129.20 454.40L129.35 453.17L129.50 453.52L129.65 455.31L129.80 457.71L129.95 459.82L130.10 461.24L130.25 462.01L130.40 462.39L130.55 462.58L130.70 462.71L130.85 462.82L131.00 462.92L131.15 463.02L131.30 463.11L131.45 463.19L131.60 463.26L131.75 463.32L131.90 463.35L132.05 463.32L132.20 463.15L132.35 462.77L132.50 462.16L132.65 461.46L132.80 460.95L132.95 460.90L133.10 461.35L133.25 462.09L133.40 462.83L133.55 463.36L133.70 463.68L133.85 463.84L134.00 463.93L134.15 463.99L134.30 464.04L134.45 464.08L134.60 464.13L134.75 464.17L134.90 464.21L135.05 464.25L135.20 464.28L135.35 464.31L135.50 464.34L135.65 464.37L135.80 464.39L135.95 464.41L136.10 464.43L136.25 464.44L136.40 464.45L136.55 464.46L136.70 464.47L136.85 464.48L137.00 464.48L137.15 464.49L137.30 464.49L137.45 464.49L137.60 464.49L137.75 464.50L137.90 464.50L138.05 464.50L138.20 464.50L138.35 464.50L138.50 464.50L138.65 464.50L138.80 464.50L138.95 464.50L139.10 464.50L139.25 464.50L139.40 464.50L139.55 464.50L139.70 464.50L139.85 464.50L140.00 464.50L140.15 464.50L140.30 464.50L140.45 464.50L140.60 464.50L140.75 464.50L140.90 464.50L141.05 464.50L141.20 464.50L141.35 464.50L141.50 464.50L141.65 464.50L141.80 464.50L141.80 464.50" fill="#fff" stroke="#1a1a1a" stroke-width="0.7" stroke-linejoin="round"/>
<path d="M159.90 464.50L159.90 464.50L160.05 464.50L160.20 464.50L160.35 464.50L160.50 464.50L160.65 464.50L160.80 464.50L160.95 464.50L161.10 464.50L161.25 464.50L161.40 464.50L161.55 464.50L161.70 464.50L161.85 464.50L162.00 464.50L162.15 464.50L162.30 464.50L162.45 464.50L162.60 464.50L162.75 464.50L162.90 464.50L163.05 464.50L163.20 464.50L163.35 464.50L163.50 464.50L163.65 464.50L163.80 464.50L163.95 464.49L164.10 464.49L164.25 464.49L164.40 464.49L164.55 464.48L164.70 464.48L164.85 464.47L165.00 464.46L165.15 464.45L165.30 464.43L165.45 464.41L165.60 464.39L165.75 464.37L165.90 464.34L166.05 464.30L166.20 464.26L166.35 464.22L166.50 464.17L166.65 464.11L166.80 464.05L166.95 463.98L167.10 463.91L167.25 463.84L167.40 463.77L167.55 463.69L167.70 463.61L167.85 463.51L168.00 463.34L168.15 463.00L168.30 462.35L168.45 461.32L168.60 460.02L168.75 458.89L168.90 458.41L169.05 458.84L169.20 459.92L169.35 461.16L169.50 462.13L169.65 462.71L169.80 462.96L169.95 463.03L170.10 463.02L170.25 462.97L170.40 462.90L170.55 462.81L170.70 462.69L170.85 462.56L171.00 462.40L171.15 462.22L171.30 462.02L171.45 461.81L171.60 461.59L171.75 461.35L171.90 461.09L172.05 460.76L172.20 460.16L172.35 458.95L172.50 456.61L172.65 452.84L172.80 448.12L172.95 443.99L173.10 442.30L173.25 443.91L173.40 447.95L173.55 452.57L173.70 456.23L173.85 458.44L174.00 459.51L174.15 459.93L174.30 460.08L174.45 460.11L174.60 460.09L174.75 460.02L174.90 459.91L175.05 459.75L175.20 459.54L175.35 459.29L175.50 458.99L175.65 458.65L175.80 458.27L175.95 457.87L176.10 457.41L176.25 456.78L176.40 455.64L176.55 453.25L176.70 448.60L176.85 441.08L177.00 431.68L177.15 423.43L177.30 420.07L177.45 423.30L177.60 431.41L177.75 440.68L177.90 448.04L178.05 452.52L178.20 454.72L178.35 455.66L178.50 456.05L178.65 456.25L178.80 456.38L178.95 456.44L179.10 456.46L179.25 456.42L179.40 456.32L179.55 456.18L179.70 455.98L179.85 455.73L180.00 455.40L180.15 454.86L180.30 453.72L180.45 451.15L180.60 446.00L180.75 437.58L180.90 427.00L181.05 417.74L181.20 414.02L181.35 417.80L181.50 427.13L181.65 437.79L181.80 446.29L181.95 451.53L182.10 454.21L182.25 455.48L182.40 456.15L182.55 456.64L182.70 457.06L182.85 457.45L183.00 457.81L183.15 458.14L183.30 458.42L183.45 458.66L183.60 458.85L183.75 458.99L183.90 459.03L184.05 458.86L184.20 458.17L184.35 456.49L184.50 453.38L184.65 449.02L184.80 444.60L184.95 442.03L185.10 442.64L185.25 446.12L185.40 450.81L185.55 454.95L185.70 457.68L185.85 459.11L186.00 459.75L186.15 460.01L186.30 460.14L186.45 460.21L186.60 460.26L186.75 460.29L186.90 460.30L187.05 460.29L187.20 460.26L187.35 460.20L187.50 460.07L187.65 459.76L187.80 458.98L187.95 457.27L188.10 454.22L188.25 450.00L188.40 445.74L188.55 443.25L188.70 443.81L188.85 447.13L189.00 451.61L189.15 455.58L189.30 458.23L189.45 459.64L189.60 460.31L189.75 460.64L189.90 460.85L190.05 461.03L190.20 461.20L190.35 461.36L190.50 461.51L190.65 461.62L190.80 461.63L190.95 461.42L191.10 460.80L191.25 459.68L191.40 458.23L191.55 456.96L191.70 456.50L191.85 457.16L192.00 458.64L192.15 460.31L192.30 461.65L192.45 462.49L192.60 462.95L192.75 463.18L192.90 463.33L193.05 463.45L193.20 463.55L193.35 463.65L193.50 463.75L193.65 463.84L193.80 463.93L193.95 464.01L194.10 464.08L194.25 464.14L194.40 464.20L194.55 464.25L194.70 464.30L194.85 464.33L195.00 464.37L195.15 464.39L195.30 464.42L195.45 464.43L195.60 464.45L195.75 464.46L195.90 464.47L196.05 464.48L196.20 464.48L196.35 464.49L196.50 464.49L196.65 464.49L196.80 464.50L196.95 464.50L197.10 464.50L197.25 464.50L197.40 464.50L197.55 464.50L197.70 464.50L197.85 464.50L198.00 464.50L198.15 464.50L198.30 464.50L198.45 464.50L198.60 464.50L198.75 464.50L198.90 464.50L199.05 464.50L199.20 464.50L199.35 464.50L199.50 464.50L199.65 464.50L199.80 464.50L199.95 464.50L200.10 464.50L200.25 464.50L200.40 464.50L200.55 464.50L200.55 464.50" fill="#fff" stroke="#1a1a1a" stroke-width="0.7" stroke-linejoin="round"/>
<path d="M211.90 464.50L211.90 464.50L212.05 464.50L212.20 464.50L212.35 464.50L212.50 464.50L212.65 464.50L212.80 464.50L212.95 464.50L213.10 464.50L213.25 464.50L213.40 464.50L213.55 464.50L213.70 464.50L213.85 464.50L214.00 464.50L214.15 464.50L214.30 464.50L214.45 464.50L214.60 464.50L214.75 464.50L214.90 464.50L215.05 464.50L215.20 464.50L215.35 464.50L215.50 464.50L215.65 464.50L215.80 464.50L215.95 464.50L216.10 464.50L216.25 464.49L216.40 464.49L216.55 464.49L216.70 464.48L216.85 464.48L217.00 464.47L217.15 464.46L217.30 464.46L217.45 464.44L217.60 464.43L217.75 464.41L217.90 464.39L218.05 464.37L218.20 464.34L218.35 464.31L218.50 464.28L218.65 464.24L218.80 464.20L218.95 464.15L219.10 464.11L219.25 464.06L219.40 464.01L219.55 463.95L219.70 463.90L219.85 463.83L220.00 463.71L220.15 463.48L220.30 463.04L220.45 462.34L220.60 461.46L220.75 460.69L220.90 460.36L221.05 460.62L221.20 461.32L221.35 462.12L221.50 462.74L221.65 463.10L221.80 463.23L221.95 463.25L222.10 463.21L222.25 463.14L222.40 463.06L222.55 462.97L222.70 462.87L222.85 462.77L223.00 462.65L223.15 462.54L223.30 462.40L223.45 462.22L223.60 461.90L223.75 461.21L223.90 459.87L224.05 457.70L224.20 454.98L224.35 452.60L224.50 451.63L224.65 452.55L224.80 454.88L224.95 457.54L225.10 459.64L225.25 460.89L225.40 461.49L225.55 461.70L225.70 461.74L225.85 461.72L226.00 461.65L226.15 461.55L226.30 461.42L226.45 461.25L226.60 461.04L226.75 460.79L226.90 460.51L227.05 460.21L227.20 459.88L227.35 459.53L227.50 459.15L227.65 458.68L227.80 457.92L227.95 456.41L228.10 453.37L228.25 448.13L228.40 440.93L228.55 433.69L228.70 429.42L228.85 430.24L229.00 435.65L229.15 443.02L229.30 449.51L229.45 453.78L229.60 455.98L229.75 456.92L229.90 457.26L230.05 457.37L230.20 457.40L230.35 457.37L230.50 457.29L230.65 457.16L230.80 456.99L230.95 456.76L231.10 456.49L231.25 456.18L231.40 455.79L231.55 455.20L231.70 454.02L231.85 451.45L232.00 446.37L232.15 438.10L232.30 427.73L232.45 418.63L232.60 414.91L232.75 418.46L232.90 427.40L233.05 437.61L233.20 445.71L233.35 450.64L233.50 453.06L233.65 454.10L233.80 454.57L233.95 454.85L234.10 455.08L234.25 455.28L234.40 455.46L234.55 455.57L234.70 455.49L234.85 454.88L235.00 453.14L235.15 449.57L235.30 444.03L235.45 437.70L235.60 433.04L235.75 432.39L235.90 436.15L236.05 442.49L236.20 448.76L236.35 453.29L236.50 455.86L236.65 457.06L236.80 457.58L236.95 457.83L237.10 458.00L237.25 458.14L237.40 458.25L237.55 458.32L237.70 458.26L237.85 457.84L238.00 456.64L238.15 454.20L238.30 450.41L238.45 446.08L238.60 442.90L238.75 442.46L238.90 445.04L239.05 449.39L239.20 453.70L239.35 456.82L239.50 458.60L239.65 459.45L239.80 459.84L239.95 460.06L240.10 460.22L240.25 460.34L240.40 460.40L240.55 460.28L240.70 459.78L240.85 458.64L241.00 456.82L241.15 454.72L241.30 453.20L241.45 453.06L241.60 454.44L241.75 456.70L241.90 458.94L242.05 460.57L242.20 461.52L242.35 462.00L242.50 462.24L242.65 462.39L242.80 462.51L242.95 462.61L243.10 462.70L243.25 462.75L243.40 462.70L243.55 462.48L243.70 461.99L243.85 461.27L244.00 460.54L244.15 460.13L244.30 460.31L244.45 461.00L244.60 461.91L244.75 462.71L244.90 463.26L245.05 463.57L245.20 463.73L245.35 463.83L245.50 463.90L245.65 463.96L245.80 464.02L245.95 464.07L246.10 464.13L246.25 464.17L246.40 464.22L246.55 464.26L246.70 464.30L246.85 464.33L247.00 464.36L247.15 464.38L247.30 464.40L247.45 464.42L247.60 464.44L247.75 464.45L247.90 464.46L248.05 464.47L248.20 464.48L248.35 464.48L248.50 464.49L248.65 464.49L248.80 464.49L248.95 464.49L249.10 464.50L249.25 464.50L249.40 464.50L249.55 464.50L249.70 464.50L249.85 464.50L250.00 464.50L250.15 464.50L250.30 464.50L250.45 464.50L250.60 464.50L250.75 464.50L250.90 464.50L251.05 464.50L251.20 464.50L251.35 464.50L251.50 464.50L251.65 464.50L251.80 464.50L251.95 464.50L252.10 464.50L252.25 464.50L252.40 464.50L252.55 464.50L252.70 464.50L252.85 464.50L253.00 464.50L253.15 464.50L253.15 464.50" fill="#fff" stroke="#1a1a1a" stroke-width="0.7" stroke-linejoin="round"/>
<path d="M266.90 464.50L266.90 464.50L267.05 464.50L267.20 464.50L267.35 464.50L267.50 464.50L267.65 464.50L267.80 464.50L267.95 464.50L268.10 464.50L268.25 464.50L268.40 464.50L268.55 464.50L268.70 464.50L268.85 464.50L269.00 464.50L269.15 464.50L269.30 464.50L269.45 464.50L269.60 464.50L269.75 464.50L269.90 464.50L270.05 464.50L270.20 464.50L270.35 464.50L270.50 464.50L270.65 464.50L270.80 464.50L270.95 464.49L271.10 464.49L271.25 464.49L271.40 464.49L271.55 464.48L271.70 464.48L271.85 464.47L272.00 464.46L272.15 464.45L272.30 464.43L272.45 464.41L272.60 464.39L272.75 464.37L272.90 464.34L273.05 464.30L273.20 464.26L273.35 464.22L273.50 464.16L273.65 464.11L273.80 464.05L273.95 463.98L274.10 463.91L274.25 463.84L274.40 463.76L274.55 463.68L274.70 463.60L274.85 463.51L275.00 463.40L275.15 463.22L275.30 462.93L275.45 462.49L275.60 461.96L275.75 461.49L275.90 461.26L276.05 461.37L276.20 461.73L276.35 462.14L276.50 462.44L276.65 462.58L276.80 462.60L276.95 462.54L277.10 462.44L277.25 462.32L277.40 462.17L277.55 462.01L277.70 461.84L277.85 461.65L278.00 461.45L278.15 461.24L278.30 461.02L278.45 460.77L278.60 460.43L278.75 459.87L278.90 458.90L279.05 457.42L279.20 455.61L279.35 454.02L279.50 453.32L279.65 453.80L279.80 455.18L279.95 456.75L280.10 457.98L280.25 458.67L280.40 458.93L280.55 458.95L280.70 458.84L280.85 458.68L281.00 458.47L281.15 458.23L281.30 457.95L281.45 457.65L281.60 457.32L281.75 456.97L281.90 456.59L282.05 456.15L282.20 455.51L282.35 454.41L282.50 452.43L282.65 449.37L282.80 445.59L282.95 442.30L283.10 440.96L283.25 442.24L283.40 445.47L283.55 449.18L283.70 452.16L283.85 454.03L284.00 455.00L284.15 455.47L284.30 455.71L284.45 455.84L284.60 455.90L284.75 455.88L284.90 455.79L285.05 455.60L285.20 455.33L285.35 454.97L285.50 454.53L285.65 454.01L285.80 453.43L285.95 452.80L286.10 452.11L286.25 451.31L286.40 450.18L286.55 448.27L286.70 444.93L286.85 439.78L287.00 433.45L287.15 427.94L287.30 425.66L287.45 427.70L287.60 432.96L287.75 439.02L287.90 443.88L288.05 446.90L288.20 448.46L288.35 449.19L288.50 449.55L288.65 449.76L288.80 449.86L288.95 449.88L289.10 449.79L289.25 449.61L289.40 449.32L289.55 448.93L289.70 448.45L289.85 447.89L290.00 447.25L290.15 446.44L290.30 445.20L290.45 442.94L290.60 438.82L290.75 432.38L290.90 424.42L291.05 417.50L291.20 414.69L291.35 417.41L291.50 424.25L291.65 432.12L291.80 438.47L291.95 442.47L292.10 444.63L292.25 445.75L292.40 446.42L292.55 446.92L292.70 447.32L292.85 447.63L293.00 447.85L293.15 447.96L293.30 447.97L293.45 447.86L293.60 447.65L293.75 447.33L293.90 446.85L294.05 446.05L294.20 444.51L294.35 441.53L294.50 436.50L294.65 429.67L294.80 422.82L294.95 418.74L295.10 419.38L295.25 424.31L295.40 431.09L295.55 437.13L295.70 441.18L295.85 443.40L296.00 444.51L296.15 445.13L296.30 445.59L296.45 445.97L296.60 446.14L296.75 445.83L296.90 444.62L297.05 442.26L297.20 439.14L297.35 436.44L297.50 435.61L297.65 437.33L297.80 440.93L297.95 444.95L298.10 448.19L298.25 450.28L298.40 451.45L298.55 452.11L298.70 452.55L298.85 452.89L299.00 453.14L299.15 453.19L299.30 452.79L299.45 451.68L299.60 449.81L299.75 447.64L299.90 446.12L300.05 446.18L300.20 447.97L300.35 450.77L300.50 453.55L300.65 455.65L300.80 456.98L300.95 457.78L301.10 458.30L301.25 458.70L301.40 459.06L301.55 459.38L301.70 459.69L301.85 459.96L302.00 460.21L302.15 460.43L302.30 460.62L302.45 460.74L302.60 460.74L302.75 460.52L302.90 460.01L303.05 459.23L303.20 458.43L303.35 458.01L303.50 458.23L303.65 459.05L303.80 460.12L303.95 461.08L304.10 461.76L304.25 462.18L304.40 462.44L304.55 462.63L304.70 462.80L304.85 462.96L305.00 463.12L305.15 463.27L305.30 463.41L305.45 463.55L305.60 463.68L305.75 463.79L305.90 463.90L306.05 463.99L306.20 464.08L306.35 464.15L306.50 464.22L306.65 464.27L306.80 464.32L306.95 464.35L307.10 464.39L307.25 464.41L307.40 464.43L307.55 464.45L307.70 464.46L307.85 464.47L308.00 464.48L308.15 464.48L308.30 464.49L308.45 464.49L308.60 464.49L308.75 464.50L308.90 464.50L309.05 464.50L309.20 464.50L309.35 464.50L309.50 464.50L309.65 464.50L309.80 464.50L309.95 464.50L310.10 464.50L310.25 464.50L310.40 464.50L310.55 464.50L310.70 464.50L310.85 464.50L311.00 464.50L311.15 464.50L311.30 464.50L311.45 464.50L311.60 464.50L311.75 464.50L311.90 464.50L312.05 464.50L312.20 464.50L312.35 464.50L312.35 464.50" fill="#fff" stroke="#1a1a1a" stroke-width="0.7" stroke-linejoin="round"/>
<path d="M323.40 464.50L323.40 464.50L323.55 464.50L323.70 464.50L323.85 464.50L324.00 464.50L324.15 464.50L324.30 464.50L324.45 464.50L324.60 464.50L324.75 464.50L324.90 464.50L325.05 464.50L325.20 464.50L325.35 464.50L325.50 464.50L325.65 464.50L325.80 464.50L325.95 464.50L326.10 464.50L326.25 464.50L326.40 464.50L326.55 464.50L326.70 464.50L326.85 464.50L327.00 464.50L327.15 464.50L327.30 464.50L327.45 464.49L327.60 464.49L327.75 464.49L327.90 464.49L328.05 464.48L328.20 464.47L328.35 464.47L328.50 464.46L328.65 464.44L328.80 464.43L328.95 464.41L329.10 464.39L329.25 464.36L329.40 464.33L329.55 464.29L329.70 464.25L329.85 464.20L330.00 464.15L330.15 464.09L330.30 464.02L330.45 463.96L330.60 463.88L330.75 463.80L330.90 463.73L331.05 463.64L331.20 463.56L331.35 463.44L331.50 463.26L331.65 462.90L331.80 462.21L331.95 461.11L332.10 459.74L332.25 458.53L332.40 458.02L332.55 458.45L332.70 459.57L332.85 460.84L333.00 461.84L333.15 462.42L333.30 462.66L333.45 462.72L333.60 462.68L333.75 462.62L333.90 462.53L334.05 462.43L334.20 462.32L334.35 462.20L334.50 462.07L334.65 461.93L334.80 461.78L334.95 461.56L335.10 461.15L335.25 460.28L335.40 458.59L335.55 455.86L335.70 452.43L335.85 449.42L336.00 448.18L336.15 449.33L336.30 452.24L336.45 455.57L336.60 458.19L336.75 459.76L336.90 460.48L337.05 460.73L337.20 460.78L337.35 460.74L337.50 460.66L337.65 460.55L337.80 460.41L337.95 460.25L338.10 460.06L338.25 459.85L338.40 459.62L338.55 459.36L338.70 459.02L338.85 458.43L339.00 457.16L339.15 454.56L339.30 450.01L339.45 443.74L339.60 437.44L339.75 433.75L339.90 434.51L340.05 439.32L340.20 445.82L340.35 451.57L340.50 455.37L340.65 457.36L340.80 458.24L340.95 458.60L341.10 458.75L341.25 458.83L341.40 458.85L341.55 458.82L341.70 458.74L341.85 458.59L342.00 458.39L342.15 458.13L342.30 457.82L342.45 457.47L342.60 457.07L342.75 456.62L342.90 456.03L343.05 455.04L343.20 452.97L343.35 448.79L343.50 441.52L343.65 431.54L343.80 421.50L343.95 415.58L344.10 416.71L344.25 424.24L344.40 434.48L344.55 443.51L344.70 449.48L344.85 452.60L345.00 453.99L345.15 454.58L345.30 454.89L345.45 455.12L345.60 455.31L345.75 455.49L345.90 455.63L346.05 455.69L346.20 455.55L346.35 454.86L346.50 452.99L346.65 449.21L346.80 443.38L346.95 436.71L347.10 431.80L347.25 431.07L347.40 434.94L347.55 441.50L347.70 448.00L347.85 452.69L348.00 455.33L348.15 456.56L348.30 457.09L348.45 457.34L348.60 457.52L348.75 457.66L348.90 457.74L349.05 457.64L349.20 457.07L349.35 455.56L349.50 452.71L349.65 448.67L349.80 444.57L349.95 442.24L350.10 442.93L350.25 446.37L350.40 450.95L350.55 455.01L350.70 457.71L350.85 459.18L351.00 459.89L351.15 460.25L351.30 460.49L351.45 460.68L351.60 460.86L351.75 461.02L351.90 461.12L352.05 461.07L352.20 460.70L352.35 459.82L352.50 458.40L352.65 456.74L352.80 455.55L352.95 455.46L353.10 456.60L353.25 458.44L353.40 460.26L353.55 461.60L353.70 462.40L353.85 462.82L354.00 463.04L354.15 463.20L354.30 463.33L354.45 463.45L354.60 463.57L354.75 463.68L354.90 463.78L355.05 463.88L355.20 463.96L355.35 464.04L355.50 464.12L355.65 464.18L355.80 464.24L355.95 464.28L356.10 464.32L356.25 464.36L356.40 464.39L356.55 464.41L356.70 464.43L356.85 464.45L357.00 464.46L357.15 464.47L357.30 464.48L357.45 464.48L357.60 464.49L357.75 464.49L357.90 464.49L358.05 464.50L358.20 464.50L358.35 464.50L358.50 464.50L358.65 464.50L358.80 464.50L358.95 464.50L359.10 464.50L359.25 464.50L359.40 464.50L359.55 464.50L359.70 464.50L359.85 464.50L360.00 464.50L360.15 464.50L360.30 464.50L360.45 464.50L360.60 464.50L360.75 464.50L360.90 464.50L361.05 464.50L361.20 464.50L361.35 464.50L361.50 464.50L361.65 464.50L361.80 464.50L361.80 464.50" fill="#fff" stroke="#1a1a1a" stroke-width="0.7" stroke-linejoin="round"/>
<path d="M381.00 464.50L381.00 464.50L381.15 464.50L381.30 464.50L381.45 464.50L381.60 464.50L381.75 464.50L381.90 464.50L382.05 464.50L382.20 464.50L382.35 464.50L382.50 464.50L382.65 464.50L382.80 464.50L382.95 464.50L383.10 464.50L383.25 464.50L383.40 464.50L383.55 464.50L383.70 464.50L383.85 464.50L384.00 464.50L384.15 464.50L384.30 464.50L384.45 464.50L384.60 464.50L384.75 464.50L384.90 464.50L385.05 464.50L385.20 464.50L385.35 464.49L385.50 464.49L385.65 464.49L385.80 464.49L385.95 464.48L386.10 464.47L386.25 464.47L386.40 464.46L386.55 464.45L386.70 464.43L386.85 464.42L387.00 464.40L387.15 464.38L387.30 464.35L387.45 464.32L387.60 464.29L387.75 464.26L387.90 464.22L388.05 464.18L388.20 464.13L388.35 464.09L388.50 464.04L388.65 463.99L388.80 463.94L388.95 463.87L389.10 463.76L389.25 463.54L389.40 463.13L389.55 462.47L389.70 461.65L389.85 460.93L390.00 460.62L390.15 460.86L390.30 461.52L390.45 462.27L390.60 462.84L390.75 463.17L390.90 463.29L391.05 463.29L391.20 463.24L391.35 463.16L391.50 463.07L391.65 462.96L391.80 462.84L391.95 462.71L392.10 462.57L392.25 462.42L392.40 462.27L392.55 462.09L392.70 461.86L392.85 461.46L393.00 460.63L393.15 459.02L393.30 456.44L393.45 453.21L393.60 450.37L393.75 449.19L393.90 450.24L394.05 452.95L394.20 456.05L394.35 458.48L394.50 459.92L394.65 460.57L394.80 460.78L394.95 460.78L395.10 460.71L395.25 460.60L395.40 460.45L395.55 460.28L395.70 460.09L395.85 459.86L396.00 459.62L396.15 459.36L396.30 459.05L396.45 458.62L396.60 457.81L396.75 456.09L396.90 452.72L397.05 447.26L397.20 440.42L397.35 434.41L397.50 431.95L397.65 434.26L397.80 440.12L397.95 446.81L398.10 452.09L398.25 455.27L398.40 456.78L398.55 457.35L398.70 457.52L398.85 457.54L399.00 457.49L399.15 457.39L399.30 457.25L399.45 457.07L399.60 456.84L399.75 456.57L399.90 456.27L400.05 455.90L400.20 455.33L400.35 454.19L400.50 451.68L400.65 446.69L400.80 438.56L400.95 428.36L401.10 419.41L401.25 415.78L401.40 419.33L401.55 428.19L401.70 438.31L401.85 446.35L402.00 451.23L402.15 453.63L402.30 454.64L402.45 455.06L402.60 455.27L402.75 455.40L402.90 455.48L403.05 455.50L403.20 455.47L403.35 455.39L403.50 455.25L403.65 455.06L403.80 454.79L403.95 454.29L404.10 453.18L404.25 450.63L404.40 445.48L404.55 437.05L404.70 426.44L404.85 417.14L405.00 413.37L405.15 417.07L405.30 426.32L405.45 436.87L405.60 445.27L405.75 450.40L405.90 452.96L406.05 454.11L406.20 454.67L406.35 455.06L406.50 455.39L406.65 455.69L406.80 455.93L406.95 455.96L407.10 455.47L407.25 453.94L407.40 450.92L407.55 446.57L407.70 442.16L407.85 439.65L408.00 440.44L408.15 444.22L408.30 449.25L408.45 453.67L408.60 456.61L408.75 458.19L408.90 458.92L409.05 459.25L409.20 459.44L409.35 459.59L409.50 459.71L409.65 459.81L409.80 459.86L409.95 459.76L410.10 459.30L410.25 458.14L410.40 455.94L410.55 452.84L410.70 449.70L410.85 447.91L411.00 448.43L411.15 451.04L411.30 454.53L411.45 457.62L411.60 459.70L411.75 460.83L411.90 461.39L412.05 461.68L412.20 461.88L412.35 462.04L412.50 462.20L412.65 462.34L412.80 462.48L412.95 462.60L413.10 462.71L413.25 462.80L413.40 462.84L413.55 462.80L413.70 462.56L413.85 462.02L414.00 461.15L414.15 460.15L414.30 459.43L414.45 459.35L414.60 459.99L414.75 461.05L414.90 462.11L415.05 462.88L415.20 463.33L415.35 463.56L415.50 463.69L415.65 463.77L415.80 463.84L415.95 463.90L416.10 463.97L416.25 464.03L416.40 464.09L416.55 464.14L416.70 464.19L416.85 464.24L417.00 464.28L417.15 464.31L417.30 464.35L417.45 464.37L417.60 464.40L417.75 464.42L417.90 464.43L418.05 464.45L418.20 464.46L418.35 464.47L418.50 464.48L418.65 464.48L418.80 464.49L418.95 464.49L419.10 464.49L419.25 464.49L419.40 464.50L419.55 464.50L419.70 464.50L419.85 464.50L420.00 464.50L420.15 464.50L420.30 464.50L420.45 464.50L420.60 464.50L420.75 464.50L420.90 464.50L421.05 464.50L421.20 464.50L421.35 464.50L421.50 464.50L421.65 464.50L421.80 464.50L421.95 464.50L422.10 464.50L422.25 464.50L422.40 464.50L422.55 464.50L422.70 464.50L422.85 464.50L423.00 464.50L423.15 464.50L423.30 464.50L423.30 464.50" fill="#fff" stroke="#1a1a1a" stroke-width="0.7" stroke-linejoin="round"/>
<line x1="44.4" y1="464.5" x2="427.6" y2="464.5" stroke="#111" stroke-width="1.3"/>
<path d="M65.60 464.50v2.4M80.00 464.50v2.4M119.40 464.50v2.4M134.40 464.50v2.4M175.00 464.50v2.4M188.80 464.50v2.4M229.70 464.50v2.4M243.80 464.50v2.4M285.30 464.50v2.4M299.40 464.50v2.4M339.70 464.50v2.4M353.80 464.50v2.4M394.40 464.50v2.4M409.40 464.50v2.4" stroke="#111" stroke-width="0.8" fill="none"/>
<text x="166.5" y="268.6" font-size="11" font-weight="bold" text-anchor="middle">V<tspan font-family="'Liberation Serif', serif" font-weight="normal" font-size="12" dy="2.6" style="stroke-width:0.15px">β</tspan><tspan dy="-2.6">2</tspan></text>
<text x="220" y="268.6" font-size="11" font-weight="bold" text-anchor="middle">V<tspan font-family="'Liberation Serif', serif" font-weight="normal" font-size="12" dy="2.6" style="stroke-width:0.15px">β</tspan><tspan dy="-2.6">3</tspan></text>
<text x="275.5" y="268.6" font-size="11" font-weight="bold" text-anchor="middle">V<tspan font-family="'Liberation Serif', serif" font-weight="normal" font-size="12" dy="2.6" style="stroke-width:0.15px">β</tspan><tspan dy="-2.6">4</tspan></text>
<text x="330.2" y="268.6" font-size="11" font-weight="bold" text-anchor="middle">V<tspan font-family="'Liberation Serif', serif" font-weight="normal" font-size="12" dy="2.6" style="stroke-width:0.15px">β</tspan><tspan dy="-2.6">6</tspan></text>
<text x="386.5" y="268.6" font-size="11" font-weight="bold" text-anchor="middle">V<tspan font-family="'Liberation Serif', serif" font-weight="normal" font-size="12" dy="2.6" style="stroke-width:0.15px">β</tspan><tspan dy="-2.6">7</tspan></text>
<text x="442" y="268.6" font-size="11" font-weight="bold" text-anchor="middle">V<tspan font-family="'Liberation Serif', serif" font-weight="normal" font-size="12" dy="2.6" style="stroke-width:0.15px">β</tspan><tspan dy="-2.6">14</tspan></text>
<text x="498.2" y="268.6" font-size="11" font-weight="bold" text-anchor="middle">V<tspan font-family="'Liberation Serif', serif" font-weight="normal" font-size="12" dy="2.6" style="stroke-width:0.15px">β</tspan><tspan dy="-2.6">17</tspan></text>
<text x="126.5" y="313.8" font-size="11" font-weight="bold" text-anchor="middle" >#2</text>
<text x="107.5" y="341.2" font-size="11" font-weight="bold" text-anchor="middle" >#1</text>
<text x="89.4" y="369" font-size="11" font-weight="bold" text-anchor="middle" >#3</text>
<text x="71.2" y="396" font-size="11" font-weight="bold" text-anchor="middle" >#2</text>
<text x="52.6" y="424.2" font-size="11" font-weight="bold" text-anchor="middle" >#1</text>
<text transform="translate(81.5,316.5) rotate(-55)" font-size="11" font-weight="bold" text-anchor="middle">syngeneic</text>
<text transform="translate(91.1,320.9) rotate(-55)" font-size="11" font-weight="bold" text-anchor="middle">BMT</text>
<text transform="translate(36.7,371.7) rotate(-55)" font-size="11" font-weight="bold" text-anchor="middle">semi-</text>
<text transform="translate(46.3,376.6) rotate(-55)" font-size="11" font-weight="bold" text-anchor="middle">allogeneic</text>
<text transform="translate(55.5,382.9) rotate(-55)" font-size="11" font-weight="bold" text-anchor="middle">BMT</text>
<text transform="translate(13.3,443.3) rotate(-55)" font-size="11" font-weight="bold" text-anchor="middle">donor</text>
 <text x="149.4" y="485.9" font-size="11" font-weight="bold" text-anchor="start">TCR<tspan font-family="'Liberation Serif', serif" font-weight="normal" dy="2.4">β</tspan><tspan dy="-2.4"> CDR3 length (nucleotides)</tspan></text>
<path d="M440.7 461.2v2.6h14.6v-2.6" stroke="#111" stroke-width="0.8" fill="none"/>
<text x="452.2" y="472.9" font-size="7.9" font-weight="bold" text-anchor="middle" >10 bp</text></svg>
</body></html>
